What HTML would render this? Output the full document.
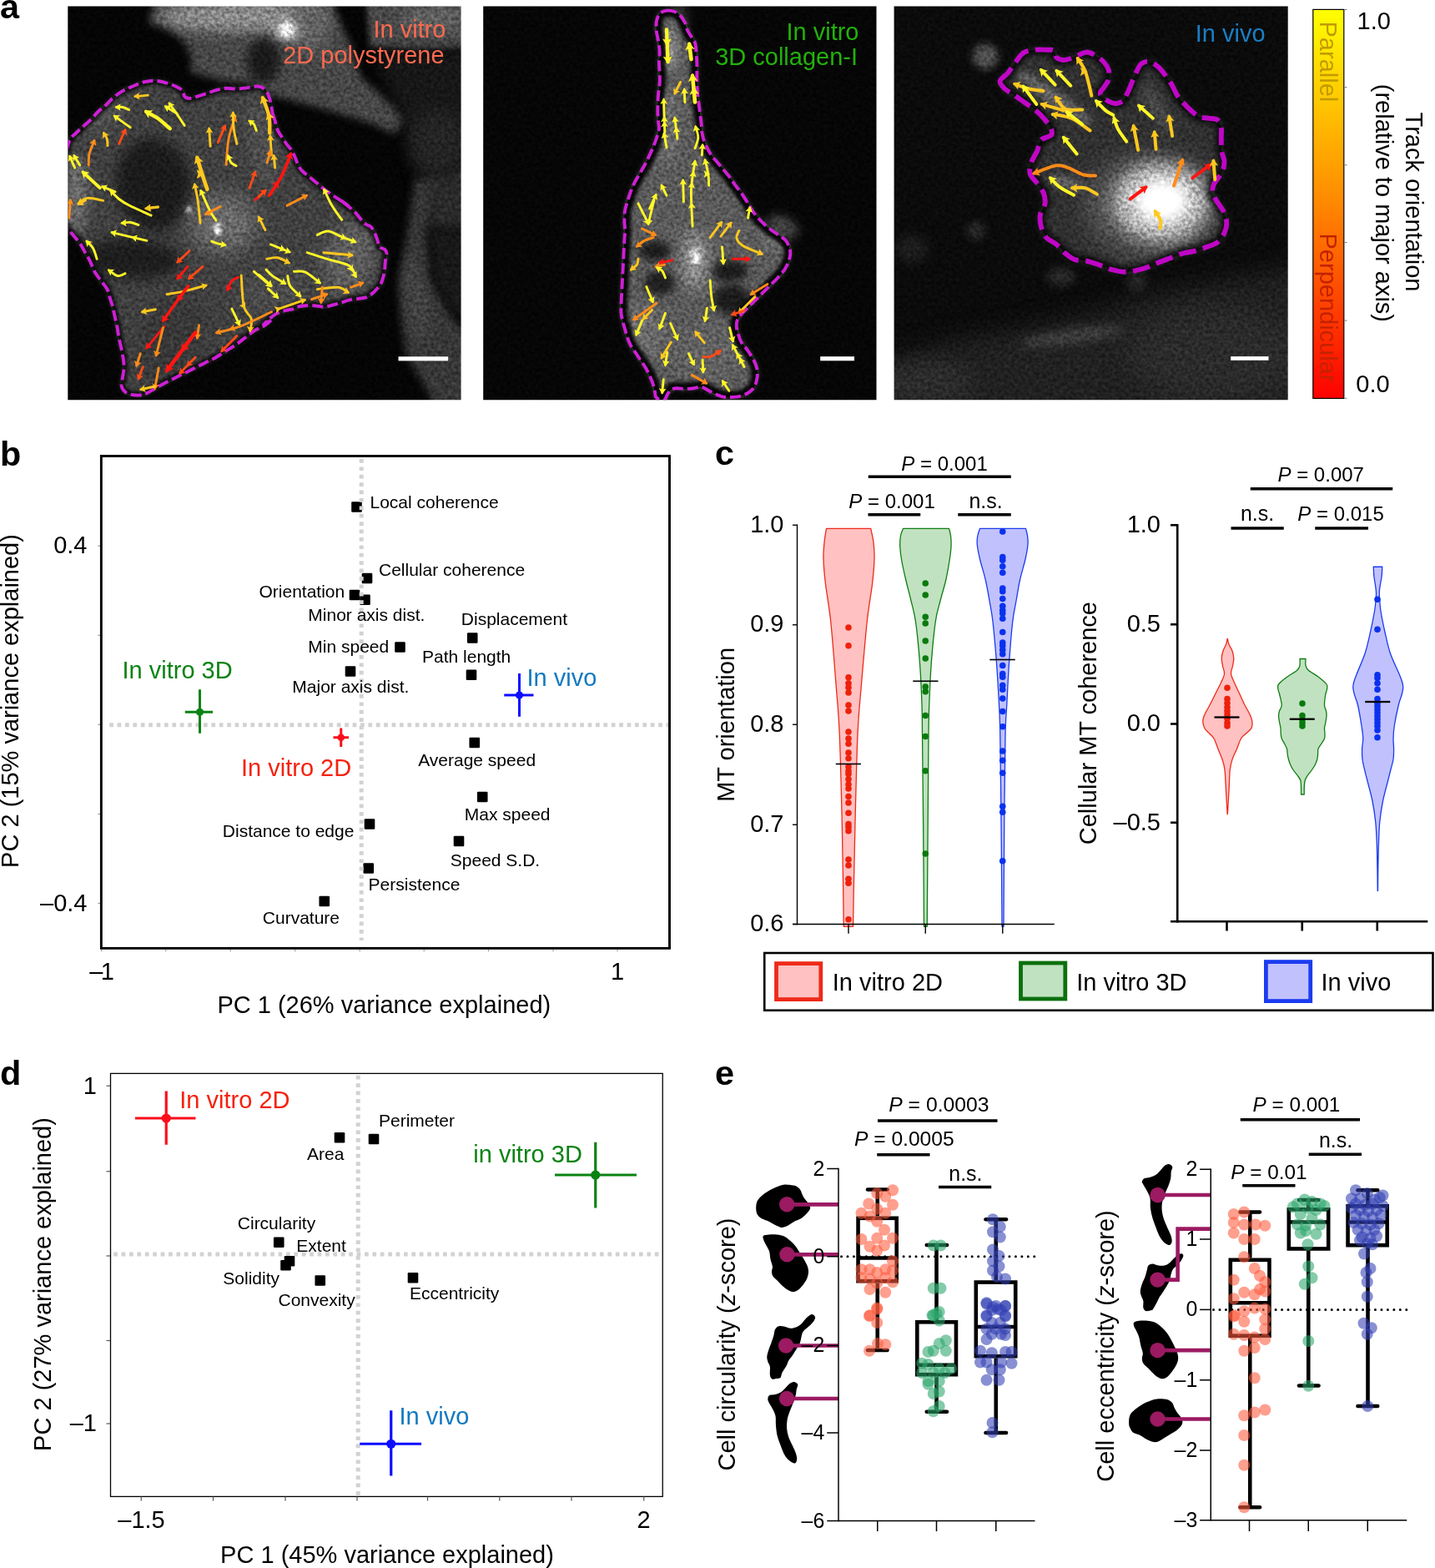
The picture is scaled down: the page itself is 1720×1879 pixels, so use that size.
<!DOCTYPE html>
<html lang="en">
<head>
<meta charset="utf-8">
<title>Microtubule dynamics figure</title>
<style>
html,body{margin:0;padding:0;background:#fff;}
body{width:1720px;height:1879px;overflow:hidden;}
svg{display:block;font-family:"Liberation Sans",sans-serif;}
</style>
</head>
<body>
<svg width="1720" height="1879" viewBox="0 0 1720 1879">
<rect width="1720" height="1879" fill="#fff"/>
<defs>
<filter id="b2" x="-100%" y="-100%" width="300%" height="300%" color-interpolation-filters="sRGB"><feGaussianBlur stdDeviation="2"/></filter>
<filter id="b3" x="-100%" y="-100%" width="300%" height="300%" color-interpolation-filters="sRGB"><feGaussianBlur stdDeviation="3"/></filter>
<filter id="b5" x="-100%" y="-100%" width="300%" height="300%" color-interpolation-filters="sRGB"><feGaussianBlur stdDeviation="5"/></filter>
<filter id="b6" x="-100%" y="-100%" width="300%" height="300%" color-interpolation-filters="sRGB"><feGaussianBlur stdDeviation="6"/></filter>
<filter id="b7" x="-100%" y="-100%" width="300%" height="300%" color-interpolation-filters="sRGB"><feGaussianBlur stdDeviation="7"/></filter>
<filter id="b8" x="-100%" y="-100%" width="300%" height="300%" color-interpolation-filters="sRGB"><feGaussianBlur stdDeviation="8"/></filter>
<filter id="b9" x="-100%" y="-100%" width="300%" height="300%" color-interpolation-filters="sRGB"><feGaussianBlur stdDeviation="9"/></filter>
<filter id="b10" x="-100%" y="-100%" width="300%" height="300%" color-interpolation-filters="sRGB"><feGaussianBlur stdDeviation="10"/></filter>
<filter id="b12" x="-100%" y="-100%" width="300%" height="300%" color-interpolation-filters="sRGB"><feGaussianBlur stdDeviation="12"/></filter>
<filter id="b14" x="-100%" y="-100%" width="300%" height="300%" color-interpolation-filters="sRGB"><feGaussianBlur stdDeviation="14"/></filter>
<filter id="grain" x="0" y="0" width="100%" height="100%" color-interpolation-filters="sRGB">
<feTurbulence type="fractalNoise" baseFrequency="0.24" numOctaves="2" seed="7" result="n"/>
<feColorMatrix in="n" type="matrix" values="0 0 0 0 0  0 0 0 0 0  0 0 0 0 0  1.6 0 0 0 -0.3" result="na"/>
<feColorMatrix in="na" type="matrix" values="0 0 0 1 0  0 0 0 1 0  0 0 0 1 0  0 0 0 0 1" result="ng0"/>
<feGaussianBlur in="ng0" stdDeviation="0.7" result="ng"/>
<feComposite in="SourceGraphic" in2="ng" operator="arithmetic" k1="0.6" k2="0.7" k3="0.02" k4="-0.01"/>
</filter>
<linearGradient id="cb" x1="0" y1="0" x2="0" y2="1"><stop offset="0" stop-color="#ffff00"/><stop offset="0.5" stop-color="#ff8800"/><stop offset="1" stop-color="#ff0000"/></linearGradient>
<clipPath id="ci1"><rect x="81.3" y="7.4" width="471.3" height="471.8"/></clipPath>
<clipPath id="ci2"><rect x="579.2" y="7.4" width="471.3" height="471.8"/></clipPath>
<clipPath id="ci3"><rect x="1071.6" y="7.4" width="472.1" height="471.8"/></clipPath>
</defs>
<g id="panel-a">
<text x="0" y="22.4" font-size="41.4" font-weight="bold">a</text>
<g clip-path="url(#ci1)">
<g filter="url(#grain)">
<rect x="79.3" y="5.4" width="475.3" height="475.8" fill="#050505"/>
<path d="M191 -20L394 -20L400 10L420 54L432 92L487 141L473 161L446 148L390 131L320 113L301 99L292 100L262 96L228 86L230 70L222 52L200 33L178 28Z" fill="#474747" filter="url(#b5)"/>
<path d="M437 -20L580 -20L580 58L500 60L443 56Z" fill="#484848" filter="url(#b3)"/>
<path d="M445 60L580 60L580 215L500 215L490 160Z" fill="#171717" filter="url(#b8)"/>
<ellipse cx="525" cy="170" rx="35" ry="40" fill="#242424" filter="url(#b10)"/>
<ellipse cx="290" cy="20" rx="100" ry="18" fill="#8c8c8c" filter="url(#b8)"/>
<ellipse cx="372" cy="30" rx="25" ry="30" fill="#626262" filter="url(#b8)"/>
<ellipse cx="520" cy="22" rx="40" ry="16" fill="#606060" filter="url(#b8)"/>
<ellipse cx="343.7" cy="36" rx="16" ry="13" fill="#b0b0b0" filter="url(#b6)"/>
<ellipse cx="343.7" cy="35.5" rx="7" ry="9" fill="#ffffff" filter="url(#b3)" transform="rotate(20 343.7 35.5)"/>
<ellipse cx="316" cy="73" rx="20" ry="27" fill="#1a1a1a" filter="url(#b6)"/>
<path d="M497 215L489 275L477.5 334L480 379L486 424L512 468L522 490L580 490L580 424L541 379L516 334L512 275L530 215L580 200L580 215Z" fill="#373737" filter="url(#b5)"/>
<path d="M512 215L580 205L580 275L514 275Z" fill="#2a2a2a" filter="url(#b6)"/>
<path d="M514 275L580 270L580 375L543 378L518 334Z" fill="#181818" filter="url(#b6)"/>
<ellipse cx="500" cy="360" rx="12" ry="50" fill="#424242" filter="url(#b6)" transform="rotate(-8 500 360)"/>
<clipPath id="co1"><path d="M76.05 198.03C76.8 182.98 79.2 182.16 80.58 176.87C81.97 171.58 82.6 169.19 84.36 166.29C86.12 163.39 88.52 162.01 91.16 159.49C93.81 156.97 97.21 153.94 100.23 151.17C103.26 148.4 106.28 145.88 109.3 142.86C112.33 139.83 115.35 135.93 118.37 133.03C121.4 130.13 124.42 128.24 127.45 125.47C130.47 122.7 132.99 119.3 136.52 116.4C140.04 113.5 144.58 110.36 148.61 108.09C152.64 105.82 156.67 104.43 160.7 102.8C164.73 101.16 168.77 99.27 172.8 98.26C176.83 97.25 180.61 96.62 184.89 96.75C189.17 96.88 194.21 97.88 198.5 99.02C202.78 100.15 207.19 101.91 210.59 103.55C213.99 105.19 217.14 106.83 218.9 108.84C220.67 110.86 219.79 114.13 221.17 115.65C222.56 117.16 224.7 117.91 227.22 117.91C229.74 117.91 232.76 116.65 236.29 115.65C239.82 114.64 244.6 113.13 248.38 111.87C252.16 110.61 255.19 109.1 258.96 108.09C262.74 107.08 266.78 106.07 271.06 105.82C275.34 105.57 280.38 106.7 284.66 106.58C288.95 106.45 292.73 105.57 296.76 105.06C300.79 104.56 305.32 103.17 308.85 103.55C312.38 103.93 315.65 105.19 317.92 107.33C320.19 109.47 321.2 112.87 322.46 116.4C323.72 119.93 324.72 124.46 325.48 128.5C326.24 132.53 326.8 139.33 326.99 140.59C327.18 141.85 326.19 135.3 326.63 136.05C327.07 136.81 328.64 141.85 329.65 145.12C330.66 148.4 331.42 152.68 332.68 155.71C333.94 158.73 335.45 160.49 337.21 163.27C338.97 166.04 341.24 169.56 343.26 172.34C345.27 175.11 347.54 177.12 349.3 179.89C351.07 182.67 352.58 186.19 353.84 188.96C355.1 191.74 355.6 194 356.86 196.52C358.12 199.04 359.13 201.56 361.4 204.08C363.67 206.6 367.45 209.12 370.47 211.64C373.49 214.16 376.52 216.68 379.54 219.2C382.56 221.72 385.33 224.24 388.61 226.76C391.88 229.28 395.92 232.05 399.19 234.32C402.47 236.58 405.24 238.35 408.26 240.36C411.28 242.38 417.33 246.47 417.33 246.41C417.33 246.35 408.51 240.06 408.26 240C408.01 239.94 413.05 243.78 415.82 246.05C418.59 248.31 422.12 250.83 424.89 253.61C427.66 256.38 430.18 260.16 432.45 262.68C434.72 265.2 436.48 267.21 438.5 268.72C440.51 270.23 442.78 269.98 444.54 271.75C446.31 273.51 447.82 276.79 449.08 279.3C450.34 281.82 451.09 284.09 452.1 286.86C453.11 289.63 453.61 293.92 455.12 295.93C456.64 297.95 459.79 297.7 461.17 298.96C462.56 300.22 463.31 301.22 463.44 303.49C463.57 305.76 462.31 309.54 461.93 312.56C461.55 315.59 461.55 318.61 461.17 321.63C460.79 324.66 460.42 327.68 459.66 330.7C458.9 333.73 457.9 337.25 456.64 339.77C455.38 342.29 453.86 343.8 452.1 345.82C450.34 347.84 448.32 350.1 446.05 351.87C443.79 353.63 441.27 355.39 438.5 356.4C435.72 357.41 432.7 357.41 429.43 357.91C426.15 358.42 422.12 358.67 418.84 359.43C415.57 360.18 413.05 361.44 409.77 362.45C406.5 363.46 402.72 364.59 399.19 365.47C395.66 366.35 392.39 367.61 388.61 367.74C384.83 367.87 380.29 366.48 376.52 366.23C372.74 365.98 369.21 365.98 365.93 366.23C362.66 366.48 359.13 367.11 356.86 367.74C354.6 368.37 354.34 369.38 352.33 370.01C350.31 370.64 347.04 371.02 344.77 371.52C342.5 372.02 341.24 372.15 338.72 373.03C336.2 373.91 332.42 375.17 329.65 376.81C326.88 378.45 324.36 380.84 322.09 382.86C319.83 384.87 315.48 388.9 316.05 388.9C316.61 388.9 325.17 382.73 325.48 382.86C325.79 382.98 321.2 387.52 317.92 389.66C314.65 391.8 309.86 393.19 305.83 395.71C301.8 398.23 297.77 401.75 293.73 404.78C289.7 407.8 285.67 411.08 281.64 413.85C277.61 416.62 273.58 418.89 269.55 421.41C265.52 423.93 261.48 426.7 257.45 428.96C253.42 431.23 249.39 433 245.36 435.01C241.33 437.03 237.3 439.04 233.27 441.06C229.23 443.07 225.2 445.09 221.17 447.11C217.14 449.12 213.11 451.14 209.08 453.15C205.05 455.17 200.76 457.18 196.98 459.2C193.2 461.21 189.93 463.23 186.4 465.25C182.87 467.26 178.84 469.91 175.82 471.29C172.8 472.68 171.28 473.31 168.26 473.56C165.24 473.81 160.7 473.43 157.68 472.8C154.66 472.17 152.14 471.54 150.12 469.78C148.11 468.02 146.09 465.25 145.59 462.22C145.08 459.2 146.59 455.17 147.1 451.64C147.6 448.11 148.48 444.59 148.61 441.06C148.74 437.53 148.36 434.26 147.85 430.48C147.35 426.7 146.47 422.67 145.59 418.38C144.7 414.1 143.44 409.31 142.56 404.78C141.68 400.24 141.18 395.71 140.29 391.17C139.41 386.64 138.15 381.6 137.27 377.57C136.39 373.53 135.89 370.26 135 366.98C134.12 363.71 132.99 361.19 131.98 357.91C130.97 354.64 130.72 350.86 128.96 347.33C127.19 343.8 123.92 340.28 121.4 336.75C118.88 333.22 116.11 330.2 113.84 326.17C111.57 322.14 109.81 316.59 107.79 312.56C105.78 308.53 103.76 305.51 101.75 301.98C99.73 298.45 97.97 294.67 95.7 291.4C93.43 288.12 90.41 285.1 88.14 282.33C85.87 279.56 84.11 277.29 82.09 274.77C80.08 272.25 77.05 280 76.05 267.21C75.04 254.42 75.29 213.09 76.05 198.03Z"/></clipPath>
<path d="M76.05 198.03C76.8 182.98 79.2 182.16 80.58 176.87C81.97 171.58 82.6 169.19 84.36 166.29C86.12 163.39 88.52 162.01 91.16 159.49C93.81 156.97 97.21 153.94 100.23 151.17C103.26 148.4 106.28 145.88 109.3 142.86C112.33 139.83 115.35 135.93 118.37 133.03C121.4 130.13 124.42 128.24 127.45 125.47C130.47 122.7 132.99 119.3 136.52 116.4C140.04 113.5 144.58 110.36 148.61 108.09C152.64 105.82 156.67 104.43 160.7 102.8C164.73 101.16 168.77 99.27 172.8 98.26C176.83 97.25 180.61 96.62 184.89 96.75C189.17 96.88 194.21 97.88 198.5 99.02C202.78 100.15 207.19 101.91 210.59 103.55C213.99 105.19 217.14 106.83 218.9 108.84C220.67 110.86 219.79 114.13 221.17 115.65C222.56 117.16 224.7 117.91 227.22 117.91C229.74 117.91 232.76 116.65 236.29 115.65C239.82 114.64 244.6 113.13 248.38 111.87C252.16 110.61 255.19 109.1 258.96 108.09C262.74 107.08 266.78 106.07 271.06 105.82C275.34 105.57 280.38 106.7 284.66 106.58C288.95 106.45 292.73 105.57 296.76 105.06C300.79 104.56 305.32 103.17 308.85 103.55C312.38 103.93 315.65 105.19 317.92 107.33C320.19 109.47 321.2 112.87 322.46 116.4C323.72 119.93 324.72 124.46 325.48 128.5C326.24 132.53 326.8 139.33 326.99 140.59C327.18 141.85 326.19 135.3 326.63 136.05C327.07 136.81 328.64 141.85 329.65 145.12C330.66 148.4 331.42 152.68 332.68 155.71C333.94 158.73 335.45 160.49 337.21 163.27C338.97 166.04 341.24 169.56 343.26 172.34C345.27 175.11 347.54 177.12 349.3 179.89C351.07 182.67 352.58 186.19 353.84 188.96C355.1 191.74 355.6 194 356.86 196.52C358.12 199.04 359.13 201.56 361.4 204.08C363.67 206.6 367.45 209.12 370.47 211.64C373.49 214.16 376.52 216.68 379.54 219.2C382.56 221.72 385.33 224.24 388.61 226.76C391.88 229.28 395.92 232.05 399.19 234.32C402.47 236.58 405.24 238.35 408.26 240.36C411.28 242.38 417.33 246.47 417.33 246.41C417.33 246.35 408.51 240.06 408.26 240C408.01 239.94 413.05 243.78 415.82 246.05C418.59 248.31 422.12 250.83 424.89 253.61C427.66 256.38 430.18 260.16 432.45 262.68C434.72 265.2 436.48 267.21 438.5 268.72C440.51 270.23 442.78 269.98 444.54 271.75C446.31 273.51 447.82 276.79 449.08 279.3C450.34 281.82 451.09 284.09 452.1 286.86C453.11 289.63 453.61 293.92 455.12 295.93C456.64 297.95 459.79 297.7 461.17 298.96C462.56 300.22 463.31 301.22 463.44 303.49C463.57 305.76 462.31 309.54 461.93 312.56C461.55 315.59 461.55 318.61 461.17 321.63C460.79 324.66 460.42 327.68 459.66 330.7C458.9 333.73 457.9 337.25 456.64 339.77C455.38 342.29 453.86 343.8 452.1 345.82C450.34 347.84 448.32 350.1 446.05 351.87C443.79 353.63 441.27 355.39 438.5 356.4C435.72 357.41 432.7 357.41 429.43 357.91C426.15 358.42 422.12 358.67 418.84 359.43C415.57 360.18 413.05 361.44 409.77 362.45C406.5 363.46 402.72 364.59 399.19 365.47C395.66 366.35 392.39 367.61 388.61 367.74C384.83 367.87 380.29 366.48 376.52 366.23C372.74 365.98 369.21 365.98 365.93 366.23C362.66 366.48 359.13 367.11 356.86 367.74C354.6 368.37 354.34 369.38 352.33 370.01C350.31 370.64 347.04 371.02 344.77 371.52C342.5 372.02 341.24 372.15 338.72 373.03C336.2 373.91 332.42 375.17 329.65 376.81C326.88 378.45 324.36 380.84 322.09 382.86C319.83 384.87 315.48 388.9 316.05 388.9C316.61 388.9 325.17 382.73 325.48 382.86C325.79 382.98 321.2 387.52 317.92 389.66C314.65 391.8 309.86 393.19 305.83 395.71C301.8 398.23 297.77 401.75 293.73 404.78C289.7 407.8 285.67 411.08 281.64 413.85C277.61 416.62 273.58 418.89 269.55 421.41C265.52 423.93 261.48 426.7 257.45 428.96C253.42 431.23 249.39 433 245.36 435.01C241.33 437.03 237.3 439.04 233.27 441.06C229.23 443.07 225.2 445.09 221.17 447.11C217.14 449.12 213.11 451.14 209.08 453.15C205.05 455.17 200.76 457.18 196.98 459.2C193.2 461.21 189.93 463.23 186.4 465.25C182.87 467.26 178.84 469.91 175.82 471.29C172.8 472.68 171.28 473.31 168.26 473.56C165.24 473.81 160.7 473.43 157.68 472.8C154.66 472.17 152.14 471.54 150.12 469.78C148.11 468.02 146.09 465.25 145.59 462.22C145.08 459.2 146.59 455.17 147.1 451.64C147.6 448.11 148.48 444.59 148.61 441.06C148.74 437.53 148.36 434.26 147.85 430.48C147.35 426.7 146.47 422.67 145.59 418.38C144.7 414.1 143.44 409.31 142.56 404.78C141.68 400.24 141.18 395.71 140.29 391.17C139.41 386.64 138.15 381.6 137.27 377.57C136.39 373.53 135.89 370.26 135 366.98C134.12 363.71 132.99 361.19 131.98 357.91C130.97 354.64 130.72 350.86 128.96 347.33C127.19 343.8 123.92 340.28 121.4 336.75C118.88 333.22 116.11 330.2 113.84 326.17C111.57 322.14 109.81 316.59 107.79 312.56C105.78 308.53 103.76 305.51 101.75 301.98C99.73 298.45 97.97 294.67 95.7 291.4C93.43 288.12 90.41 285.1 88.14 282.33C85.87 279.56 84.11 277.29 82.09 274.77C80.08 272.25 77.05 280 76.05 267.21C75.04 254.42 75.29 213.09 76.05 198.03Z" fill="#404040" filter="url(#b3)"/>
<g clip-path="url(#co1)">
<ellipse cx="183.91" cy="221.05" rx="45.28" ry="56.26" fill="#1b1b1b" filter="url(#b8)" transform="rotate(-8 183.91 221.05)"/>
<ellipse cx="157.84" cy="310.24" rx="59" ry="24.7" fill="#1d1d1d" filter="url(#b8)" transform="rotate(3 157.84 310.24)"/>
<ellipse cx="267.61" cy="267.7" rx="41.16" ry="35.68" fill="#6a6a6a" filter="url(#b12)"/>
<ellipse cx="260.75" cy="274.56" rx="4.39" ry="7.14" fill="#f4f4f4" filter="url(#b2)"/>
<ellipse cx="226.44" cy="251.24" rx="3.29" ry="3.29" fill="#e0e0e0" filter="url(#b2)"/>
<ellipse cx="418.54" cy="308.87" rx="30.19" ry="43.91" fill="#5e5e5e" filter="url(#b10)" transform="rotate(20 418.54 308.87)"/>
<ellipse cx="91.98" cy="234.77" rx="13.72" ry="46.65" fill="#6a6a6a" filter="url(#b7)"/>
<ellipse cx="124.91" cy="138.72" rx="32.93" ry="13.72" fill="#505050" filter="url(#b7)" transform="rotate(-35 124.91 138.72)"/>
<ellipse cx="314.26" cy="171.65" rx="16.47" ry="54.88" fill="#4e4e4e" filter="url(#b8)" transform="rotate(-10 314.26 171.65)"/>
<ellipse cx="204.49" cy="404.91" rx="38.42" ry="54.88" fill="#383838" filter="url(#b10)" transform="rotate(25 204.49 404.91)"/>
<ellipse cx="327.98" cy="350.03" rx="41.16" ry="27.44" fill="#4c4c4c" filter="url(#b12)"/>
<path d="M76.05 198.03C76.8 182.98 79.2 182.16 80.58 176.87C81.97 171.58 82.6 169.19 84.36 166.29C86.12 163.39 88.52 162.01 91.16 159.49C93.81 156.97 97.21 153.94 100.23 151.17C103.26 148.4 106.28 145.88 109.3 142.86C112.33 139.83 115.35 135.93 118.37 133.03C121.4 130.13 124.42 128.24 127.45 125.47C130.47 122.7 132.99 119.3 136.52 116.4C140.04 113.5 144.58 110.36 148.61 108.09C152.64 105.82 156.67 104.43 160.7 102.8C164.73 101.16 168.77 99.27 172.8 98.26C176.83 97.25 180.61 96.62 184.89 96.75C189.17 96.88 194.21 97.88 198.5 99.02C202.78 100.15 207.19 101.91 210.59 103.55C213.99 105.19 217.14 106.83 218.9 108.84C220.67 110.86 219.79 114.13 221.17 115.65C222.56 117.16 224.7 117.91 227.22 117.91C229.74 117.91 232.76 116.65 236.29 115.65C239.82 114.64 244.6 113.13 248.38 111.87C252.16 110.61 255.19 109.1 258.96 108.09C262.74 107.08 266.78 106.07 271.06 105.82C275.34 105.57 280.38 106.7 284.66 106.58C288.95 106.45 292.73 105.57 296.76 105.06C300.79 104.56 305.32 103.17 308.85 103.55C312.38 103.93 315.65 105.19 317.92 107.33C320.19 109.47 321.2 112.87 322.46 116.4C323.72 119.93 324.72 124.46 325.48 128.5C326.24 132.53 326.8 139.33 326.99 140.59C327.18 141.85 326.19 135.3 326.63 136.05C327.07 136.81 328.64 141.85 329.65 145.12C330.66 148.4 331.42 152.68 332.68 155.71C333.94 158.73 335.45 160.49 337.21 163.27C338.97 166.04 341.24 169.56 343.26 172.34C345.27 175.11 347.54 177.12 349.3 179.89C351.07 182.67 352.58 186.19 353.84 188.96C355.1 191.74 355.6 194 356.86 196.52C358.12 199.04 359.13 201.56 361.4 204.08C363.67 206.6 367.45 209.12 370.47 211.64C373.49 214.16 376.52 216.68 379.54 219.2C382.56 221.72 385.33 224.24 388.61 226.76C391.88 229.28 395.92 232.05 399.19 234.32C402.47 236.58 405.24 238.35 408.26 240.36C411.28 242.38 417.33 246.47 417.33 246.41C417.33 246.35 408.51 240.06 408.26 240C408.01 239.94 413.05 243.78 415.82 246.05C418.59 248.31 422.12 250.83 424.89 253.61C427.66 256.38 430.18 260.16 432.45 262.68C434.72 265.2 436.48 267.21 438.5 268.72C440.51 270.23 442.78 269.98 444.54 271.75C446.31 273.51 447.82 276.79 449.08 279.3C450.34 281.82 451.09 284.09 452.1 286.86C453.11 289.63 453.61 293.92 455.12 295.93C456.64 297.95 459.79 297.7 461.17 298.96C462.56 300.22 463.31 301.22 463.44 303.49C463.57 305.76 462.31 309.54 461.93 312.56C461.55 315.59 461.55 318.61 461.17 321.63C460.79 324.66 460.42 327.68 459.66 330.7C458.9 333.73 457.9 337.25 456.64 339.77C455.38 342.29 453.86 343.8 452.1 345.82C450.34 347.84 448.32 350.1 446.05 351.87C443.79 353.63 441.27 355.39 438.5 356.4C435.72 357.41 432.7 357.41 429.43 357.91C426.15 358.42 422.12 358.67 418.84 359.43C415.57 360.18 413.05 361.44 409.77 362.45C406.5 363.46 402.72 364.59 399.19 365.47C395.66 366.35 392.39 367.61 388.61 367.74C384.83 367.87 380.29 366.48 376.52 366.23C372.74 365.98 369.21 365.98 365.93 366.23C362.66 366.48 359.13 367.11 356.86 367.74C354.6 368.37 354.34 369.38 352.33 370.01C350.31 370.64 347.04 371.02 344.77 371.52C342.5 372.02 341.24 372.15 338.72 373.03C336.2 373.91 332.42 375.17 329.65 376.81C326.88 378.45 324.36 380.84 322.09 382.86C319.83 384.87 315.48 388.9 316.05 388.9C316.61 388.9 325.17 382.73 325.48 382.86C325.79 382.98 321.2 387.52 317.92 389.66C314.65 391.8 309.86 393.19 305.83 395.71C301.8 398.23 297.77 401.75 293.73 404.78C289.7 407.8 285.67 411.08 281.64 413.85C277.61 416.62 273.58 418.89 269.55 421.41C265.52 423.93 261.48 426.7 257.45 428.96C253.42 431.23 249.39 433 245.36 435.01C241.33 437.03 237.3 439.04 233.27 441.06C229.23 443.07 225.2 445.09 221.17 447.11C217.14 449.12 213.11 451.14 209.08 453.15C205.05 455.17 200.76 457.18 196.98 459.2C193.2 461.21 189.93 463.23 186.4 465.25C182.87 467.26 178.84 469.91 175.82 471.29C172.8 472.68 171.28 473.31 168.26 473.56C165.24 473.81 160.7 473.43 157.68 472.8C154.66 472.17 152.14 471.54 150.12 469.78C148.11 468.02 146.09 465.25 145.59 462.22C145.08 459.2 146.59 455.17 147.1 451.64C147.6 448.11 148.48 444.59 148.61 441.06C148.74 437.53 148.36 434.26 147.85 430.48C147.35 426.7 146.47 422.67 145.59 418.38C144.7 414.1 143.44 409.31 142.56 404.78C141.68 400.24 141.18 395.71 140.29 391.17C139.41 386.64 138.15 381.6 137.27 377.57C136.39 373.53 135.89 370.26 135 366.98C134.12 363.71 132.99 361.19 131.98 357.91C130.97 354.64 130.72 350.86 128.96 347.33C127.19 343.8 123.92 340.28 121.4 336.75C118.88 333.22 116.11 330.2 113.84 326.17C111.57 322.14 109.81 316.59 107.79 312.56C105.78 308.53 103.76 305.51 101.75 301.98C99.73 298.45 97.97 294.67 95.7 291.4C93.43 288.12 90.41 285.1 88.14 282.33C85.87 279.56 84.11 277.29 82.09 274.77C80.08 272.25 77.05 280 76.05 267.21C75.04 254.42 75.29 213.09 76.05 198.03Z" fill="none" stroke="#050505" stroke-width="9" filter="url(#b2)" opacity="0.8"/>
</g>
</g>
<path d="M76.05 198.03C76.8 182.98 79.2 182.16 80.58 176.87C81.97 171.58 82.6 169.19 84.36 166.29C86.12 163.39 88.52 162.01 91.16 159.49C93.81 156.97 97.21 153.94 100.23 151.17C103.26 148.4 106.28 145.88 109.3 142.86C112.33 139.83 115.35 135.93 118.37 133.03C121.4 130.13 124.42 128.24 127.45 125.47C130.47 122.7 132.99 119.3 136.52 116.4C140.04 113.5 144.58 110.36 148.61 108.09C152.64 105.82 156.67 104.43 160.7 102.8C164.73 101.16 168.77 99.27 172.8 98.26C176.83 97.25 180.61 96.62 184.89 96.75C189.17 96.88 194.21 97.88 198.5 99.02C202.78 100.15 207.19 101.91 210.59 103.55C213.99 105.19 217.14 106.83 218.9 108.84C220.67 110.86 219.79 114.13 221.17 115.65C222.56 117.16 224.7 117.91 227.22 117.91C229.74 117.91 232.76 116.65 236.29 115.65C239.82 114.64 244.6 113.13 248.38 111.87C252.16 110.61 255.19 109.1 258.96 108.09C262.74 107.08 266.78 106.07 271.06 105.82C275.34 105.57 280.38 106.7 284.66 106.58C288.95 106.45 292.73 105.57 296.76 105.06C300.79 104.56 305.32 103.17 308.85 103.55C312.38 103.93 315.65 105.19 317.92 107.33C320.19 109.47 321.2 112.87 322.46 116.4C323.72 119.93 324.72 124.46 325.48 128.5C326.24 132.53 326.8 139.33 326.99 140.59C327.18 141.85 326.19 135.3 326.63 136.05C327.07 136.81 328.64 141.85 329.65 145.12C330.66 148.4 331.42 152.68 332.68 155.71C333.94 158.73 335.45 160.49 337.21 163.27C338.97 166.04 341.24 169.56 343.26 172.34C345.27 175.11 347.54 177.12 349.3 179.89C351.07 182.67 352.58 186.19 353.84 188.96C355.1 191.74 355.6 194 356.86 196.52C358.12 199.04 359.13 201.56 361.4 204.08C363.67 206.6 367.45 209.12 370.47 211.64C373.49 214.16 376.52 216.68 379.54 219.2C382.56 221.72 385.33 224.24 388.61 226.76C391.88 229.28 395.92 232.05 399.19 234.32C402.47 236.58 405.24 238.35 408.26 240.36C411.28 242.38 417.33 246.47 417.33 246.41C417.33 246.35 408.51 240.06 408.26 240C408.01 239.94 413.05 243.78 415.82 246.05C418.59 248.31 422.12 250.83 424.89 253.61C427.66 256.38 430.18 260.16 432.45 262.68C434.72 265.2 436.48 267.21 438.5 268.72C440.51 270.23 442.78 269.98 444.54 271.75C446.31 273.51 447.82 276.79 449.08 279.3C450.34 281.82 451.09 284.09 452.1 286.86C453.11 289.63 453.61 293.92 455.12 295.93C456.64 297.95 459.79 297.7 461.17 298.96C462.56 300.22 463.31 301.22 463.44 303.49C463.57 305.76 462.31 309.54 461.93 312.56C461.55 315.59 461.55 318.61 461.17 321.63C460.79 324.66 460.42 327.68 459.66 330.7C458.9 333.73 457.9 337.25 456.64 339.77C455.38 342.29 453.86 343.8 452.1 345.82C450.34 347.84 448.32 350.1 446.05 351.87C443.79 353.63 441.27 355.39 438.5 356.4C435.72 357.41 432.7 357.41 429.43 357.91C426.15 358.42 422.12 358.67 418.84 359.43C415.57 360.18 413.05 361.44 409.77 362.45C406.5 363.46 402.72 364.59 399.19 365.47C395.66 366.35 392.39 367.61 388.61 367.74C384.83 367.87 380.29 366.48 376.52 366.23C372.74 365.98 369.21 365.98 365.93 366.23C362.66 366.48 359.13 367.11 356.86 367.74C354.6 368.37 354.34 369.38 352.33 370.01C350.31 370.64 347.04 371.02 344.77 371.52C342.5 372.02 341.24 372.15 338.72 373.03C336.2 373.91 332.42 375.17 329.65 376.81C326.88 378.45 324.36 380.84 322.09 382.86C319.83 384.87 315.48 388.9 316.05 388.9C316.61 388.9 325.17 382.73 325.48 382.86C325.79 382.98 321.2 387.52 317.92 389.66C314.65 391.8 309.86 393.19 305.83 395.71C301.8 398.23 297.77 401.75 293.73 404.78C289.7 407.8 285.67 411.08 281.64 413.85C277.61 416.62 273.58 418.89 269.55 421.41C265.52 423.93 261.48 426.7 257.45 428.96C253.42 431.23 249.39 433 245.36 435.01C241.33 437.03 237.3 439.04 233.27 441.06C229.23 443.07 225.2 445.09 221.17 447.11C217.14 449.12 213.11 451.14 209.08 453.15C205.05 455.17 200.76 457.18 196.98 459.2C193.2 461.21 189.93 463.23 186.4 465.25C182.87 467.26 178.84 469.91 175.82 471.29C172.8 472.68 171.28 473.31 168.26 473.56C165.24 473.81 160.7 473.43 157.68 472.8C154.66 472.17 152.14 471.54 150.12 469.78C148.11 468.02 146.09 465.25 145.59 462.22C145.08 459.2 146.59 455.17 147.1 451.64C147.6 448.11 148.48 444.59 148.61 441.06C148.74 437.53 148.36 434.26 147.85 430.48C147.35 426.7 146.47 422.67 145.59 418.38C144.7 414.1 143.44 409.31 142.56 404.78C141.68 400.24 141.18 395.71 140.29 391.17C139.41 386.64 138.15 381.6 137.27 377.57C136.39 373.53 135.89 370.26 135 366.98C134.12 363.71 132.99 361.19 131.98 357.91C130.97 354.64 130.72 350.86 128.96 347.33C127.19 343.8 123.92 340.28 121.4 336.75C118.88 333.22 116.11 330.2 113.84 326.17C111.57 322.14 109.81 316.59 107.79 312.56C105.78 308.53 103.76 305.51 101.75 301.98C99.73 298.45 97.97 294.67 95.7 291.4C93.43 288.12 90.41 285.1 88.14 282.33C85.87 279.56 84.11 277.29 82.09 274.77C80.08 272.25 77.05 280 76.05 267.21C75.04 254.42 75.29 213.09 76.05 198.03Z" fill="none" stroke="#cf1fd6" stroke-width="3.9" stroke-dasharray="13 5"/>
<path d="M177.33 114.13L162.21 115.65" fill="none" stroke="#ffc81e" stroke-width="2.9" stroke-linecap="round"/><path d="M160 115.87L167.81 119.48L165.9 115.28L166.94 110.78Z" fill="#ffc81e"/><path d="M154.66 131.52C153.4 131.02 149.62 129 147.1 128.5C144.58 127.99 140.8 128.5 139.54 128.5" fill="none" stroke="#fff629" stroke-width="2.9" stroke-linecap="round"/><path d="M137.32 128.5L144.73 132.86L143.24 128.5L144.73 124.13Z" fill="#fff629"/><path d="M156.17 152.68C154.4 151.42 148.74 147.39 145.59 145.12C142.44 142.86 138.66 140.09 137.27 139.08" fill="none" stroke="#fff629" stroke-width="2.9" stroke-linecap="round"/><path d="M135.47 137.77L138.9 145.66L140.27 141.26L144.04 138.6Z" fill="#fff629"/><path d="M203.79 154.2C201.39 152.18 194.21 145.5 189.43 142.1C184.64 138.7 177.46 135.17 175.06 133.79" fill="none" stroke="#fff629" stroke-width="4.35" stroke-linecap="round"/><path d="M172.66 132.39L177.94 141.76L179.07 136.11L183.41 132.31Z" fill="#fff629"/><path d="M221.17 150.42C219.41 147.77 213.61 138.95 210.59 134.54C207.57 130.13 204.29 125.72 203.03 123.96" fill="none" stroke="#fff629" stroke-width="2.9" stroke-linecap="round"/><path d="M201.74 122.15L202.49 130.72L205.18 126.98L209.6 125.64Z" fill="#fff629"/><path d="M212.1 136.05L198.5 127.74" fill="none" stroke="#fff629" stroke-width="2.9" stroke-linecap="round"/><path d="M196.6 126.58L200.64 134.17L201.66 129.67L205.2 126.72Z" fill="#fff629"/><path d="M128.96 174.6C128.83 173.22 128.96 168.81 128.2 166.29C127.45 163.77 125.05 160.62 124.42 159.49" fill="none" stroke="#ffc81e" stroke-width="2.9" stroke-linecap="round"/><path d="M123.34 157.54L123.12 166.14L126.22 162.72L130.76 161.9Z" fill="#ffc81e"/><path d="M142.56 172.34L150.12 155.71" fill="none" stroke="#ff4a16" stroke-width="2.9" stroke-linecap="round"/><path d="M151.04 153.68L144 158.62L148.59 159.08L151.95 162.24Z" fill="#ff4a16"/><path d="M106.28 198.03C106.41 195.77 105.9 189.34 107.04 184.43C108.17 179.52 112.08 171.2 113.08 168.56" fill="none" stroke="#ff8c19" stroke-width="2.9" stroke-linecap="round"/><path d="M113.88 166.48L107.16 171.85L111.76 172.02L115.32 174.96Z" fill="#ff8c19"/><path d="M89.65 201.06L83.61 187.45" fill="none" stroke="#fff629" stroke-width="2.9" stroke-linecap="round"/><path d="M82.7 185.42L81.72 193.97L85.11 190.84L89.7 190.42Z" fill="#fff629"/><path d="M95.7 198.03L88.9 186.7" fill="none" stroke="#fff629" stroke-width="2.9" stroke-linecap="round"/><path d="M87.75 184.79L87.82 193.39L90.8 189.87L95.31 188.9Z" fill="#fff629"/><path d="M119.89 225.25L99.48 206.35" fill="none" stroke="#fff629" stroke-width="3.77" stroke-linecap="round"/><path d="M97.6 204.61L100.44 214.09L102.6 209.24L107.27 206.72Z" fill="#fff629"/><path d="M138.03 229.78L122.91 223.73" fill="none" stroke="#fff629" stroke-width="2.9" stroke-linecap="round"/><path d="M120.85 222.91L126.1 229.72L126.35 225.11L129.35 221.6Z" fill="#fff629"/><path d="M123.67 240.36C120.52 239.86 109.68 236.84 104.77 237.34C99.86 237.84 95.95 242.38 94.19 243.39" fill="none" stroke="#ffc81e" stroke-width="2.9" stroke-linecap="round"/><path d="M92.26 244.49L100.86 244.61L97.4 241.55L96.52 237.02Z" fill="#ffc81e"/><path d="M252.16 175.36L250.65 154.2" fill="none" stroke="#ffc81e" stroke-width="2.9" stroke-linecap="round"/><path d="M250.49 151.98L246.66 159.68L250.91 157.89L255.38 159.06Z" fill="#ffc81e"/><path d="M261.23 170.82L269.55 151.17" fill="none" stroke="#ff4a16" stroke-width="2.9" stroke-linecap="round"/><path d="M270.41 149.12L263.5 154.25L268.1 154.58L271.55 157.65Z" fill="#ff4a16"/><path d="M271.06 197.28C271.56 192.11 272.32 175.74 274.08 166.29C275.85 156.84 280.38 144.87 281.64 140.59" fill="none" stroke="#ff8c19" stroke-width="2.9" stroke-linecap="round"/><path d="M282.27 138.46L275.99 144.33L280.59 144.14L284.37 146.8Z" fill="#ff8c19"/><path d="M283.91 172.34C283.28 169.31 280.88 160.37 280.13 154.2C279.37 148.02 279.5 138.45 279.37 135.3" fill="none" stroke="#ffc81e" stroke-width="2.9" stroke-linecap="round"/><path d="M279.28 133.08L275.22 140.66L279.52 139L283.94 140.31Z" fill="#ffc81e"/><path d="M283.15 198.79C282.14 198.16 278.74 197.03 277.11 195.01C275.47 193 273.96 188.08 273.33 186.7" fill="none" stroke="#fff629" stroke-width="2.9" stroke-linecap="round"/><path d="M272.41 184.67L271.5 193.23L274.86 190.07L279.45 189.61Z" fill="#fff629"/><path d="M307.34 156.46C306.84 155.2 305.7 150.79 304.32 148.9C302.93 147.01 299.91 145.75 299.02 145.12" fill="none" stroke="#fff629" stroke-width="2.9" stroke-linecap="round"/><path d="M297.22 143.83L300.71 151.69L302.04 147.28L305.78 144.59Z" fill="#fff629"/><path d="M323.21 159.49C323.09 156.08 323.84 146.13 322.46 139.08C321.07 132.02 316.16 120.81 314.9 117.16" fill="none" stroke="#ffc81e" stroke-width="4.35" stroke-linecap="round"/><path d="M313.99 114.53L311.85 125.07L316.41 121.54L322.17 121.51Z" fill="#ffc81e"/><path d="M320.79 134.26L318.65 144.8L323.21 141.26L328.98 141.24Z" fill="#ffc81e"/><path d="M325.48 185.94L323.97 163.27" fill="none" stroke="#ffc81e" stroke-width="2.9" stroke-linecap="round"/><path d="M323.82 161.05L319.95 168.73L324.21 166.96L328.67 168.15Z" fill="#ffc81e"/><path d="M320.19 195.01L323.97 181.41" fill="none" stroke="#ff8c19" stroke-width="2.9" stroke-linecap="round"/><path d="M324.56 179.26L318.37 185.23L322.98 184.98L326.79 187.57Z" fill="#ff8c19"/><path d="M248.38 226.76C247.37 223.73 244.35 214.92 242.34 208.62C240.32 202.32 237.3 192.24 236.29 188.96" fill="none" stroke="#ffc81e" stroke-width="4.64" stroke-linecap="round"/><path d="M235.44 186.2L232.84 197.08L237.71 193.57L243.7 193.74Z" fill="#ffc81e"/><path d="M245.23 208.62L235.59 202.94L237.52 208.62L235.59 214.3Z" fill="#ffc81e"/><path d="M299.02 225.25L305.83 206.35" fill="none" stroke="#ff4a16" stroke-width="2.9" stroke-linecap="round"/><path d="M306.58 204.26L299.96 209.75L304.57 209.84L308.18 212.71Z" fill="#ff4a16"/><path d="M305.83 239.61L317.92 228.27" fill="none" stroke="#ff1612" stroke-width="2.9" stroke-linecap="round"/><path d="M319.54 226.75L311.15 228.63L315.22 230.8L317.12 235Z" fill="#ff1612"/><path d="M189.43 247.92L175.82 249.43" fill="none" stroke="#ffc81e" stroke-width="2.9" stroke-linecap="round"/><path d="M173.61 249.68L181.46 253.2L179.5 249.02L180.49 244.52Z" fill="#ffc81e"/>
<path d="M329.65 201.06L328.14 186.7" fill="none" stroke="#ffc81e" stroke-width="2.9" stroke-linecap="round"/><path d="M327.91 184.49L324.34 192.31L328.53 190.38L333.03 191.4Z" fill="#ffc81e"/><path d="M322.85 234.32C325.24 230.54 332.93 219.95 337.21 211.64C341.49 203.33 346.66 188.96 348.55 184.43" fill="none" stroke="#ff1612" stroke-width="3.77" stroke-linecap="round"/><path d="M349.53 182.07L341.62 188L346.91 188.36L350.89 191.87Z" fill="#ff1612"/><path d="M334.27 216.28L325.47 220.79L330.62 222.04L333.95 226.17Z" fill="#ff1612"/><path d="M310 235.83L318.31 228.27" fill="none" stroke="#ff4a16" stroke-width="2.9" stroke-linecap="round"/><path d="M319.96 226.77L311.54 228.53L315.57 230.76L317.41 234.99Z" fill="#ff4a16"/><path d="M344.01 246.41L367.45 234.32" fill="none" stroke="#ff8c19" stroke-width="2.9" stroke-linecap="round"/><path d="M369.42 233.3L360.83 232.81L364.15 236.02L364.84 240.58Z" fill="#ff8c19"/>
<path d="M82.85 261.16L84.36 240" fill="none" stroke="#ff8c19" stroke-width="2.9" stroke-linecap="round"/><path d="M84.52 237.78L79.63 244.86L84.1 243.7L88.35 245.49Z" fill="#ff8c19"/><path d="M102.5 240L94.19 244.54" fill="none" stroke="#ffc81e" stroke-width="2.9" stroke-linecap="round"/><path d="M92.24 245.6L100.83 245.89L97.44 242.76L96.65 238.22Z" fill="#ffc81e"/><path d="M181.11 258.14C176.7 256.12 161.08 249.32 154.66 246.05C148.23 242.77 146.22 241.39 142.56 238.49C138.91 235.59 134.37 230.3 132.74 228.66" fill="none" stroke="#fff629" stroke-width="2.9" stroke-linecap="round"/><path d="M131.16 227.09L133.32 235.42L135.36 231.28L139.49 229.24Z" fill="#fff629"/><path d="M189.43 248.31L175.06 249.83" fill="none" stroke="#ffc81e" stroke-width="2.9" stroke-linecap="round"/><path d="M172.85 250.06L180.68 253.63L178.75 249.44L179.77 244.94Z" fill="#ffc81e"/><path d="M165.99 269.48C164.36 268.97 159.44 266.83 156.17 266.46C152.89 266.08 147.98 267.08 146.34 267.21" fill="none" stroke="#fff629" stroke-width="2.9" stroke-linecap="round"/><path d="M144.13 267.38L151.85 271.17L150.04 266.93L151.18 262.46Z" fill="#fff629"/><path d="M175.82 288.37L134.25 278.55" fill="none" stroke="#fff629" stroke-width="2.9" stroke-linecap="round"/><path d="M132.08 278.04L138.29 283.99L137.85 279.4L140.3 275.49Z" fill="#fff629"/><path d="M157.03 283.93L163.23 289.89L162.8 285.3L165.24 281.39Z" fill="#fff629"/><path d="M116.11 310.29C115.35 308.15 113.59 300.97 111.57 297.45C109.56 293.92 105.27 290.52 104.01 289.13" fill="none" stroke="#fff629" stroke-width="2.9" stroke-linecap="round"/><path d="M102.52 287.49L104.27 295.91L106.51 291.87L110.73 290.03Z" fill="#fff629"/><path d="M150.12 327.68C148.61 328.18 144.33 331.33 141.05 330.7C137.78 330.07 132.23 325.03 130.47 323.9" fill="none" stroke="#fff629" stroke-width="2.9" stroke-linecap="round"/><path d="M128.6 322.7L132.47 330.38L133.59 325.9L137.19 323.03Z" fill="#fff629"/><path d="M240.07 267.21C239.56 262.68 238.18 247.68 237.04 240C235.91 232.32 233.9 224.25 233.27 221.1" fill="none" stroke="#ffc81e" stroke-width="2.9" stroke-linecap="round"/><path d="M232.83 218.92L230 227.05L233.99 224.74L238.57 225.33Z" fill="#ffc81e"/><path d="M258.96 264.19C257.7 262.17 254.43 258.01 251.41 252.09C248.38 246.17 242.59 232.57 240.82 228.66" fill="none" stroke="#fff629" stroke-width="2.9" stroke-linecap="round"/><path d="M239.91 226.64L238.98 235.19L242.35 232.04L246.94 231.59Z" fill="#fff629"/><path d="M264.26 247.56L246.87 256.63" fill="none" stroke="#ff8c19" stroke-width="2.9" stroke-linecap="round"/><path d="M244.9 257.66L253.49 258.1L250.16 254.92L249.45 250.36Z" fill="#ff8c19"/><path d="M317.92 275.53L310.36 260.41" fill="none" stroke="#ffc81e" stroke-width="2.9" stroke-linecap="round"/><path d="M309.37 258.42L308.78 267L312.02 263.72L316.59 263.09Z" fill="#ffc81e"/><path d="M253.67 289.13C255.06 289.63 259.34 291.4 261.99 292.15C264.63 292.91 268.29 293.41 269.55 293.67" fill="none" stroke="#fff629" stroke-width="2.9" stroke-linecap="round"/><path d="M271.73 294.1L265.32 288.37L265.91 292.94L263.6 296.93Z" fill="#fff629"/><path d="M227.22 300.47L212.86 314.07" fill="none" stroke="#ff4a16" stroke-width="2.9" stroke-linecap="round"/><path d="M211.24 315.6L219.63 313.68L215.55 311.53L213.62 307.34Z" fill="#ff4a16"/><path d="M224.95 319.37L212.86 333.73" fill="none" stroke="#ff1612" stroke-width="2.9" stroke-linecap="round"/><path d="M211.43 335.43L219.54 332.57L215.24 330.89L212.86 326.95Z" fill="#ff1612"/><path d="M243.09 319.37L226.46 333.73" fill="none" stroke="#ff4a16" stroke-width="2.9" stroke-linecap="round"/><path d="M224.78 335.18L233.24 333.64L229.27 331.3L227.53 327.03Z" fill="#ff4a16"/><path d="M200.01 352.62C203.53 351.99 213.36 350.61 221.17 348.84C228.98 347.08 242.59 343.17 246.87 342.04" fill="none" stroke="#ffc81e" stroke-width="2.9" stroke-linecap="round"/><path d="M249.02 341.47L240.74 339.15L243.29 342.99L242.97 347.59Z" fill="#ffc81e"/><path d="M225.71 342.8C223.44 345.82 217.14 354.01 212.1 360.94C207.06 367.87 198.24 380.46 195.47 384.37" fill="none" stroke="#ff1612" stroke-width="3.62" stroke-linecap="round"/><path d="M194.03 386.41L202.86 382.45L197.88 380.97L194.84 376.77Z" fill="#ff1612"/><path d="M211.96 361.12L220.89 357.4L215.96 355.79L213.03 351.51Z" fill="#ff1612"/><path d="M186.4 370.76L170.53 373.79" fill="none" stroke="#ffc81e" stroke-width="2.9" stroke-linecap="round"/><path d="M168.35 374.2L176.44 377.11L174.17 373.09L174.81 368.53Z" fill="#ffc81e"/><path d="M285.42 332.21C284.16 332.97 280 334.23 277.86 336.75C275.72 339.27 273.45 345.57 272.57 347.33" fill="none" stroke="#ff1612" stroke-width="2.9" stroke-linecap="round"/><path d="M271.58 349.32L278.8 344.65L274.23 344.02L270.98 340.74Z" fill="#ff1612"/><path d="M289.2 329.95C289.7 336.12 290.21 358.29 292.22 366.98C294.24 375.68 300.03 377.19 301.29 382.1C302.55 387.01 300.03 394.07 299.78 396.46" fill="none" stroke="#ffc81e" stroke-width="2.9" stroke-linecap="round"/><path d="M299.55 398.67L304.67 391.76L300.17 392.78L295.98 390.85Z" fill="#ffc81e"/><path d="M294.09 370.1L294.02 361.5L291.04 365.02L286.53 365.99Z" fill="#ffc81e"/><path d="M277.86 370.01L286.93 388.9" fill="none" stroke="#fff629" stroke-width="2.9" stroke-linecap="round"/><path d="M287.89 390.91L288.62 382.34L285.33 385.56L280.75 386.12Z" fill="#fff629"/><path d="M325.48 373.79C319.18 376.68 298.65 387.01 287.69 391.17C276.73 395.33 264.38 397.47 259.72 398.73" fill="none" stroke="#ff8c19" stroke-width="2.9" stroke-linecap="round"/><path d="M257.57 399.31L265.87 401.59L263.3 397.76L263.59 393.16Z" fill="#ff8c19"/><path d="M274.35 394.78L282.65 397.06L280.08 393.23L280.37 388.62Z" fill="#ff8c19"/><path d="M304.32 325.41L324.72 342.8" fill="none" stroke="#fff629" stroke-width="2.9" stroke-linecap="round"/><path d="M326.42 344.24L323.61 336.11L321.9 340.39L317.94 342.76Z" fill="#fff629"/><path d="M196.98 391.17L175.82 416.87" fill="none" stroke="#ff1612" stroke-width="2.9" stroke-linecap="round"/><path d="M174.41 418.59L182.49 415.64L178.18 414.01L175.75 410.09Z" fill="#ff1612"/><path d="M195.47 392.68L187.16 425.94" fill="none" stroke="#ff8c19" stroke-width="2.9" stroke-linecap="round"/><path d="M186.62 428.1L192.65 421.97L188.06 422.35L184.18 419.85Z" fill="#ff8c19"/><path d="M238.56 389.66L236.29 404.78" fill="none" stroke="#ff8c19" stroke-width="2.9" stroke-linecap="round"/><path d="M235.96 406.98L241.38 400.3L236.84 401.11L232.74 399Z" fill="#ff8c19"/><path d="M234.02 398.73L200.01 444.08" fill="none" stroke="#ff1612" stroke-width="4.64" stroke-linecap="round"/><path d="M198.27 446.39L208.6 442.09L202.9 440.23L199.51 435.28Z" fill="#ff1612"/><path d="M216.98 421.45L227.3 417.15L221.6 415.29L218.22 410.34Z" fill="#ff1612"/><path d="M234.02 428.21L215.88 447.11" fill="none" stroke="#ff4a16" stroke-width="2.9" stroke-linecap="round"/><path d="M214.34 448.71L222.62 446.39L218.45 444.43L216.32 440.34Z" fill="#ff4a16"/><path d="M223.41 439.26L231.69 436.94L227.52 434.98L225.39 430.89Z" fill="#ff4a16"/><path d="M283.91 402.51L265.77 420.65" fill="none" stroke="#ff4a16" stroke-width="2.9" stroke-linecap="round"/><path d="M264.2 422.22L272.52 420.07L268.39 418.03L266.35 413.89Z" fill="#ff4a16"/><path d="M168.26 423.67L163.73 438.03" fill="none" stroke="#ff8c19" stroke-width="2.9" stroke-linecap="round"/><path d="M163.06 440.15L169.45 434.4L164.84 434.5L161.12 431.77Z" fill="#ff8c19"/><path d="M171.28 439.55L165.99 453.91" fill="none" stroke="#ff4a16" stroke-width="2.9" stroke-linecap="round"/><path d="M165.23 455.99L171.89 450.55L167.27 450.43L163.69 447.53Z" fill="#ff4a16"/><path d="M190.18 441.06L185.65 465.25" fill="none" stroke="#ff8c19" stroke-width="2.9" stroke-linecap="round"/><path d="M185.24 467.43L190.9 460.95L186.33 461.6L182.31 459.34Z" fill="#ff8c19"/><path d="M185.65 462.98L169.02 466.76" fill="none" stroke="#ffc81e" stroke-width="2.9" stroke-linecap="round"/><path d="M166.85 467.25L175.04 469.87L172.63 465.94L173.11 461.35Z" fill="#ffc81e"/>
<path d="M409.77 263.43C407.76 260.53 401.21 252.07 397.68 246.05C394.15 240.03 390.12 230.43 388.61 227.3" fill="none" stroke="#fff629" stroke-width="2.9" stroke-linecap="round"/><path d="M387.64 225.3L386.94 233.87L390.22 230.64L394.8 230.07Z" fill="#fff629"/><path d="M380.29 281.57C382.44 280.82 388.23 276.66 393.14 277.04C398.06 277.41 404.36 281.7 409.77 283.84C415.19 285.98 423 288.88 425.65 289.89" fill="none" stroke="#fff629" stroke-width="2.9" stroke-linecap="round"/><path d="M427.72 290.68L422.35 283.96L422.18 288.57L419.24 292.12Z" fill="#fff629"/><path d="M415.82 286.14L410.45 279.42L410.28 284.03L407.34 287.59Z" fill="#fff629"/><path d="M324.36 292.91L347.04 301.98" fill="none" stroke="#fff629" stroke-width="2.9" stroke-linecap="round"/><path d="M349.1 302.81L343.84 296L343.6 300.6L340.6 304.11Z" fill="#fff629"/><path d="M342.3 300.08L337.04 293.28L336.79 297.88L333.8 301.39Z" fill="#fff629"/><path d="M319.83 310.29C321.97 310.04 328.27 308.03 332.68 308.78C337.08 309.54 344.01 313.82 346.28 314.83" fill="none" stroke="#ffc81e" stroke-width="2.9" stroke-linecap="round"/><path d="M348.31 315.73L343.32 308.73L342.9 313.33L339.77 316.71Z" fill="#ffc81e"/><path d="M387.85 302.74L421.87 305.76" fill="none" stroke="#ffc81e" stroke-width="2.9" stroke-linecap="round"/><path d="M424.08 305.96L417.09 300.95L418.18 305.43L416.31 309.65Z" fill="#ffc81e"/><path d="M368.2 302.74C372.61 304.12 386.22 308.41 394.66 311.05C403.1 313.7 413.55 315.21 418.84 318.61C424.13 322.01 425.14 329.32 426.4 331.46" fill="none" stroke="#fff629" stroke-width="2.9" stroke-linecap="round"/><path d="M427.53 333.37L427.54 324.77L424.52 328.27L420.01 329.2Z" fill="#fff629"/><path d="M422.99 325.67L423 317.06L419.99 320.56L415.47 321.49Z" fill="#fff629"/><path d="M319.07 323.14C320.33 324.4 322.85 327.93 326.63 330.7C330.41 333.47 339.23 338.26 341.75 339.77" fill="none" stroke="#fff629" stroke-width="2.9" stroke-linecap="round"/><path d="M343.65 340.92L339.55 333.36L338.57 337.87L335.05 340.85Z" fill="#fff629"/><path d="M352.33 325.41C354.6 325.54 360.77 323.9 365.93 326.17C371.1 328.44 380.42 336.88 383.32 339.02" fill="none" stroke="#fff629" stroke-width="2.9" stroke-linecap="round"/><path d="M385.11 340.34L381.74 332.42L380.34 336.82L376.55 339.45Z" fill="#fff629"/><path d="M310 329.19L325.12 342.04" fill="none" stroke="#fff629" stroke-width="2.9" stroke-linecap="round"/><path d="M326.81 343.48L323.99 335.35L322.29 339.64L318.34 342.01Z" fill="#fff629"/><path d="M344.77 330.7C345.27 332.72 345.27 338.77 347.79 342.8C350.31 346.83 357.87 352.87 359.89 354.89" fill="none" stroke="#fff629" stroke-width="2.9" stroke-linecap="round"/><path d="M361.46 356.46L359.31 348.13L357.27 352.27L353.13 354.31Z" fill="#fff629"/><path d="M321.34 345.82L332.68 356.4" fill="none" stroke="#fff629" stroke-width="2.9" stroke-linecap="round"/><path d="M334.3 357.92L331.86 349.67L329.97 353.87L325.9 356.06Z" fill="#fff629"/><path d="M380.29 346.58C384.45 346.2 399.07 343.68 405.24 344.31C411.41 344.94 415.32 349.35 417.33 350.36" fill="none" stroke="#ffc81e" stroke-width="2.9" stroke-linecap="round"/><path d="M419.32 351.35L414.65 344.13L414.02 348.7L410.74 351.94Z" fill="#ffc81e"/><path d="M420.36 344.31L434.72 339.02" fill="none" stroke="#ff8c19" stroke-width="2.9" stroke-linecap="round"/><path d="M436.8 338.25L428.34 336.71L431.24 340.3L431.36 344.91Z" fill="#ff8c19"/><path d="M386.34 344.31L384.83 362.45" fill="none" stroke="#ff8c19" stroke-width="2.9" stroke-linecap="round"/><path d="M384.65 364.66L389.61 357.64L385.14 358.76L380.91 356.92Z" fill="#ff8c19"/><path d="M373.49 358.67L391.63 352.62" fill="none" stroke="#ff8c19" stroke-width="2.9" stroke-linecap="round"/><path d="M393.74 351.92L385.33 350.12L388.12 353.79L388.09 358.41Z" fill="#ff8c19"/><path d="M334.19 370.01L365.18 359.43" fill="none" stroke="#ffc81e" stroke-width="2.9" stroke-linecap="round"/><path d="M367.28 358.71L358.86 356.97L361.67 360.62L361.68 365.24Z" fill="#ffc81e"/><path d="M336.91 369.08L328.49 367.34L331.3 370.99L331.31 375.61Z" fill="#ffc81e"/>
<rect x="477.5" y="427.3" width="59.7" height="5.1" fill="#fff"/>
<text x="534.5" y="45.4" font-size="29" text-anchor="end" fill="#ff6a50">In vitro</text>
<text x="532.6" y="75.8" font-size="29" text-anchor="end" fill="#ff6a50">2D polystyrene</text>
</g>
<g clip-path="url(#ci2)">
<g filter="url(#grain)">
<rect x="577.2" y="5.4" width="475.3" height="475.8" fill="#060606"/>
<clipPath id="co2"><path d="M798.26 12.85C801.03 12.35 804.56 12.72 807.33 13.61C810.1 14.49 812.62 15.87 814.89 18.14C817.16 20.41 819.43 24.19 820.94 27.21C822.45 30.23 822.7 33.51 823.96 36.28C825.22 39.05 826.98 41.32 828.5 43.84C830.01 46.36 832.02 48.12 833.03 51.4C834.04 54.67 834.16 59.46 834.54 63.49C834.92 67.52 835.17 71.55 835.3 75.59C835.42 79.62 835.3 83.65 835.3 87.68C835.3 91.71 835.17 95.74 835.3 99.77C835.42 103.8 835.68 107.84 836.05 111.87C836.43 115.9 837.06 119.93 837.57 123.96C838.07 127.99 838.57 132.02 839.08 136.05C839.58 140.09 840.21 144.37 840.59 148.15C840.97 151.93 840.84 155.45 841.35 158.73C841.85 162.01 842.48 164.53 843.61 167.8C844.75 171.08 846.64 175.36 848.15 178.38C849.66 181.41 850.67 183.17 852.68 185.94C854.7 188.71 857.72 191.99 860.24 195.01C862.76 198.03 865.28 201.06 867.8 204.08C870.32 207.11 873.09 210.13 875.36 213.15C877.63 216.18 879.39 219.45 881.41 222.22C883.42 224.99 885.44 227.01 887.45 229.78C889.47 232.55 891.74 236.14 893.5 238.85C895.26 241.56 896.52 243.59 898.03 246.05C899.55 248.51 900.81 251.09 902.57 253.61C904.33 256.12 906.35 258.64 908.62 261.16C910.88 263.68 913.4 266.2 916.18 268.72C918.95 271.24 922.22 274.01 925.25 276.28C928.27 278.55 931.54 280.31 934.32 282.33C937.09 284.34 939.86 285.86 941.87 288.37C943.89 290.89 945.53 294.67 946.41 297.45C947.29 300.22 947.42 302.23 947.17 305C946.91 307.78 946.03 311.05 944.9 314.07C943.76 317.1 942.38 320.12 940.36 323.14C938.35 326.17 935.58 329.19 932.8 332.21C930.03 335.24 926.76 338.26 923.73 341.28C920.71 344.31 917.69 347.33 914.66 350.36C911.64 353.38 908.62 356.4 905.59 359.43C902.57 362.45 899.29 365.72 896.52 368.5C893.75 371.27 891.11 373.53 888.96 376.05C886.82 378.57 884.68 380.84 883.67 383.61C882.67 386.38 882.67 389.66 882.92 392.68C883.17 395.71 884.18 398.73 885.19 401.75C886.19 404.78 887.33 408.05 888.96 410.82C890.6 413.6 893 415.61 895.01 418.38C897.03 421.15 899.29 424.43 901.06 427.45C902.82 430.48 904.46 433.5 905.59 436.52C906.73 439.55 907.61 442.57 907.86 445.59C908.11 448.62 907.73 451.64 907.11 454.66C906.48 457.69 905.59 461.21 904.08 463.73C902.57 466.25 900.55 468.02 898.03 469.78C895.52 471.54 892.24 473.31 888.96 474.32C885.69 475.32 881.91 475.58 878.38 475.83C874.86 476.08 871.08 476.33 867.8 475.83C864.53 475.32 861.75 474.06 858.73 472.8C855.71 471.54 852.68 469.78 849.66 468.27C846.64 466.76 843.61 464.24 840.59 463.73C837.57 463.23 834.79 464.87 831.52 465.25C828.24 465.62 824.21 466 820.94 466C817.66 466 814.64 465.12 811.87 465.25C809.1 465.37 806.32 465.5 804.31 466.76C802.29 468.02 801.03 470.79 799.77 472.8C798.51 474.82 798.26 477.84 796.75 478.85C795.24 479.86 792.47 479.36 790.7 478.85C788.94 478.35 787.18 477.59 786.17 475.83C785.16 474.06 785.29 471.04 784.66 468.27C784.03 465.5 783.4 462.22 782.39 459.2C781.38 456.18 779.99 453.15 778.61 450.13C777.22 447.11 775.84 444.08 774.07 441.06C772.31 438.03 770.04 435.01 768.03 431.99C766.01 428.96 764 425.94 761.98 422.92C759.96 419.89 757.57 416.87 755.93 413.85C754.3 410.82 753.16 407.55 752.15 404.78C751.15 402.01 750.77 400.24 749.89 397.22C749 394.2 747.75 390.16 746.86 386.64C745.98 383.11 744.97 379.83 744.6 376.05C744.22 372.28 744.47 368.5 744.6 363.96C744.72 359.43 745.1 353.88 745.35 348.84C745.6 343.8 745.86 338.77 746.11 333.73C746.36 328.69 746.61 323.65 746.86 318.61C747.12 313.57 747.37 308.53 747.62 303.49C747.87 298.45 748.12 292.91 748.37 288.37C748.63 283.84 749.13 280.31 749.13 276.28C749.13 272.25 748.37 268.22 748.37 264.19C748.37 260.16 748.37 256.32 749.13 252.09C749.89 247.87 751.78 242.57 752.91 238.85C754.04 235.13 754.67 233.06 755.93 229.78C757.19 226.51 758.7 222.73 760.47 219.2C762.23 215.67 764.5 212.14 766.52 208.62C768.53 205.09 770.55 201.81 772.56 198.03C774.58 194.26 776.72 189.97 778.61 185.94C780.5 181.91 782.39 177.63 783.9 173.85C785.41 170.07 786.67 166.54 787.68 163.27C788.69 159.99 789.7 156.97 789.95 154.2C790.2 151.42 789.44 149.66 789.19 146.64C788.94 143.61 788.56 139.83 788.44 136.05C788.31 132.28 788.31 127.99 788.44 123.96C788.56 119.93 788.81 115.9 789.19 111.87C789.57 107.84 790.45 103.8 790.7 99.77C790.95 95.74 790.83 91.71 790.7 87.68C790.58 83.65 789.95 79.62 789.95 75.59C789.95 71.55 790.83 67.78 790.7 63.49C790.58 59.21 789.82 54.17 789.19 49.89C788.56 45.6 787.3 41.82 786.92 37.79C786.55 33.76 786.29 29.23 786.92 25.7C787.55 22.17 788.81 18.77 790.7 16.63C792.59 14.49 795.49 13.35 798.26 12.85Z"/></clipPath>
<ellipse cx="938" cy="272" rx="20" ry="12" fill="#454545" filter="url(#b6)" transform="rotate(25 938 272)"/>
<ellipse cx="814" cy="26" rx="10" ry="24" fill="#333333" filter="url(#b6)"/>
<path d="M798.26 12.85C801.03 12.35 804.56 12.72 807.33 13.61C810.1 14.49 812.62 15.87 814.89 18.14C817.16 20.41 819.43 24.19 820.94 27.21C822.45 30.23 822.7 33.51 823.96 36.28C825.22 39.05 826.98 41.32 828.5 43.84C830.01 46.36 832.02 48.12 833.03 51.4C834.04 54.67 834.16 59.46 834.54 63.49C834.92 67.52 835.17 71.55 835.3 75.59C835.42 79.62 835.3 83.65 835.3 87.68C835.3 91.71 835.17 95.74 835.3 99.77C835.42 103.8 835.68 107.84 836.05 111.87C836.43 115.9 837.06 119.93 837.57 123.96C838.07 127.99 838.57 132.02 839.08 136.05C839.58 140.09 840.21 144.37 840.59 148.15C840.97 151.93 840.84 155.45 841.35 158.73C841.85 162.01 842.48 164.53 843.61 167.8C844.75 171.08 846.64 175.36 848.15 178.38C849.66 181.41 850.67 183.17 852.68 185.94C854.7 188.71 857.72 191.99 860.24 195.01C862.76 198.03 865.28 201.06 867.8 204.08C870.32 207.11 873.09 210.13 875.36 213.15C877.63 216.18 879.39 219.45 881.41 222.22C883.42 224.99 885.44 227.01 887.45 229.78C889.47 232.55 891.74 236.14 893.5 238.85C895.26 241.56 896.52 243.59 898.03 246.05C899.55 248.51 900.81 251.09 902.57 253.61C904.33 256.12 906.35 258.64 908.62 261.16C910.88 263.68 913.4 266.2 916.18 268.72C918.95 271.24 922.22 274.01 925.25 276.28C928.27 278.55 931.54 280.31 934.32 282.33C937.09 284.34 939.86 285.86 941.87 288.37C943.89 290.89 945.53 294.67 946.41 297.45C947.29 300.22 947.42 302.23 947.17 305C946.91 307.78 946.03 311.05 944.9 314.07C943.76 317.1 942.38 320.12 940.36 323.14C938.35 326.17 935.58 329.19 932.8 332.21C930.03 335.24 926.76 338.26 923.73 341.28C920.71 344.31 917.69 347.33 914.66 350.36C911.64 353.38 908.62 356.4 905.59 359.43C902.57 362.45 899.29 365.72 896.52 368.5C893.75 371.27 891.11 373.53 888.96 376.05C886.82 378.57 884.68 380.84 883.67 383.61C882.67 386.38 882.67 389.66 882.92 392.68C883.17 395.71 884.18 398.73 885.19 401.75C886.19 404.78 887.33 408.05 888.96 410.82C890.6 413.6 893 415.61 895.01 418.38C897.03 421.15 899.29 424.43 901.06 427.45C902.82 430.48 904.46 433.5 905.59 436.52C906.73 439.55 907.61 442.57 907.86 445.59C908.11 448.62 907.73 451.64 907.11 454.66C906.48 457.69 905.59 461.21 904.08 463.73C902.57 466.25 900.55 468.02 898.03 469.78C895.52 471.54 892.24 473.31 888.96 474.32C885.69 475.32 881.91 475.58 878.38 475.83C874.86 476.08 871.08 476.33 867.8 475.83C864.53 475.32 861.75 474.06 858.73 472.8C855.71 471.54 852.68 469.78 849.66 468.27C846.64 466.76 843.61 464.24 840.59 463.73C837.57 463.23 834.79 464.87 831.52 465.25C828.24 465.62 824.21 466 820.94 466C817.66 466 814.64 465.12 811.87 465.25C809.1 465.37 806.32 465.5 804.31 466.76C802.29 468.02 801.03 470.79 799.77 472.8C798.51 474.82 798.26 477.84 796.75 478.85C795.24 479.86 792.47 479.36 790.7 478.85C788.94 478.35 787.18 477.59 786.17 475.83C785.16 474.06 785.29 471.04 784.66 468.27C784.03 465.5 783.4 462.22 782.39 459.2C781.38 456.18 779.99 453.15 778.61 450.13C777.22 447.11 775.84 444.08 774.07 441.06C772.31 438.03 770.04 435.01 768.03 431.99C766.01 428.96 764 425.94 761.98 422.92C759.96 419.89 757.57 416.87 755.93 413.85C754.3 410.82 753.16 407.55 752.15 404.78C751.15 402.01 750.77 400.24 749.89 397.22C749 394.2 747.75 390.16 746.86 386.64C745.98 383.11 744.97 379.83 744.6 376.05C744.22 372.28 744.47 368.5 744.6 363.96C744.72 359.43 745.1 353.88 745.35 348.84C745.6 343.8 745.86 338.77 746.11 333.73C746.36 328.69 746.61 323.65 746.86 318.61C747.12 313.57 747.37 308.53 747.62 303.49C747.87 298.45 748.12 292.91 748.37 288.37C748.63 283.84 749.13 280.31 749.13 276.28C749.13 272.25 748.37 268.22 748.37 264.19C748.37 260.16 748.37 256.32 749.13 252.09C749.89 247.87 751.78 242.57 752.91 238.85C754.04 235.13 754.67 233.06 755.93 229.78C757.19 226.51 758.7 222.73 760.47 219.2C762.23 215.67 764.5 212.14 766.52 208.62C768.53 205.09 770.55 201.81 772.56 198.03C774.58 194.26 776.72 189.97 778.61 185.94C780.5 181.91 782.39 177.63 783.9 173.85C785.41 170.07 786.67 166.54 787.68 163.27C788.69 159.99 789.7 156.97 789.95 154.2C790.2 151.42 789.44 149.66 789.19 146.64C788.94 143.61 788.56 139.83 788.44 136.05C788.31 132.28 788.31 127.99 788.44 123.96C788.56 119.93 788.81 115.9 789.19 111.87C789.57 107.84 790.45 103.8 790.7 99.77C790.95 95.74 790.83 91.71 790.7 87.68C790.58 83.65 789.95 79.62 789.95 75.59C789.95 71.55 790.83 67.78 790.7 63.49C790.58 59.21 789.82 54.17 789.19 49.89C788.56 45.6 787.3 41.82 786.92 37.79C786.55 33.76 786.29 29.23 786.92 25.7C787.55 22.17 788.81 18.77 790.7 16.63C792.59 14.49 795.49 13.35 798.26 12.85Z" fill="#5a5a5a" filter="url(#b3)"/>
<g clip-path="url(#co2)">
<ellipse cx="784.7" cy="300.5" rx="19" ry="12" fill="#1c1c1c" filter="url(#b5)"/>
<ellipse cx="790.7" cy="339" rx="19" ry="15" fill="#202020" filter="url(#b5)"/>
<ellipse cx="874" cy="324.7" rx="23" ry="13" fill="#1c1c1c" filter="url(#b5)"/>
<ellipse cx="877" cy="359" rx="23" ry="18" fill="#1c1c1c" filter="url(#b5)"/>
<ellipse cx="833" cy="312" rx="16" ry="36" fill="#909090" filter="url(#b9)"/>
<ellipse cx="834" cy="308" rx="5" ry="10" fill="#ffffff" filter="url(#b3)"/>
<ellipse cx="803" cy="60" rx="9" ry="26" fill="#8c8c8c" filter="url(#b6)"/>
<ellipse cx="800" cy="150" rx="10" ry="50" fill="#707070" filter="url(#b7)"/>
<ellipse cx="770" cy="400" rx="25" ry="35" fill="#6c6c6c" filter="url(#b10)"/>
<ellipse cx="930" cy="285" rx="16" ry="14" fill="#707070" filter="url(#b8)"/>
<ellipse cx="850" cy="420" rx="40" ry="30" fill="#626262" filter="url(#b10)"/>
<path d="M798.26 12.85C801.03 12.35 804.56 12.72 807.33 13.61C810.1 14.49 812.62 15.87 814.89 18.14C817.16 20.41 819.43 24.19 820.94 27.21C822.45 30.23 822.7 33.51 823.96 36.28C825.22 39.05 826.98 41.32 828.5 43.84C830.01 46.36 832.02 48.12 833.03 51.4C834.04 54.67 834.16 59.46 834.54 63.49C834.92 67.52 835.17 71.55 835.3 75.59C835.42 79.62 835.3 83.65 835.3 87.68C835.3 91.71 835.17 95.74 835.3 99.77C835.42 103.8 835.68 107.84 836.05 111.87C836.43 115.9 837.06 119.93 837.57 123.96C838.07 127.99 838.57 132.02 839.08 136.05C839.58 140.09 840.21 144.37 840.59 148.15C840.97 151.93 840.84 155.45 841.35 158.73C841.85 162.01 842.48 164.53 843.61 167.8C844.75 171.08 846.64 175.36 848.15 178.38C849.66 181.41 850.67 183.17 852.68 185.94C854.7 188.71 857.72 191.99 860.24 195.01C862.76 198.03 865.28 201.06 867.8 204.08C870.32 207.11 873.09 210.13 875.36 213.15C877.63 216.18 879.39 219.45 881.41 222.22C883.42 224.99 885.44 227.01 887.45 229.78C889.47 232.55 891.74 236.14 893.5 238.85C895.26 241.56 896.52 243.59 898.03 246.05C899.55 248.51 900.81 251.09 902.57 253.61C904.33 256.12 906.35 258.64 908.62 261.16C910.88 263.68 913.4 266.2 916.18 268.72C918.95 271.24 922.22 274.01 925.25 276.28C928.27 278.55 931.54 280.31 934.32 282.33C937.09 284.34 939.86 285.86 941.87 288.37C943.89 290.89 945.53 294.67 946.41 297.45C947.29 300.22 947.42 302.23 947.17 305C946.91 307.78 946.03 311.05 944.9 314.07C943.76 317.1 942.38 320.12 940.36 323.14C938.35 326.17 935.58 329.19 932.8 332.21C930.03 335.24 926.76 338.26 923.73 341.28C920.71 344.31 917.69 347.33 914.66 350.36C911.64 353.38 908.62 356.4 905.59 359.43C902.57 362.45 899.29 365.72 896.52 368.5C893.75 371.27 891.11 373.53 888.96 376.05C886.82 378.57 884.68 380.84 883.67 383.61C882.67 386.38 882.67 389.66 882.92 392.68C883.17 395.71 884.18 398.73 885.19 401.75C886.19 404.78 887.33 408.05 888.96 410.82C890.6 413.6 893 415.61 895.01 418.38C897.03 421.15 899.29 424.43 901.06 427.45C902.82 430.48 904.46 433.5 905.59 436.52C906.73 439.55 907.61 442.57 907.86 445.59C908.11 448.62 907.73 451.64 907.11 454.66C906.48 457.69 905.59 461.21 904.08 463.73C902.57 466.25 900.55 468.02 898.03 469.78C895.52 471.54 892.24 473.31 888.96 474.32C885.69 475.32 881.91 475.58 878.38 475.83C874.86 476.08 871.08 476.33 867.8 475.83C864.53 475.32 861.75 474.06 858.73 472.8C855.71 471.54 852.68 469.78 849.66 468.27C846.64 466.76 843.61 464.24 840.59 463.73C837.57 463.23 834.79 464.87 831.52 465.25C828.24 465.62 824.21 466 820.94 466C817.66 466 814.64 465.12 811.87 465.25C809.1 465.37 806.32 465.5 804.31 466.76C802.29 468.02 801.03 470.79 799.77 472.8C798.51 474.82 798.26 477.84 796.75 478.85C795.24 479.86 792.47 479.36 790.7 478.85C788.94 478.35 787.18 477.59 786.17 475.83C785.16 474.06 785.29 471.04 784.66 468.27C784.03 465.5 783.4 462.22 782.39 459.2C781.38 456.18 779.99 453.15 778.61 450.13C777.22 447.11 775.84 444.08 774.07 441.06C772.31 438.03 770.04 435.01 768.03 431.99C766.01 428.96 764 425.94 761.98 422.92C759.96 419.89 757.57 416.87 755.93 413.85C754.3 410.82 753.16 407.55 752.15 404.78C751.15 402.01 750.77 400.24 749.89 397.22C749 394.2 747.75 390.16 746.86 386.64C745.98 383.11 744.97 379.83 744.6 376.05C744.22 372.28 744.47 368.5 744.6 363.96C744.72 359.43 745.1 353.88 745.35 348.84C745.6 343.8 745.86 338.77 746.11 333.73C746.36 328.69 746.61 323.65 746.86 318.61C747.12 313.57 747.37 308.53 747.62 303.49C747.87 298.45 748.12 292.91 748.37 288.37C748.63 283.84 749.13 280.31 749.13 276.28C749.13 272.25 748.37 268.22 748.37 264.19C748.37 260.16 748.37 256.32 749.13 252.09C749.89 247.87 751.78 242.57 752.91 238.85C754.04 235.13 754.67 233.06 755.93 229.78C757.19 226.51 758.7 222.73 760.47 219.2C762.23 215.67 764.5 212.14 766.52 208.62C768.53 205.09 770.55 201.81 772.56 198.03C774.58 194.26 776.72 189.97 778.61 185.94C780.5 181.91 782.39 177.63 783.9 173.85C785.41 170.07 786.67 166.54 787.68 163.27C788.69 159.99 789.7 156.97 789.95 154.2C790.2 151.42 789.44 149.66 789.19 146.64C788.94 143.61 788.56 139.83 788.44 136.05C788.31 132.28 788.31 127.99 788.44 123.96C788.56 119.93 788.81 115.9 789.19 111.87C789.57 107.84 790.45 103.8 790.7 99.77C790.95 95.74 790.83 91.71 790.7 87.68C790.58 83.65 789.95 79.62 789.95 75.59C789.95 71.55 790.83 67.78 790.7 63.49C790.58 59.21 789.82 54.17 789.19 49.89C788.56 45.6 787.3 41.82 786.92 37.79C786.55 33.76 786.29 29.23 786.92 25.7C787.55 22.17 788.81 18.77 790.7 16.63C792.59 14.49 795.49 13.35 798.26 12.85Z" fill="none" stroke="#040404" stroke-width="15" filter="url(#b2)"/>
</g>
</g>
<path d="M798.26 12.85C801.03 12.35 804.56 12.72 807.33 13.61C810.1 14.49 812.62 15.87 814.89 18.14C817.16 20.41 819.43 24.19 820.94 27.21C822.45 30.23 822.7 33.51 823.96 36.28C825.22 39.05 826.98 41.32 828.5 43.84C830.01 46.36 832.02 48.12 833.03 51.4C834.04 54.67 834.16 59.46 834.54 63.49C834.92 67.52 835.17 71.55 835.3 75.59C835.42 79.62 835.3 83.65 835.3 87.68C835.3 91.71 835.17 95.74 835.3 99.77C835.42 103.8 835.68 107.84 836.05 111.87C836.43 115.9 837.06 119.93 837.57 123.96C838.07 127.99 838.57 132.02 839.08 136.05C839.58 140.09 840.21 144.37 840.59 148.15C840.97 151.93 840.84 155.45 841.35 158.73C841.85 162.01 842.48 164.53 843.61 167.8C844.75 171.08 846.64 175.36 848.15 178.38C849.66 181.41 850.67 183.17 852.68 185.94C854.7 188.71 857.72 191.99 860.24 195.01C862.76 198.03 865.28 201.06 867.8 204.08C870.32 207.11 873.09 210.13 875.36 213.15C877.63 216.18 879.39 219.45 881.41 222.22C883.42 224.99 885.44 227.01 887.45 229.78C889.47 232.55 891.74 236.14 893.5 238.85C895.26 241.56 896.52 243.59 898.03 246.05C899.55 248.51 900.81 251.09 902.57 253.61C904.33 256.12 906.35 258.64 908.62 261.16C910.88 263.68 913.4 266.2 916.18 268.72C918.95 271.24 922.22 274.01 925.25 276.28C928.27 278.55 931.54 280.31 934.32 282.33C937.09 284.34 939.86 285.86 941.87 288.37C943.89 290.89 945.53 294.67 946.41 297.45C947.29 300.22 947.42 302.23 947.17 305C946.91 307.78 946.03 311.05 944.9 314.07C943.76 317.1 942.38 320.12 940.36 323.14C938.35 326.17 935.58 329.19 932.8 332.21C930.03 335.24 926.76 338.26 923.73 341.28C920.71 344.31 917.69 347.33 914.66 350.36C911.64 353.38 908.62 356.4 905.59 359.43C902.57 362.45 899.29 365.72 896.52 368.5C893.75 371.27 891.11 373.53 888.96 376.05C886.82 378.57 884.68 380.84 883.67 383.61C882.67 386.38 882.67 389.66 882.92 392.68C883.17 395.71 884.18 398.73 885.19 401.75C886.19 404.78 887.33 408.05 888.96 410.82C890.6 413.6 893 415.61 895.01 418.38C897.03 421.15 899.29 424.43 901.06 427.45C902.82 430.48 904.46 433.5 905.59 436.52C906.73 439.55 907.61 442.57 907.86 445.59C908.11 448.62 907.73 451.64 907.11 454.66C906.48 457.69 905.59 461.21 904.08 463.73C902.57 466.25 900.55 468.02 898.03 469.78C895.52 471.54 892.24 473.31 888.96 474.32C885.69 475.32 881.91 475.58 878.38 475.83C874.86 476.08 871.08 476.33 867.8 475.83C864.53 475.32 861.75 474.06 858.73 472.8C855.71 471.54 852.68 469.78 849.66 468.27C846.64 466.76 843.61 464.24 840.59 463.73C837.57 463.23 834.79 464.87 831.52 465.25C828.24 465.62 824.21 466 820.94 466C817.66 466 814.64 465.12 811.87 465.25C809.1 465.37 806.32 465.5 804.31 466.76C802.29 468.02 801.03 470.79 799.77 472.8C798.51 474.82 798.26 477.84 796.75 478.85C795.24 479.86 792.47 479.36 790.7 478.85C788.94 478.35 787.18 477.59 786.17 475.83C785.16 474.06 785.29 471.04 784.66 468.27C784.03 465.5 783.4 462.22 782.39 459.2C781.38 456.18 779.99 453.15 778.61 450.13C777.22 447.11 775.84 444.08 774.07 441.06C772.31 438.03 770.04 435.01 768.03 431.99C766.01 428.96 764 425.94 761.98 422.92C759.96 419.89 757.57 416.87 755.93 413.85C754.3 410.82 753.16 407.55 752.15 404.78C751.15 402.01 750.77 400.24 749.89 397.22C749 394.2 747.75 390.16 746.86 386.64C745.98 383.11 744.97 379.83 744.6 376.05C744.22 372.28 744.47 368.5 744.6 363.96C744.72 359.43 745.1 353.88 745.35 348.84C745.6 343.8 745.86 338.77 746.11 333.73C746.36 328.69 746.61 323.65 746.86 318.61C747.12 313.57 747.37 308.53 747.62 303.49C747.87 298.45 748.12 292.91 748.37 288.37C748.63 283.84 749.13 280.31 749.13 276.28C749.13 272.25 748.37 268.22 748.37 264.19C748.37 260.16 748.37 256.32 749.13 252.09C749.89 247.87 751.78 242.57 752.91 238.85C754.04 235.13 754.67 233.06 755.93 229.78C757.19 226.51 758.7 222.73 760.47 219.2C762.23 215.67 764.5 212.14 766.52 208.62C768.53 205.09 770.55 201.81 772.56 198.03C774.58 194.26 776.72 189.97 778.61 185.94C780.5 181.91 782.39 177.63 783.9 173.85C785.41 170.07 786.67 166.54 787.68 163.27C788.69 159.99 789.7 156.97 789.95 154.2C790.2 151.42 789.44 149.66 789.19 146.64C788.94 143.61 788.56 139.83 788.44 136.05C788.31 132.28 788.31 127.99 788.44 123.96C788.56 119.93 788.81 115.9 789.19 111.87C789.57 107.84 790.45 103.8 790.7 99.77C790.95 95.74 790.83 91.71 790.7 87.68C790.58 83.65 789.95 79.62 789.95 75.59C789.95 71.55 790.83 67.78 790.7 63.49C790.58 59.21 789.82 54.17 789.19 49.89C788.56 45.6 787.3 41.82 786.92 37.79C786.55 33.76 786.29 29.23 786.92 25.7C787.55 22.17 788.81 18.77 790.7 16.63C792.59 14.49 795.49 13.35 798.26 12.85Z" fill="none" stroke="#cf1fd6" stroke-width="3.9" stroke-dasharray="13 5"/>
<path d="M799.02 35.53L800.53 74.07" fill="none" stroke="#fff629" stroke-width="4.35" stroke-linecap="round"/><path d="M800.64 76.85L805.73 67.38L800.35 69.45L794.82 67.81Z" fill="#fff629"/><path d="M799.81 55.65L804.9 46.18L799.52 48.24L793.99 46.61Z" fill="#fff629"/><path d="M828.5 71.05L826.23 52.91" fill="none" stroke="#fff629" stroke-width="4.64" stroke-linecap="round"/><path d="M825.87 50.04L821.43 60.31L826.83 57.69L832.7 58.9Z" fill="#fff629"/><path d="M815.65 98.26L808.84 111.87" fill="none" stroke="#ffc81e" stroke-width="2.9" stroke-linecap="round"/><path d="M807.85 113.86L815.07 109.18L810.5 108.55L807.26 105.27Z" fill="#ffc81e"/><path d="M820.94 122.45L820.18 107.33" fill="none" stroke="#fff629" stroke-width="2.9" stroke-linecap="round"/><path d="M820.07 105.11L816.08 112.73L820.37 111.03L824.8 112.29Z" fill="#fff629"/><path d="M833.03 122.45L830.01 90.7" fill="none" stroke="#fff629" stroke-width="4.64" stroke-linecap="round"/><path d="M829.73 87.83L824.99 97.95L830.46 95.5L836.3 96.88Z" fill="#fff629"/><path d="M831.25 103.7L826.51 113.83L831.98 111.37L837.81 112.75Z" fill="#fff629"/><path d="M796.75 158.73L795.54 119.43" fill="none" stroke="#fff629" stroke-width="2.9" stroke-linecap="round"/><path d="M795.47 117.2L791.33 124.74L795.65 123.13L800.07 124.48Z" fill="#fff629"/><path d="M796.32 144.72L792.18 152.26L796.5 150.64L800.91 151.99Z" fill="#fff629"/><path d="M796.14 138.82L792 146.36L796.32 144.75L800.73 146.09Z" fill="#fff629"/><path d="M799.02 176.87L795.99 160.24" fill="none" stroke="#fff629" stroke-width="2.9" stroke-linecap="round"/><path d="M795.6 158.05L792.62 166.13L796.66 163.89L801.22 164.56Z" fill="#fff629"/><path d="M811.87 166.29L808.84 141.35" fill="none" stroke="#fff629" stroke-width="2.9" stroke-linecap="round"/><path d="M808.58 139.14L805.13 147.02L809.29 145.02L813.8 145.97Z" fill="#fff629"/><path d="M810.09 151.61L806.64 159.49L810.8 157.5L815.32 158.44Z" fill="#fff629"/><path d="M833.03 177.63C833.66 175.49 836.68 169.06 836.81 164.78C836.94 160.49 834.29 154.07 833.79 151.93" fill="none" stroke="#fff629" stroke-width="2.9" stroke-linecap="round"/><path d="M833.28 149.76L830.72 157.98L834.64 155.53L839.23 155.98Z" fill="#fff629"/><path d="M841.35 185.94L842.1 173.85" fill="none" stroke="#fff629" stroke-width="2.9" stroke-linecap="round"/><path d="M842.24 171.63L837.42 178.75L841.87 177.55L846.14 179.3Z" fill="#fff629"/><path d="M849.66 222.22C849.53 219.95 849.66 213.66 848.9 208.62C848.15 203.58 845.75 194.76 845.12 191.99" fill="none" stroke="#fff629" stroke-width="2.9" stroke-linecap="round"/><path d="M844.63 189.82L842.01 198.01L845.95 195.6L850.53 196.08Z" fill="#fff629"/><path d="M851.13 208.62L843.72 204.25L845.2 208.62L843.72 212.98Z" fill="#fff629"/><path d="M830.01 271.2C829.76 263.79 827.99 239.71 828.5 226.76C829 213.81 832.28 199.04 833.03 193.5" fill="none" stroke="#fff629" stroke-width="2.9" stroke-linecap="round"/><path d="M833.33 191.3L828 198.05L832.53 197.17L836.66 199.23Z" fill="#fff629"/><path d="M829.02 242.31L824.91 249.87L829.23 248.24L833.64 249.57Z" fill="#fff629"/><path d="M829.7 217.9L824.37 224.66L828.9 223.78L833.03 225.84Z" fill="#fff629"/><path d="M831.52 204.6L826.19 211.35L830.72 210.47L834.84 212.53Z" fill="#fff629"/><path d="M819.43 241.87L818.67 216.18" fill="none" stroke="#fff629" stroke-width="2.9" stroke-linecap="round"/><path d="M818.6 213.95L814.46 221.49L818.78 219.88L823.19 221.23Z" fill="#fff629"/><path d="M799.02 234.32L792.97 222.22" fill="none" stroke="#fff629" stroke-width="2.9" stroke-linecap="round"/><path d="M791.98 220.23L791.38 228.82L794.63 225.54L799.2 224.91Z" fill="#fff629"/><path d="M778.61 250.04L786.17 233.56" fill="none" stroke="#fff629" stroke-width="2.9" stroke-linecap="round"/><path d="M787.09 231.54L780.03 236.45L784.62 236.93L787.98 240.1Z" fill="#fff629"/>
<path d="M765 243.78L777.1 267.97" fill="none" stroke="#fff629" stroke-width="2.9" stroke-linecap="round"/><path d="M778.09 269.96L778.68 261.37L775.44 264.65L770.87 265.28Z" fill="#fff629"/><path d="M783.9 240L777.1 267.97" fill="none" stroke="#fff629" stroke-width="2.9" stroke-linecap="round"/><path d="M776.57 270.13L782.57 263.96L777.97 264.37L774.08 261.89Z" fill="#fff629"/><path d="M896.52 261.16L898.79 249.07" fill="none" stroke="#fff629" stroke-width="2.9" stroke-linecap="round"/><path d="M899.2 246.89L893.54 253.36L898.11 252.71L902.13 254.97Z" fill="#fff629"/><path d="M851.17 284.6L864.78 266.46" fill="none" stroke="#ffc81e" stroke-width="2.9" stroke-linecap="round"/><path d="M866.11 264.68L858.17 267.98L862.55 269.42L865.16 273.23Z" fill="#ffc81e"/><path d="M864.02 283.08L876.11 267.21" fill="none" stroke="#ffc81e" stroke-width="2.9" stroke-linecap="round"/><path d="M877.46 265.44L869.5 268.69L873.87 270.16L876.45 273.98Z" fill="#ffc81e"/><path d="M885.94 276.28C885.44 277.79 882.16 282.33 882.92 285.35C883.67 288.37 885.44 291.27 890.48 294.42C895.52 297.57 909.37 302.61 913.15 304.25" fill="none" stroke="#ffc81e" stroke-width="2.9" stroke-linecap="round"/><path d="M915.19 305.13L910.13 298.18L909.75 302.77L906.66 306.19Z" fill="#ffc81e"/><path d="M769.54 274.01L785.41 281.57" fill="none" stroke="#ff8c19" stroke-width="2.9" stroke-linecap="round"/><path d="M787.42 282.53L782.61 275.4L782.07 279.98L778.85 283.29Z" fill="#ff8c19"/><path d="M783.14 284.6C781.38 285.23 775.84 286.61 772.56 288.37C769.29 290.14 765 294.04 763.49 295.18" fill="none" stroke="#ff8c19" stroke-width="2.9" stroke-linecap="round"/><path d="M761.71 296.51L770.26 295.56L766.46 292.95L765.02 288.57Z" fill="#ff8c19"/><path d="M865.53 295.93L867.04 315.59" fill="none" stroke="#fff629" stroke-width="2.9" stroke-linecap="round"/><path d="M867.22 317.8L871 310.08L866.76 311.89L862.29 310.75Z" fill="#fff629"/><path d="M878.38 310.29L898.03 310.29" fill="none" stroke="#ff1612" stroke-width="2.9" stroke-linecap="round"/><path d="M900.26 310.29L892.85 305.93L894.33 310.29L892.85 314.66Z" fill="#ff1612"/><path d="M805.82 311.81L790.7 314.83" fill="none" stroke="#ff1612" stroke-width="2.9" stroke-linecap="round"/><path d="M788.52 315.27L796.65 318.1L794.34 314.1L794.93 309.53Z" fill="#ff1612"/><path d="M796.75 317.1L786.17 319.37" fill="none" stroke="#ff8c19" stroke-width="2.9" stroke-linecap="round"/><path d="M783.99 319.83L792.15 322.55L789.79 318.59L790.32 314.01Z" fill="#ff8c19"/><path d="M797.51 332.97C796.88 331.58 795.36 326.67 793.73 324.66C792.09 322.64 788.69 321.51 787.68 320.88" fill="none" stroke="#fff629" stroke-width="2.9" stroke-linecap="round"/><path d="M785.79 319.7L789.76 327.33L790.82 322.84L794.39 319.92Z" fill="#fff629"/><path d="M765 310.29C764.75 311.43 764.88 314.96 763.49 317.1C762.11 319.24 757.82 322.14 756.69 323.14" fill="none" stroke="#ffc81e" stroke-width="2.9" stroke-linecap="round"/><path d="M755.03 324.62L763.47 322.96L759.46 320.68L757.66 316.43Z" fill="#ffc81e"/><path d="M774.83 343.55L782.39 361.69" fill="none" stroke="#fff629" stroke-width="2.9" stroke-linecap="round"/><path d="M783.24 363.75L784.43 355.23L780.96 358.27L776.36 358.59Z" fill="#fff629"/><path d="M851.17 335.99C851.42 339.14 851.93 348.97 852.68 354.89C853.44 360.81 855.2 368.75 855.71 371.52" fill="none" stroke="#fff629" stroke-width="2.9" stroke-linecap="round"/><path d="M856.1 373.71L859.08 365.63L855.04 367.87L850.48 367.2Z" fill="#fff629"/><path d="M919.95 340.53L900.3 352.62" fill="none" stroke="#ff8c19" stroke-width="2.9" stroke-linecap="round"/><path d="M898.41 353.79L907.01 353.62L903.46 350.68L902.43 346.18Z" fill="#ff8c19"/><path d="M904.84 355.65L885.94 374.54" fill="none" stroke="#ffc81e" stroke-width="2.9" stroke-linecap="round"/><path d="M884.37 376.11L892.7 373.96L888.56 371.92L886.52 367.79Z" fill="#ffc81e"/><path d="M891.99 372.28L877.63 376.81" fill="none" stroke="#ff4a16" stroke-width="2.9" stroke-linecap="round"/><path d="M875.51 377.48L883.89 379.41L881.16 375.69L881.26 371.08Z" fill="#ff4a16"/><path d="M786.92 363.2L759.71 382.86" fill="none" stroke="#ff8c19" stroke-width="2.9" stroke-linecap="round"/><path d="M757.91 384.16L766.48 383.36L762.72 380.69L761.36 376.28Z" fill="#ff8c19"/><path d="M781.63 371.52L771.05 382.1" fill="none" stroke="#ffc81e" stroke-width="2.9" stroke-linecap="round"/><path d="M769.48 383.67L777.81 381.52L773.67 379.48L771.63 375.34Z" fill="#ffc81e"/><path d="M847.39 369.25L845.12 384.37" fill="none" stroke="#fff629" stroke-width="2.9" stroke-linecap="round"/><path d="M844.79 386.57L850.21 379.89L845.67 380.7L841.57 378.59Z" fill="#fff629"/><path d="M797.51 375.3L790.7 393.44" fill="none" stroke="#fff629" stroke-width="2.9" stroke-linecap="round"/><path d="M789.92 395.52L796.61 390.12L792 389.97L788.43 387.05Z" fill="#fff629"/><path d="M769.54 384.37L762.74 401" fill="none" stroke="#fff629" stroke-width="2.9" stroke-linecap="round"/><path d="M761.89 403.06L768.74 397.85L764.14 397.57L760.66 394.54Z" fill="#fff629"/><path d="M803.55 387.39L811.87 406.29" fill="none" stroke="#fff629" stroke-width="2.9" stroke-linecap="round"/><path d="M812.76 408.32L813.78 399.78L810.37 402.9L805.78 403.3Z" fill="#fff629"/><path d="M844.37 410.82L833.79 397.97" fill="none" stroke="#ffc81e" stroke-width="2.9" stroke-linecap="round"/><path d="M832.37 396.26L833.71 404.76L836.14 400.83L840.46 399.2Z" fill="#ffc81e"/><path d="M874.6 392.68L878.38 408.56" fill="none" stroke="#fff629" stroke-width="2.9" stroke-linecap="round"/><path d="M878.9 410.72L881.43 402.5L877.52 404.95L872.93 404.52Z" fill="#fff629"/><path d="M804.31 410.07L792.97 428.96" fill="none" stroke="#ffc81e" stroke-width="2.9" stroke-linecap="round"/><path d="M791.83 430.87L799.38 426.76L794.88 425.79L791.89 422.27Z" fill="#ffc81e"/><path d="M799.77 422.16L797.51 437.28" fill="none" stroke="#fff629" stroke-width="2.9" stroke-linecap="round"/><path d="M797.18 439.48L802.59 432.8L798.06 433.61L793.96 431.5Z" fill="#fff629"/><path d="M825.47 423.67L831.52 436.52" fill="none" stroke="#fff629" stroke-width="2.9" stroke-linecap="round"/><path d="M832.47 438.53L833.26 429.97L829.94 433.17L825.36 433.69Z" fill="#fff629"/><path d="M842.86 427.45C844.24 427.45 847.77 428.59 851.17 427.45C854.57 426.32 861.25 421.78 863.27 420.65" fill="none" stroke="#ff4a16" stroke-width="2.9" stroke-linecap="round"/><path d="M865.2 419.56L856.6 419.39L860.04 422.47L860.89 427Z" fill="#ff4a16"/><path d="M842.1 431.23L842.86 445.59" fill="none" stroke="#fff629" stroke-width="2.9" stroke-linecap="round"/><path d="M842.97 447.81L846.95 440.18L842.66 441.89L838.22 440.64Z" fill="#fff629"/><path d="M891.99 439.55L878.38 413.85" fill="none" stroke="#fff629" stroke-width="2.9" stroke-linecap="round"/><path d="M877.34 411.88L876.95 420.48L880.12 417.12L884.67 416.39Z" fill="#fff629"/><path d="M886.19 428.59L885.79 437.18L888.96 433.83L893.51 433.09Z" fill="#fff629"/><path d="M882.78 422.16L882.39 430.75L885.56 427.4L890.11 426.67Z" fill="#fff629"/><path d="M829.25 449.37L846.64 459.2" fill="none" stroke="#ff8c19" stroke-width="2.9" stroke-linecap="round"/><path d="M848.57 460.29L844.27 452.84L843.41 457.38L839.97 460.45Z" fill="#ff8c19"/><path d="M795.24 454.66L793.73 470.54" fill="none" stroke="#fff629" stroke-width="2.9" stroke-linecap="round"/><path d="M793.52 472.75L798.57 465.79L794.08 466.85L789.87 464.96Z" fill="#fff629"/><path d="M873.85 468.27L866.29 456.93" fill="none" stroke="#fff629" stroke-width="2.9" stroke-linecap="round"/><path d="M865.06 455.08L865.53 463.67L868.34 460.01L872.8 458.82Z" fill="#fff629"/>
<rect x="983.2" y="427.2" width="40.8" height="5.1" fill="#fff"/>
<text x="1029.5" y="47.7" font-size="29" text-anchor="end" fill="#22b20a">In vitro</text>
<text x="1028" y="77.7" font-size="29" text-anchor="end" fill="#22b20a">3D collagen-I</text>
</g>
<g clip-path="url(#ci3)">
<g filter="url(#grain)">
<rect x="1069.6" y="5.4" width="476.1" height="475.8" fill="#0b0b0b"/>
<path d="M1043.5 436.04L1153.51 405.79L1236.02 392.04L1318.52 372.79L1373.53 353.53L1456.04 337.03L1571.55 317.78L1571.55 507.55L1043.5 507.55Z" fill="#212121" filter="url(#b14)"/>
<ellipse cx="1456.04" cy="425.04" rx="104.51" ry="55.01" fill="#2b2b2b" filter="url(#b14)"/>
<ellipse cx="1285.52" cy="403.04" rx="63.26" ry="7.7" fill="#404040" filter="url(#b6)" transform="rotate(-8 1285.52 403.04)"/>
<ellipse cx="1112.25" cy="458.05" rx="55.01" ry="24.75" fill="#2c2c2c" filter="url(#b10)"/>
<ellipse cx="1093" cy="298.53" rx="19.25" ry="16.5" fill="#1e1e1e" filter="url(#b7)"/>
<ellipse cx="1181.01" cy="67.51" rx="15.13" ry="15.13" fill="#505050" filter="url(#b5)"/>
<ellipse cx="1170.01" cy="276.53" rx="11" ry="11" fill="#282828" filter="url(#b5)"/>
<ellipse cx="1271.77" cy="331.53" rx="16.5" ry="11" fill="#2a2a2a" filter="url(#b6)"/>
<ellipse cx="1362.53" cy="337.03" rx="11" ry="11" fill="#2a2a2a" filter="url(#b6)"/>
<clipPath id="co3"><path d="M1198.6 96.98C1199.22 93.88 1204.81 91.4 1207.91 87.67C1211.01 83.95 1214.11 78.68 1217.21 74.65C1220.31 70.62 1222.79 65.97 1226.51 63.49C1230.23 61.01 1234.88 60.39 1239.53 59.77C1244.19 59.15 1250.39 59.61 1254.42 59.77C1258.45 59.92 1261.71 59.15 1263.72 60.7C1265.74 62.25 1264.34 67.21 1266.51 69.07C1268.68 70.93 1272.87 72.17 1276.74 71.86C1280.62 71.55 1285.43 68.76 1289.77 67.21C1294.11 65.66 1298.76 62.56 1302.79 62.56C1306.82 62.56 1310.54 65.19 1313.95 67.21C1317.36 69.22 1320.78 71.86 1323.26 74.65C1325.74 77.44 1327.91 80.54 1328.84 83.95C1329.77 87.36 1329.77 91.71 1328.84 95.12C1327.91 98.53 1324.96 101.63 1323.26 104.42C1321.55 107.21 1318.29 109.38 1318.6 111.86C1318.91 114.34 1322.17 117.29 1325.12 119.3C1328.06 121.32 1332.87 123.64 1336.28 123.95C1339.69 124.26 1343.1 123.18 1345.58 121.16C1348.06 119.15 1349.3 115.58 1351.16 111.86C1353.02 108.14 1354.88 103.18 1356.74 98.84C1358.6 94.5 1360.47 89.53 1362.33 85.81C1364.19 82.09 1365.43 78.53 1367.91 76.51C1370.39 74.5 1373.8 73.1 1377.21 73.72C1380.62 74.34 1384.96 77.29 1388.37 80.23C1391.78 83.18 1394.88 87.67 1397.67 91.4C1400.47 95.12 1402.95 98.84 1405.12 102.56C1407.29 106.28 1408.53 110.31 1410.7 113.72C1412.87 117.13 1415.35 119.92 1418.14 123.02C1420.93 126.12 1424.34 129.53 1427.44 132.33C1430.54 135.12 1433.33 138.22 1436.74 139.77C1440.16 141.32 1444.19 141.01 1447.91 141.63C1451.63 142.25 1456.43 141.63 1459.07 143.49C1461.71 145.35 1462.95 148.76 1463.72 152.79C1464.5 156.82 1463.57 162.71 1463.72 167.67C1463.88 172.64 1464.03 178.22 1464.65 182.56C1465.27 186.9 1467.44 189.69 1467.44 193.72C1467.44 197.75 1466.67 202.4 1464.65 206.74C1462.64 211.09 1457.21 215.74 1455.35 219.77C1453.49 223.8 1452.87 227.21 1453.49 230.93C1454.11 234.65 1456.9 238.37 1459.07 242.09C1461.24 245.81 1464.65 249.22 1466.51 253.26C1468.37 257.29 1470.08 261.94 1470.23 266.28C1470.39 270.62 1469.3 275.27 1467.44 279.3C1465.58 283.33 1462.64 287.67 1459.07 290.47C1455.5 293.26 1450.39 294.34 1446.05 296.05C1441.71 297.75 1437.67 299.46 1433.02 300.7C1428.37 301.94 1423.1 302.09 1418.14 303.49C1413.18 304.88 1408.22 307.21 1403.26 309.07C1398.29 310.93 1393.02 312.79 1388.37 314.65C1383.72 316.51 1379.69 318.68 1375.35 320.23C1371.01 321.78 1366.98 323.02 1362.33 323.95C1357.67 324.88 1352.4 325.97 1347.44 325.81C1342.48 325.66 1337.52 324.42 1332.56 323.02C1327.6 321.63 1322.64 319.15 1317.67 317.44C1312.71 315.74 1307.75 313.88 1302.79 312.79C1297.83 311.71 1292.25 312.48 1287.91 310.93C1283.57 309.38 1280.47 306.59 1276.74 303.49C1273.02 300.39 1269.3 295.43 1265.58 292.33C1261.86 289.22 1257.36 288.29 1254.42 284.88C1251.47 281.47 1249.15 276.51 1247.91 271.86C1246.67 267.21 1246.2 261.63 1246.98 256.98C1247.75 252.33 1251.94 248.29 1252.56 243.95C1253.18 239.61 1252.25 234.96 1250.7 230.93C1249.15 226.9 1245.89 223.49 1243.26 219.77C1240.62 216.05 1236.12 212.64 1234.88 208.6C1233.64 204.57 1234.42 200.23 1235.81 195.58C1237.21 190.93 1241.24 185.35 1243.26 180.7C1245.27 176.05 1245.12 170.78 1247.91 167.67C1250.7 164.57 1257.98 164.26 1260 162.09C1262.02 159.92 1261.24 157.75 1260 154.65C1258.76 151.55 1255.66 147.21 1252.56 143.49C1249.46 139.77 1245.43 135.74 1241.4 132.33C1237.36 128.91 1232.71 126.12 1228.37 123.02C1224.03 119.92 1219.38 116.51 1215.35 113.72C1211.32 110.93 1206.98 109.07 1204.19 106.28C1201.4 103.49 1197.98 100.08 1198.6 96.98Z"/></clipPath>
<path d="M1198.6 96.98C1199.22 93.88 1204.81 91.4 1207.91 87.67C1211.01 83.95 1214.11 78.68 1217.21 74.65C1220.31 70.62 1222.79 65.97 1226.51 63.49C1230.23 61.01 1234.88 60.39 1239.53 59.77C1244.19 59.15 1250.39 59.61 1254.42 59.77C1258.45 59.92 1261.71 59.15 1263.72 60.7C1265.74 62.25 1264.34 67.21 1266.51 69.07C1268.68 70.93 1272.87 72.17 1276.74 71.86C1280.62 71.55 1285.43 68.76 1289.77 67.21C1294.11 65.66 1298.76 62.56 1302.79 62.56C1306.82 62.56 1310.54 65.19 1313.95 67.21C1317.36 69.22 1320.78 71.86 1323.26 74.65C1325.74 77.44 1327.91 80.54 1328.84 83.95C1329.77 87.36 1329.77 91.71 1328.84 95.12C1327.91 98.53 1324.96 101.63 1323.26 104.42C1321.55 107.21 1318.29 109.38 1318.6 111.86C1318.91 114.34 1322.17 117.29 1325.12 119.3C1328.06 121.32 1332.87 123.64 1336.28 123.95C1339.69 124.26 1343.1 123.18 1345.58 121.16C1348.06 119.15 1349.3 115.58 1351.16 111.86C1353.02 108.14 1354.88 103.18 1356.74 98.84C1358.6 94.5 1360.47 89.53 1362.33 85.81C1364.19 82.09 1365.43 78.53 1367.91 76.51C1370.39 74.5 1373.8 73.1 1377.21 73.72C1380.62 74.34 1384.96 77.29 1388.37 80.23C1391.78 83.18 1394.88 87.67 1397.67 91.4C1400.47 95.12 1402.95 98.84 1405.12 102.56C1407.29 106.28 1408.53 110.31 1410.7 113.72C1412.87 117.13 1415.35 119.92 1418.14 123.02C1420.93 126.12 1424.34 129.53 1427.44 132.33C1430.54 135.12 1433.33 138.22 1436.74 139.77C1440.16 141.32 1444.19 141.01 1447.91 141.63C1451.63 142.25 1456.43 141.63 1459.07 143.49C1461.71 145.35 1462.95 148.76 1463.72 152.79C1464.5 156.82 1463.57 162.71 1463.72 167.67C1463.88 172.64 1464.03 178.22 1464.65 182.56C1465.27 186.9 1467.44 189.69 1467.44 193.72C1467.44 197.75 1466.67 202.4 1464.65 206.74C1462.64 211.09 1457.21 215.74 1455.35 219.77C1453.49 223.8 1452.87 227.21 1453.49 230.93C1454.11 234.65 1456.9 238.37 1459.07 242.09C1461.24 245.81 1464.65 249.22 1466.51 253.26C1468.37 257.29 1470.08 261.94 1470.23 266.28C1470.39 270.62 1469.3 275.27 1467.44 279.3C1465.58 283.33 1462.64 287.67 1459.07 290.47C1455.5 293.26 1450.39 294.34 1446.05 296.05C1441.71 297.75 1437.67 299.46 1433.02 300.7C1428.37 301.94 1423.1 302.09 1418.14 303.49C1413.18 304.88 1408.22 307.21 1403.26 309.07C1398.29 310.93 1393.02 312.79 1388.37 314.65C1383.72 316.51 1379.69 318.68 1375.35 320.23C1371.01 321.78 1366.98 323.02 1362.33 323.95C1357.67 324.88 1352.4 325.97 1347.44 325.81C1342.48 325.66 1337.52 324.42 1332.56 323.02C1327.6 321.63 1322.64 319.15 1317.67 317.44C1312.71 315.74 1307.75 313.88 1302.79 312.79C1297.83 311.71 1292.25 312.48 1287.91 310.93C1283.57 309.38 1280.47 306.59 1276.74 303.49C1273.02 300.39 1269.3 295.43 1265.58 292.33C1261.86 289.22 1257.36 288.29 1254.42 284.88C1251.47 281.47 1249.15 276.51 1247.91 271.86C1246.67 267.21 1246.2 261.63 1246.98 256.98C1247.75 252.33 1251.94 248.29 1252.56 243.95C1253.18 239.61 1252.25 234.96 1250.7 230.93C1249.15 226.9 1245.89 223.49 1243.26 219.77C1240.62 216.05 1236.12 212.64 1234.88 208.6C1233.64 204.57 1234.42 200.23 1235.81 195.58C1237.21 190.93 1241.24 185.35 1243.26 180.7C1245.27 176.05 1245.12 170.78 1247.91 167.67C1250.7 164.57 1257.98 164.26 1260 162.09C1262.02 159.92 1261.24 157.75 1260 154.65C1258.76 151.55 1255.66 147.21 1252.56 143.49C1249.46 139.77 1245.43 135.74 1241.4 132.33C1237.36 128.91 1232.71 126.12 1228.37 123.02C1224.03 119.92 1219.38 116.51 1215.35 113.72C1211.32 110.93 1206.98 109.07 1204.19 106.28C1201.4 103.49 1197.98 100.08 1198.6 96.98Z" fill="#303030" filter="url(#b5)"/>
<g clip-path="url(#co3)">
<ellipse cx="1381.78" cy="246.27" rx="79.76" ry="61.88" fill="#585858" filter="url(#b14)"/>
<ellipse cx="1391.41" cy="242.15" rx="55.01" ry="45.38" fill="#c8c8c8" filter="url(#b10)"/>
<ellipse cx="1263.52" cy="117.01" rx="55.01" ry="8.25" fill="#686868" filter="url(#b5)" transform="rotate(35 1263.52 117.01)"/>
<ellipse cx="1387.28" cy="130.76" rx="33" ry="8.25" fill="#4c4c4c" filter="url(#b6)" transform="rotate(60 1387.28 130.76)"/>
<ellipse cx="1277.27" cy="218.77" rx="22" ry="6.88" fill="#686868" filter="url(#b5)" transform="rotate(15 1277.27 218.77)"/>
<path d="M1198.6 96.98C1199.22 93.88 1204.81 91.4 1207.91 87.67C1211.01 83.95 1214.11 78.68 1217.21 74.65C1220.31 70.62 1222.79 65.97 1226.51 63.49C1230.23 61.01 1234.88 60.39 1239.53 59.77C1244.19 59.15 1250.39 59.61 1254.42 59.77C1258.45 59.92 1261.71 59.15 1263.72 60.7C1265.74 62.25 1264.34 67.21 1266.51 69.07C1268.68 70.93 1272.87 72.17 1276.74 71.86C1280.62 71.55 1285.43 68.76 1289.77 67.21C1294.11 65.66 1298.76 62.56 1302.79 62.56C1306.82 62.56 1310.54 65.19 1313.95 67.21C1317.36 69.22 1320.78 71.86 1323.26 74.65C1325.74 77.44 1327.91 80.54 1328.84 83.95C1329.77 87.36 1329.77 91.71 1328.84 95.12C1327.91 98.53 1324.96 101.63 1323.26 104.42C1321.55 107.21 1318.29 109.38 1318.6 111.86C1318.91 114.34 1322.17 117.29 1325.12 119.3C1328.06 121.32 1332.87 123.64 1336.28 123.95C1339.69 124.26 1343.1 123.18 1345.58 121.16C1348.06 119.15 1349.3 115.58 1351.16 111.86C1353.02 108.14 1354.88 103.18 1356.74 98.84C1358.6 94.5 1360.47 89.53 1362.33 85.81C1364.19 82.09 1365.43 78.53 1367.91 76.51C1370.39 74.5 1373.8 73.1 1377.21 73.72C1380.62 74.34 1384.96 77.29 1388.37 80.23C1391.78 83.18 1394.88 87.67 1397.67 91.4C1400.47 95.12 1402.95 98.84 1405.12 102.56C1407.29 106.28 1408.53 110.31 1410.7 113.72C1412.87 117.13 1415.35 119.92 1418.14 123.02C1420.93 126.12 1424.34 129.53 1427.44 132.33C1430.54 135.12 1433.33 138.22 1436.74 139.77C1440.16 141.32 1444.19 141.01 1447.91 141.63C1451.63 142.25 1456.43 141.63 1459.07 143.49C1461.71 145.35 1462.95 148.76 1463.72 152.79C1464.5 156.82 1463.57 162.71 1463.72 167.67C1463.88 172.64 1464.03 178.22 1464.65 182.56C1465.27 186.9 1467.44 189.69 1467.44 193.72C1467.44 197.75 1466.67 202.4 1464.65 206.74C1462.64 211.09 1457.21 215.74 1455.35 219.77C1453.49 223.8 1452.87 227.21 1453.49 230.93C1454.11 234.65 1456.9 238.37 1459.07 242.09C1461.24 245.81 1464.65 249.22 1466.51 253.26C1468.37 257.29 1470.08 261.94 1470.23 266.28C1470.39 270.62 1469.3 275.27 1467.44 279.3C1465.58 283.33 1462.64 287.67 1459.07 290.47C1455.5 293.26 1450.39 294.34 1446.05 296.05C1441.71 297.75 1437.67 299.46 1433.02 300.7C1428.37 301.94 1423.1 302.09 1418.14 303.49C1413.18 304.88 1408.22 307.21 1403.26 309.07C1398.29 310.93 1393.02 312.79 1388.37 314.65C1383.72 316.51 1379.69 318.68 1375.35 320.23C1371.01 321.78 1366.98 323.02 1362.33 323.95C1357.67 324.88 1352.4 325.97 1347.44 325.81C1342.48 325.66 1337.52 324.42 1332.56 323.02C1327.6 321.63 1322.64 319.15 1317.67 317.44C1312.71 315.74 1307.75 313.88 1302.79 312.79C1297.83 311.71 1292.25 312.48 1287.91 310.93C1283.57 309.38 1280.47 306.59 1276.74 303.49C1273.02 300.39 1269.3 295.43 1265.58 292.33C1261.86 289.22 1257.36 288.29 1254.42 284.88C1251.47 281.47 1249.15 276.51 1247.91 271.86C1246.67 267.21 1246.2 261.63 1246.98 256.98C1247.75 252.33 1251.94 248.29 1252.56 243.95C1253.18 239.61 1252.25 234.96 1250.7 230.93C1249.15 226.9 1245.89 223.49 1243.26 219.77C1240.62 216.05 1236.12 212.64 1234.88 208.6C1233.64 204.57 1234.42 200.23 1235.81 195.58C1237.21 190.93 1241.24 185.35 1243.26 180.7C1245.27 176.05 1245.12 170.78 1247.91 167.67C1250.7 164.57 1257.98 164.26 1260 162.09C1262.02 159.92 1261.24 157.75 1260 154.65C1258.76 151.55 1255.66 147.21 1252.56 143.49C1249.46 139.77 1245.43 135.74 1241.4 132.33C1237.36 128.91 1232.71 126.12 1228.37 123.02C1224.03 119.92 1219.38 116.51 1215.35 113.72C1211.32 110.93 1206.98 109.07 1204.19 106.28C1201.4 103.49 1197.98 100.08 1198.6 96.98Z" fill="none" stroke="#080808" stroke-width="12" filter="url(#b3)" opacity="0.9"/>
</g>
</g>
<ellipse cx="1392.5" cy="241" rx="30" ry="24" fill="#ffffff" filter="url(#b6)"/>
<path d="M1198.6 96.98C1199.22 93.88 1204.81 91.4 1207.91 87.67C1211.01 83.95 1214.11 78.68 1217.21 74.65C1220.31 70.62 1222.79 65.97 1226.51 63.49C1230.23 61.01 1234.88 60.39 1239.53 59.77C1244.19 59.15 1250.39 59.61 1254.42 59.77C1258.45 59.92 1261.71 59.15 1263.72 60.7C1265.74 62.25 1264.34 67.21 1266.51 69.07C1268.68 70.93 1272.87 72.17 1276.74 71.86C1280.62 71.55 1285.43 68.76 1289.77 67.21C1294.11 65.66 1298.76 62.56 1302.79 62.56C1306.82 62.56 1310.54 65.19 1313.95 67.21C1317.36 69.22 1320.78 71.86 1323.26 74.65C1325.74 77.44 1327.91 80.54 1328.84 83.95C1329.77 87.36 1329.77 91.71 1328.84 95.12C1327.91 98.53 1324.96 101.63 1323.26 104.42C1321.55 107.21 1318.29 109.38 1318.6 111.86C1318.91 114.34 1322.17 117.29 1325.12 119.3C1328.06 121.32 1332.87 123.64 1336.28 123.95C1339.69 124.26 1343.1 123.18 1345.58 121.16C1348.06 119.15 1349.3 115.58 1351.16 111.86C1353.02 108.14 1354.88 103.18 1356.74 98.84C1358.6 94.5 1360.47 89.53 1362.33 85.81C1364.19 82.09 1365.43 78.53 1367.91 76.51C1370.39 74.5 1373.8 73.1 1377.21 73.72C1380.62 74.34 1384.96 77.29 1388.37 80.23C1391.78 83.18 1394.88 87.67 1397.67 91.4C1400.47 95.12 1402.95 98.84 1405.12 102.56C1407.29 106.28 1408.53 110.31 1410.7 113.72C1412.87 117.13 1415.35 119.92 1418.14 123.02C1420.93 126.12 1424.34 129.53 1427.44 132.33C1430.54 135.12 1433.33 138.22 1436.74 139.77C1440.16 141.32 1444.19 141.01 1447.91 141.63C1451.63 142.25 1456.43 141.63 1459.07 143.49C1461.71 145.35 1462.95 148.76 1463.72 152.79C1464.5 156.82 1463.57 162.71 1463.72 167.67C1463.88 172.64 1464.03 178.22 1464.65 182.56C1465.27 186.9 1467.44 189.69 1467.44 193.72C1467.44 197.75 1466.67 202.4 1464.65 206.74C1462.64 211.09 1457.21 215.74 1455.35 219.77C1453.49 223.8 1452.87 227.21 1453.49 230.93C1454.11 234.65 1456.9 238.37 1459.07 242.09C1461.24 245.81 1464.65 249.22 1466.51 253.26C1468.37 257.29 1470.08 261.94 1470.23 266.28C1470.39 270.62 1469.3 275.27 1467.44 279.3C1465.58 283.33 1462.64 287.67 1459.07 290.47C1455.5 293.26 1450.39 294.34 1446.05 296.05C1441.71 297.75 1437.67 299.46 1433.02 300.7C1428.37 301.94 1423.1 302.09 1418.14 303.49C1413.18 304.88 1408.22 307.21 1403.26 309.07C1398.29 310.93 1393.02 312.79 1388.37 314.65C1383.72 316.51 1379.69 318.68 1375.35 320.23C1371.01 321.78 1366.98 323.02 1362.33 323.95C1357.67 324.88 1352.4 325.97 1347.44 325.81C1342.48 325.66 1337.52 324.42 1332.56 323.02C1327.6 321.63 1322.64 319.15 1317.67 317.44C1312.71 315.74 1307.75 313.88 1302.79 312.79C1297.83 311.71 1292.25 312.48 1287.91 310.93C1283.57 309.38 1280.47 306.59 1276.74 303.49C1273.02 300.39 1269.3 295.43 1265.58 292.33C1261.86 289.22 1257.36 288.29 1254.42 284.88C1251.47 281.47 1249.15 276.51 1247.91 271.86C1246.67 267.21 1246.2 261.63 1246.98 256.98C1247.75 252.33 1251.94 248.29 1252.56 243.95C1253.18 239.61 1252.25 234.96 1250.7 230.93C1249.15 226.9 1245.89 223.49 1243.26 219.77C1240.62 216.05 1236.12 212.64 1234.88 208.6C1233.64 204.57 1234.42 200.23 1235.81 195.58C1237.21 190.93 1241.24 185.35 1243.26 180.7C1245.27 176.05 1245.12 170.78 1247.91 167.67C1250.7 164.57 1257.98 164.26 1260 162.09C1262.02 159.92 1261.24 157.75 1260 154.65C1258.76 151.55 1255.66 147.21 1252.56 143.49C1249.46 139.77 1245.43 135.74 1241.4 132.33C1237.36 128.91 1232.71 126.12 1228.37 123.02C1224.03 119.92 1219.38 116.51 1215.35 113.72C1211.32 110.93 1206.98 109.07 1204.19 106.28C1201.4 103.49 1197.98 100.08 1198.6 96.98Z" fill="none" stroke="#bf06c6" stroke-width="5.9" stroke-dasharray="21 8.4"/>
<path d="M1264.65 101.63L1247.91 83.95" fill="none" stroke="#fff629" stroke-width="4" stroke-linecap="round"/><path d="M1246.1 82.05L1248.37 91.94L1250.91 87.13L1255.85 84.85Z" fill="#fff629"/><path d="M1283.26 102.56L1266.51 84.88" fill="none" stroke="#fff629" stroke-width="4" stroke-linecap="round"/><path d="M1264.71 82.98L1266.98 92.87L1269.52 88.06L1274.46 85.78Z" fill="#fff629"/><path d="M1250.7 109.07C1247.6 108.6 1237.83 107.67 1232.09 106.28C1226.36 104.88 1218.91 101.63 1216.28 100.7" fill="none" stroke="#ffc81e" stroke-width="4" stroke-linecap="round"/><path d="M1213.81 99.83L1220.33 107.59L1220.4 102.15L1223.76 97.88Z" fill="#ffc81e"/><path d="M1242.33 124.88L1226.51 103.49" fill="none" stroke="#fff629" stroke-width="4" stroke-linecap="round"/><path d="M1224.95 101.38L1226 111.47L1229.11 107L1234.29 105.35Z" fill="#fff629"/><path d="M1308.37 114.65C1307.13 109.84 1303.72 93.26 1300.93 85.81C1298.14 78.37 1293.18 72.64 1291.63 70" fill="none" stroke="#ffc81e" stroke-width="4" stroke-linecap="round"/><path d="M1290.3 67.74L1290.29 77.89L1293.84 73.77L1299.17 72.66Z" fill="#ffc81e"/><path d="M1303.55 85.81L1294.81 80.66L1296.56 85.81L1294.81 90.97Z" fill="#ffc81e"/><path d="M1297.21 131.4C1293.8 131.24 1282.02 132.95 1276.74 130.47C1271.47 127.98 1267.44 118.84 1265.58 116.51" fill="none" stroke="#ffc81e" stroke-width="4" stroke-linecap="round"/><path d="M1263.94 114.46L1265.38 124.51L1268.31 119.92L1273.43 118.07Z" fill="#ffc81e"/><path d="M1274.88 132.33L1248.84 124.88" fill="none" stroke="#ffc81e" stroke-width="4" stroke-linecap="round"/><path d="M1246.32 124.16L1253.3 131.52L1253.04 126.08L1256.14 121.61Z" fill="#ffc81e"/><path d="M1306.51 156.51C1302.79 154.03 1291.63 144.88 1284.19 141.63C1276.74 138.37 1265.58 137.75 1261.86 136.98" fill="none" stroke="#ffc81e" stroke-width="4" stroke-linecap="round"/><path d="M1259.29 136.44L1266.8 143.27L1266.14 137.87L1268.9 133.18Z" fill="#ffc81e"/><path d="M1297.21 149.07L1278.6 134.19" fill="none" stroke="#fff629" stroke-width="4" stroke-linecap="round"/><path d="M1276.56 132.55L1280.16 142.03L1282.02 136.92L1286.6 133.98Z" fill="#fff629"/><path d="M1334.42 137.91C1332.87 136.98 1328.53 135.12 1325.12 132.33C1321.71 129.53 1315.81 123.02 1313.95 121.16" fill="none" stroke="#fff629" stroke-width="4" stroke-linecap="round"/><path d="M1312.1 119.31L1314.64 129.13L1317.04 124.25L1321.92 121.85Z" fill="#fff629"/><path d="M1381.86 141.63L1365.12 126.74" fill="none" stroke="#fff629" stroke-width="4" stroke-linecap="round"/><path d="M1363.16 125L1366.27 134.66L1368.38 129.65L1373.11 126.96Z" fill="#fff629"/><path d="M1350.23 169.53C1348.53 167.05 1342.48 159.3 1340 154.65C1337.52 150 1336.12 143.8 1335.35 141.63" fill="none" stroke="#fff629" stroke-width="4" stroke-linecap="round"/><path d="M1334.47 139.16L1332.55 149.12L1336.82 145.74L1342.26 145.66Z" fill="#fff629"/><path d="M1364.19 179.77L1358.6 150.93" fill="none" stroke="#ffc81e" stroke-width="4" stroke-linecap="round"/><path d="M1358.11 148.36L1354.71 157.92L1359.44 155.22L1364.83 155.96Z" fill="#ffc81e"/><path d="M1385.58 178.84L1383.72 158.37" fill="none" stroke="#ffc81e" stroke-width="4" stroke-linecap="round"/><path d="M1383.48 155.76L1379.14 164.93L1384.12 162.72L1389.41 164Z" fill="#ffc81e"/><path d="M1405.12 163.02L1401.4 139.77" fill="none" stroke="#ffc81e" stroke-width="4" stroke-linecap="round"/><path d="M1400.98 137.18L1397.27 146.62L1402.09 144.08L1407.45 144.99Z" fill="#ffc81e"/><path d="M1290.7 184.42L1274.88 164.88" fill="none" stroke="#fff629" stroke-width="4" stroke-linecap="round"/><path d="M1273.23 162.85L1274.73 172.88L1277.63 168.28L1282.74 166.4Z" fill="#fff629"/><path d="M1313.02 210.47C1310.7 210.31 1304.5 211.09 1299.07 209.53C1293.64 207.98 1286.05 203.02 1280.47 201.16C1274.88 199.3 1272.4 197.29 1265.58 198.37C1258.76 199.46 1243.88 206.12 1239.53 207.67" fill="none" stroke="#ff8c19" stroke-width="4" stroke-linecap="round"/><path d="M1237.07 208.56L1247.03 210.47L1243.65 206.2L1243.56 200.76Z" fill="#ff8c19"/><path d="M1286.98 233.72C1284.03 232.02 1273.95 226.9 1269.3 223.49C1264.65 220.08 1260.78 214.96 1259.07 213.26" fill="none" stroke="#fff629" stroke-width="4" stroke-linecap="round"/><path d="M1257.22 211.4L1259.75 221.22L1262.16 216.35L1267.04 213.94Z" fill="#fff629"/><path d="M1314.88 232.79C1312.56 231.55 1305.89 226.59 1300.93 225.35C1295.97 224.11 1287.75 225.35 1285.12 225.35" fill="none" stroke="#ffc81e" stroke-width="4" stroke-linecap="round"/><path d="M1282.49 225.35L1291.23 230.5L1289.49 225.35L1291.23 220.2Z" fill="#ffc81e"/><path d="M1354.88 238.37L1373.49 224.42" fill="none" stroke="#ff1612" stroke-width="4" stroke-linecap="round"/><path d="M1375.59 222.85L1365.5 223.97L1369.99 227.04L1371.69 232.21Z" fill="#ff1612"/><path d="M1406.98 222.56L1417.21 191.86" fill="none" stroke="#ff8c19" stroke-width="4" stroke-linecap="round"/><path d="M1418.04 189.37L1410.39 196.04L1415.83 196.01L1420.16 199.29Z" fill="#ff8c19"/><path d="M1429.3 213.26L1450.7 197.44" fill="none" stroke="#ff1612" stroke-width="4" stroke-linecap="round"/><path d="M1452.81 195.88L1442.72 196.94L1447.18 200.04L1448.84 205.22Z" fill="#ff1612"/><path d="M1456.28 215.12L1454.42 192.79" fill="none" stroke="#ffc81e" stroke-width="4" stroke-linecap="round"/><path d="M1454.2 190.18L1449.79 199.32L1454.78 197.15L1460.06 198.46Z" fill="#ffc81e"/><path d="M1390.23 273.72C1390.39 272.17 1392.09 267.83 1391.16 264.42C1390.23 261.01 1385.74 255.12 1384.65 253.26" fill="none" stroke="#ffc81e" stroke-width="4" stroke-linecap="round"/><path d="M1383.33 250.99L1383.28 261.14L1386.85 257.03L1392.18 255.94Z" fill="#ffc81e"/>
<rect x="1475.2" y="427.1" width="45.3" height="4.7" fill="#fff"/>
<text x="1432.8" y="50.3" font-size="29" fill="#1a7fc4">In vivo</text>
</g>
<rect x="1573.8" y="11.4" width="37" height="466" fill="url(#cb)" stroke="#000" stroke-width="1.2"/>
<line x1="1611.5" y1="11.5" x2="1614.5" y2="11.5" stroke="#777" stroke-width="1"/>
<line x1="1611.5" y1="104.7" x2="1614.5" y2="104.7" stroke="#777" stroke-width="1"/>
<line x1="1611.5" y1="197.8" x2="1614.5" y2="197.8" stroke="#777" stroke-width="1"/>
<line x1="1611.5" y1="290.6" x2="1614.5" y2="290.6" stroke="#777" stroke-width="1"/>
<line x1="1611.5" y1="384.1" x2="1614.5" y2="384.1" stroke="#777" stroke-width="1"/>
<line x1="1611.5" y1="477.3" x2="1614.5" y2="477.3" stroke="#777" stroke-width="1"/>
<text x="1626.5" y="35" font-size="29">1.0</text>
<text x="1625.3" y="470.3" font-size="29">0.0</text>
<text transform="translate(1581.5 25.5) rotate(90)" font-size="29" fill="#c29a00">Parallel</text>
<text transform="translate(1581.5 279.5) rotate(90)" font-size="29" fill="#c42200">Perpendicular</text>
<text transform="translate(1684.5 242) rotate(90)" font-size="29" text-anchor="middle">Track orientation</text>
<text transform="translate(1649.2 243.4) rotate(90)" font-size="29" text-anchor="middle">(relative to major axis)</text>
</g>
<g id="panel-b">
<text x="0" y="557.5" font-size="41.4" font-weight="bold">b</text>
<rect x="121.25" y="546.5" width="681.25" height="589.75" fill="none" stroke="#000" stroke-width="2.6"/>
<line x1="117.3" y1="654.25" x2="120" y2="654.25" stroke="#9a9a9a" stroke-width="1.2"/>
<line x1="117.3" y1="761.25" x2="120" y2="761.25" stroke="#9a9a9a" stroke-width="1.2"/>
<line x1="117.3" y1="868.25" x2="120" y2="868.25" stroke="#9a9a9a" stroke-width="1.2"/>
<line x1="117.3" y1="975.5" x2="120" y2="975.5" stroke="#9a9a9a" stroke-width="1.2"/>
<line x1="117.3" y1="1082.5" x2="120" y2="1082.5" stroke="#9a9a9a" stroke-width="1.2"/>
<line x1="121.75" y1="1137.5" x2="121.75" y2="1140.3" stroke="#9a9a9a" stroke-width="1.2"/>
<line x1="198.75" y1="1137.5" x2="198.75" y2="1140.3" stroke="#9a9a9a" stroke-width="1.2"/>
<line x1="276.25" y1="1137.5" x2="276.25" y2="1140.3" stroke="#9a9a9a" stroke-width="1.2"/>
<line x1="353.75" y1="1137.5" x2="353.75" y2="1140.3" stroke="#9a9a9a" stroke-width="1.2"/>
<line x1="431.25" y1="1137.5" x2="431.25" y2="1140.3" stroke="#9a9a9a" stroke-width="1.2"/>
<line x1="508.25" y1="1137.5" x2="508.25" y2="1140.3" stroke="#9a9a9a" stroke-width="1.2"/>
<line x1="585.5" y1="1137.5" x2="585.5" y2="1140.3" stroke="#9a9a9a" stroke-width="1.2"/>
<line x1="663" y1="1137.5" x2="663" y2="1140.3" stroke="#9a9a9a" stroke-width="1.2"/>
<line x1="740" y1="1137.5" x2="740" y2="1140.3" stroke="#9a9a9a" stroke-width="1.2"/>
<text x="104.5" y="663.2" font-size="29" text-anchor="end">0.4</text>
<text x="104.5" y="1092.2" font-size="29" text-anchor="end">–0.4</text>
<text x="134.5" y="1174" font-size="29" text-anchor="end"><tspan dx="2.5">–</tspan><tspan dx="-2.5">1</tspan></text>
<text x="740" y="1174" font-size="29" text-anchor="middle">1</text>
<text x="460.3" y="1214" font-size="29" text-anchor="middle">PC 1 (26% variance explained)</text>
<text transform="translate(21.8 840) rotate(-90)" font-size="29" text-anchor="middle">PC 2 (15% variance explained)</text>
<rect x="421.2" y="601.2" width="12.6" height="12.6" fill="#000" rx="1.2"/>
<rect x="433.7" y="686.7" width="12.6" height="12.6" fill="#000" rx="1.2"/>
<rect x="418.7" y="706.7" width="12.6" height="12.6" fill="#000" rx="1.2"/>
<rect x="431.2" y="712.45" width="12.6" height="12.6" fill="#000" rx="1.2"/>
<rect x="559.95" y="758.2" width="12.6" height="12.6" fill="#000" rx="1.2"/>
<rect x="473.2" y="769.2" width="12.6" height="12.6" fill="#000" rx="1.2"/>
<rect x="558.7" y="802.45" width="12.6" height="12.6" fill="#000" rx="1.2"/>
<rect x="413.7" y="798.2" width="12.6" height="12.6" fill="#000" rx="1.2"/>
<rect x="562.45" y="883.7" width="12.6" height="12.6" fill="#000" rx="1.2"/>
<rect x="571.95" y="948.7" width="12.6" height="12.6" fill="#000" rx="1.2"/>
<rect x="436.7" y="981.2" width="12.6" height="12.6" fill="#000" rx="1.2"/>
<rect x="543.7" y="1001.7" width="12.6" height="12.6" fill="#000" rx="1.2"/>
<rect x="435.45" y="1034.2" width="12.6" height="12.6" fill="#000" rx="1.2"/>
<rect x="382.45" y="1073.7" width="12.6" height="12.6" fill="#000" rx="1.2"/>
<line x1="131.2" y1="868.7" x2="801" y2="868.7" stroke="#d2d2d2" stroke-width="5" stroke-dasharray="4.7 4.7"/>
<line x1="433.2" y1="550" x2="433.2" y2="1127" stroke="#d2d2d2" stroke-width="5" stroke-dasharray="4.7 4.7"/>
<rect x="121.25" y="546.5" width="681.25" height="589.75" fill="none" stroke="#000" stroke-width="2.6"/>
<text x="443.5" y="609" font-size="21">Local coherence</text>
<text x="454" y="689.7" font-size="21">Cellular coherence</text>
<text x="310.5" y="715.7" font-size="21">Orientation</text>
<text x="369.3" y="744" font-size="21">Minor axis dist.</text>
<text x="552.8" y="749" font-size="21">Displacement</text>
<text x="369.3" y="781.5" font-size="21">Min speed</text>
<text x="506" y="794" font-size="21">Path length</text>
<text x="350.3" y="829.5" font-size="21">Major axis dist.</text>
<text x="501.2" y="918.2" font-size="21">Average speed</text>
<text x="556.8" y="982.7" font-size="21">Max speed</text>
<text x="266.8" y="1002.7" font-size="21">Distance to edge</text>
<text x="539.8" y="1037.7" font-size="21">Speed S.D.</text>
<text x="441.6" y="1067" font-size="21">Persistence</text>
<text x="314.8" y="1106.5" font-size="21">Curvature</text>
<line x1="221.75" y1="853.25" x2="255" y2="853.25" stroke="#0b8313" stroke-width="3"/><line x1="239.5" y1="826.25" x2="239.5" y2="878.75" stroke="#0b8313" stroke-width="3"/><circle cx="239.5" cy="853.25" r="4.6" fill="#0b8313"/>
<text x="146.5" y="812.7" font-size="29" fill="#0b8313">In vitro 3D</text>
<line x1="399.5" y1="883.75" x2="418" y2="883.75" stroke="#fb0d1b" stroke-width="3"/><line x1="408.75" y1="872.5" x2="408.75" y2="895" stroke="#fb0d1b" stroke-width="3"/><circle cx="408.75" cy="883.75" r="4.3" fill="#fb0d1b"/>
<text x="289" y="929.7" font-size="29" fill="#f5210f">In vitro 2D</text>
<line x1="604.25" y1="833" x2="639.5" y2="833" stroke="#0d0dff" stroke-width="3"/><line x1="622.5" y1="807" x2="622.5" y2="858.75" stroke="#0d0dff" stroke-width="3"/><circle cx="622.5" cy="833" r="4.6" fill="#0d0dff"/>
<text x="631.5" y="821.5" font-size="29" fill="#1379c0">In vivo</text>
</g>
<g id="panel-c">
<text x="857" y="557" font-size="41.4" font-weight="bold">c</text>
<path d="M990.5 633.4C990.08 636.17 988.58 643.9 988 650C987.42 656.1 986.75 661.67 987 670C987.25 678.33 988.04 687.5 989.5 700C990.96 712.5 993.67 725 995.75 745C997.83 765 1000.25 797.5 1002 820C1003.75 842.5 1005.04 852.5 1006.25 880C1007.46 907.5 1008.52 955 1009.25 985C1009.98 1015 1010.27 1039.12 1010.6 1060C1010.93 1080.88 1011.14 1101.92 1011.25 1110.3L1022.5 1110.3C1022.65 1101.92 1022.98 1080.88 1023.4 1060C1023.82 1039.12 1024.23 1015 1025 985C1025.77 955 1026.75 907.5 1028 880C1029.25 852.5 1030.62 842.5 1032.5 820C1034.38 797.5 1037.08 765 1039.25 745C1041.42 725 1044.04 712.5 1045.5 700C1046.96 687.5 1047.75 678.33 1048 670C1048.25 661.67 1047.71 656.1 1047 650C1046.29 643.9 1044.29 636.17 1043.75 633.4Z" fill="#ffc1c1" stroke="#ee2a1a" stroke-width="1.3" stroke-linejoin="round"/>
<path d="M1082.5 633.4C1082 634.83 1080.12 638.4 1079.5 642C1078.88 645.6 1078.53 650 1078.75 655C1078.97 660 1079.63 665.33 1080.8 672C1081.97 678.67 1083.88 687 1085.75 695C1087.62 703 1090.04 711.67 1092 720C1093.96 728.33 1095.75 732.5 1097.5 745C1099.25 757.5 1101.25 778.33 1102.5 795C1103.75 811.67 1104.5 830.83 1105 845C1105.5 859.17 1105.23 856.67 1105.5 880C1105.77 903.33 1106.27 946.62 1106.6 985C1106.93 1023.38 1107.35 1089.42 1107.5 1110.3L1111.25 1110.3C1111.41 1089.42 1111.91 1023.38 1112.2 985C1112.49 946.62 1112.74 903.33 1113 880C1113.26 856.67 1113.21 859.17 1113.75 845C1114.29 830.83 1115 811.67 1116.25 795C1117.5 778.33 1119.46 757.5 1121.25 745C1123.04 732.5 1124.92 728.33 1127 720C1129.08 711.67 1131.92 703 1133.75 695C1135.58 687 1136.96 678.67 1138 672C1139.04 665.33 1139.75 660 1140 655C1140.25 650 1139.92 645.6 1139.5 642C1139.08 638.4 1137.83 634.83 1137.5 633.4Z" fill="#c0e2c0" stroke="#0f7d12" stroke-width="1.3" stroke-linejoin="round"/>
<path d="M1174.5 633.4C1174.05 634.83 1172.34 638.82 1171.8 642C1171.26 645.18 1170.8 647.83 1171.25 652.5C1171.7 657.17 1172.83 662.92 1174.5 670C1176.17 677.08 1179.33 686.67 1181.25 695C1183.17 703.33 1184.54 711.67 1186 720C1187.46 728.33 1188.58 732.5 1190 745C1191.42 757.5 1193.25 778.33 1194.5 795C1195.75 811.67 1196.79 830.83 1197.5 845C1198.21 859.17 1198.33 856.67 1198.75 880C1199.17 903.33 1199.62 946.62 1200 985C1200.38 1023.38 1200.83 1089.42 1201 1110.3L1203 1110.3C1203.12 1089.42 1203.42 1023.38 1203.75 985C1204.08 946.62 1204.5 903.33 1205 880C1205.5 856.67 1206 859.17 1206.75 845C1207.5 830.83 1208.33 811.67 1209.5 795C1210.67 778.33 1212.33 757.5 1213.75 745C1215.17 732.5 1216.54 728.33 1218 720C1219.46 711.67 1220.67 703.33 1222.5 695C1224.33 686.67 1227.42 677.08 1229 670C1230.58 662.92 1231.58 657.17 1232 652.5C1232.42 647.83 1231.92 645.18 1231.5 642C1231.08 638.82 1229.83 634.83 1229.5 633.4Z" fill="#c1c1fd" stroke="#1a3cf0" stroke-width="1.3" stroke-linejoin="round"/>
<line x1="955.5" y1="628.6" x2="955.5" y2="1108.2" stroke="#000" stroke-width="1.4"/>
<line x1="950" y1="1107.5" x2="1263.75" y2="1107.5" stroke="#000" stroke-width="1.4"/>
<line x1="950" y1="629.25" x2="955.5" y2="629.25" stroke="#000" stroke-width="1.4"/>
<line x1="950" y1="748.75" x2="955.5" y2="748.75" stroke="#000" stroke-width="1.4"/>
<line x1="950" y1="868.25" x2="955.5" y2="868.25" stroke="#000" stroke-width="1.4"/>
<line x1="950" y1="988.25" x2="955.5" y2="988.25" stroke="#000" stroke-width="1.4"/>
<line x1="950" y1="1107.5" x2="955.5" y2="1107.5" stroke="#000" stroke-width="1.4"/>
<line x1="1017" y1="1107.5" x2="1017" y2="1118.75" stroke="#000" stroke-width="1.4"/>
<line x1="1109.25" y1="1107.5" x2="1109.25" y2="1118.75" stroke="#000" stroke-width="1.4"/>
<line x1="1201.75" y1="1107.5" x2="1201.75" y2="1118.75" stroke="#000" stroke-width="1.4"/>
<text x="939.5" y="637.7" font-size="29" text-anchor="end">1.0</text>
<text x="939.5" y="757.2" font-size="29" text-anchor="end">0.9</text>
<text x="939.5" y="876.7" font-size="29" text-anchor="end">0.8</text>
<text x="939.5" y="996.7" font-size="29" text-anchor="end">0.7</text>
<text x="939.5" y="1116" font-size="29" text-anchor="end">0.6</text>
<text transform="translate(879.5 868.4) rotate(-90)" font-size="29" text-anchor="middle">MT orientation</text>
<g fill="#ee220c"><circle cx="1017" cy="752" r="3.8"/><circle cx="1017" cy="773.75" r="3.8"/><circle cx="1017" cy="811.75" r="3.8"/><circle cx="1017" cy="818.75" r="3.8"/><circle cx="1017" cy="823.75" r="3.8"/><circle cx="1017" cy="830" r="3.8"/><circle cx="1017" cy="845" r="3.8"/><circle cx="1017" cy="852" r="3.8"/><circle cx="1017" cy="877" r="3.8"/><circle cx="1017" cy="885" r="3.8"/><circle cx="1017" cy="891.25" r="3.8"/><circle cx="1017" cy="902" r="3.8"/><circle cx="1017" cy="908.75" r="3.8"/><circle cx="1017" cy="918.75" r="3.8"/><circle cx="1017" cy="923.75" r="3.8"/><circle cx="1017" cy="927.5" r="3.8"/><circle cx="1017" cy="933.75" r="3.8"/><circle cx="1017" cy="940" r="3.8"/><circle cx="1017" cy="945" r="3.8"/><circle cx="1017" cy="954.5" r="3.8"/><circle cx="1017" cy="962" r="3.8"/><circle cx="1017" cy="974.25" r="3.8"/><circle cx="1017" cy="987.5" r="3.8"/><circle cx="1017" cy="991.25" r="3.8"/><circle cx="1017" cy="995.75" r="3.8"/><circle cx="1017" cy="1030" r="3.8"/><circle cx="1017" cy="1037" r="3.8"/><circle cx="1017" cy="1053.25" r="3.8"/><circle cx="1017" cy="1058.25" r="3.8"/><circle cx="1017" cy="1101.75" r="3.8"/></g>
<g fill="#0a7a0e"><circle cx="1109.25" cy="699" r="3.8"/><circle cx="1109.25" cy="713" r="3.8"/><circle cx="1109.25" cy="739.25" r="3.8"/><circle cx="1109.25" cy="747" r="3.8"/><circle cx="1109.25" cy="768" r="3.8"/><circle cx="1109.25" cy="789" r="3.8"/><circle cx="1109.25" cy="823" r="3.8"/><circle cx="1109.25" cy="828.75" r="3.8"/><circle cx="1109.25" cy="857.5" r="3.8"/><circle cx="1109.25" cy="882.5" r="3.8"/><circle cx="1109.25" cy="923.75" r="3.8"/><circle cx="1109.25" cy="1023" r="3.8"/></g>
<g fill="#0a32ee"><circle cx="1201.75" cy="637" r="3.8"/><circle cx="1201.75" cy="667.5" r="3.8"/><circle cx="1201.75" cy="671.25" r="3.8"/><circle cx="1201.75" cy="678.75" r="3.8"/><circle cx="1201.75" cy="686.25" r="3.8"/><circle cx="1201.75" cy="705" r="3.8"/><circle cx="1201.75" cy="708.75" r="3.8"/><circle cx="1201.75" cy="717.5" r="3.8"/><circle cx="1201.75" cy="726.25" r="3.8"/><circle cx="1201.75" cy="731.25" r="3.8"/><circle cx="1201.75" cy="735" r="3.8"/><circle cx="1201.75" cy="741.25" r="3.8"/><circle cx="1201.75" cy="757.5" r="3.8"/><circle cx="1201.75" cy="770" r="3.8"/><circle cx="1201.75" cy="773.75" r="3.8"/><circle cx="1201.75" cy="778.75" r="3.8"/><circle cx="1201.75" cy="783.75" r="3.8"/><circle cx="1201.75" cy="797.5" r="3.8"/><circle cx="1201.75" cy="807.5" r="3.8"/><circle cx="1201.75" cy="811.25" r="3.8"/><circle cx="1201.75" cy="821.25" r="3.8"/><circle cx="1201.75" cy="826.25" r="3.8"/><circle cx="1201.75" cy="837" r="3.8"/><circle cx="1201.75" cy="852.5" r="3.8"/><circle cx="1201.75" cy="870.8" r="3.8"/><circle cx="1201.75" cy="900" r="3.8"/><circle cx="1201.75" cy="911.25" r="3.8"/><circle cx="1201.75" cy="926.25" r="3.8"/><circle cx="1201.75" cy="966.25" r="3.8"/><circle cx="1201.75" cy="973.25" r="3.8"/><circle cx="1201.75" cy="1031.75" r="3.8"/></g>
<line x1="1001.75" y1="915.5" x2="1032" y2="915.5" stroke="#000" stroke-width="1.6"/>
<line x1="1094.25" y1="816.25" x2="1124.5" y2="816.25" stroke="#000" stroke-width="1.6"/>
<line x1="1186.25" y1="790.5" x2="1216.75" y2="790.5" stroke="#000" stroke-width="1.6"/>
<line x1="1040.75" y1="571.3" x2="1211.75" y2="571.3" stroke="#000" stroke-width="3.4"/>
<line x1="1040.5" y1="616.8" x2="1103.25" y2="616.8" stroke="#000" stroke-width="3.4"/>
<line x1="1148.25" y1="616.8" x2="1211.75" y2="616.8" stroke="#000" stroke-width="3.4"/>
<text x="1080.3" y="564" font-size="24"><tspan font-style="italic">P</tspan> = 0.001</text>
<text x="1017.3" y="609" font-size="24"><tspan font-style="italic">P</tspan> = 0.001</text>
<text x="1161.5" y="609" font-size="24.9">n.s.</text>
<path d="M1471.1 765.5C1470.85 766.58 1470.45 769.58 1469.6 772C1468.75 774.42 1466.89 777.21 1466 780C1465.11 782.79 1464.33 785.75 1464.25 788.75C1464.17 791.75 1464.96 794.88 1465.5 798C1466.04 801.12 1467.83 804.17 1467.5 807.5C1467.17 810.83 1465.38 813.83 1463.5 818C1461.62 822.17 1458.5 828 1456.25 832.5C1454 837 1451.96 841.25 1450 845C1448.04 848.75 1445.88 851.88 1444.5 855C1443.12 858.12 1441.88 860.83 1441.75 863.75C1441.62 866.67 1442.46 869.96 1443.75 872.5C1445.04 875.04 1447.62 876.92 1449.5 879C1451.38 881.08 1453.25 881.92 1455 885C1456.75 888.08 1458.33 893.33 1460 897.5C1461.67 901.67 1463.67 905.83 1465 910C1466.33 914.17 1467.25 916.25 1468 922.5C1468.75 928.75 1468.98 938.67 1469.5 947.5C1470.02 956.33 1470.83 970.83 1471.1 975.5L1471.4 975.5C1471.67 970.83 1472.53 956.33 1473 947.5C1473.47 938.67 1473.58 928.75 1474.25 922.5C1474.92 916.25 1475.62 914.17 1477 910C1478.38 905.83 1480.75 901.67 1482.5 897.5C1484.25 893.33 1485.67 888.08 1487.5 885C1489.33 881.92 1491.42 881.08 1493.5 879C1495.58 876.92 1498.79 875.04 1500 872.5C1501.21 869.96 1501.17 866.67 1500.75 863.75C1500.33 860.83 1498.96 858.12 1497.5 855C1496.04 851.88 1493.88 848.75 1492 845C1490.12 841.25 1488.33 837 1486.25 832.5C1484.17 828 1481.29 822.17 1479.5 818C1477.71 813.83 1475.83 810.83 1475.5 807.5C1475.17 804.17 1476.96 801.12 1477.5 798C1478.04 794.88 1478.83 791.75 1478.75 788.75C1478.67 785.75 1477.97 782.79 1477 780C1476.03 777.21 1473.83 774.42 1472.9 772C1471.97 769.58 1471.65 766.58 1471.4 765.5Z" fill="#ffc1c1" stroke="#ee2a1a" stroke-width="1.3" stroke-linejoin="round"/>
<path d="M1558 789.5C1558 790.75 1558.5 794.75 1558 797C1557.5 799.25 1557.5 800.67 1555 803C1552.5 805.33 1546.75 808.17 1543 811C1539.25 813.83 1534.33 817.5 1532.5 820C1530.67 822.5 1531.79 823.92 1532 826C1532.21 828.08 1533.04 829.33 1533.75 832.5C1534.46 835.67 1536.29 841.75 1536.25 845C1536.21 848.25 1534.12 849.92 1533.5 852C1532.88 854.08 1532.5 855.33 1532.5 857.5C1532.5 859.67 1533.08 862.5 1533.5 865C1533.92 867.5 1534.72 870.17 1535 872.5C1535.28 874.83 1534.99 876.92 1535.2 879C1535.41 881.08 1535.53 883 1536.25 885C1536.97 887 1538.46 888.92 1539.5 891C1540.54 893.08 1541.88 895.33 1542.5 897.5C1543.12 899.67 1542.87 901.92 1543.2 904C1543.53 906.08 1543.95 908 1544.5 910C1545.05 912 1545.58 913.92 1546.5 916C1547.42 918.08 1548.58 920.33 1550 922.5C1551.42 924.67 1553.54 926.92 1555 929C1556.46 931.08 1558 932.67 1558.75 935C1559.5 937.33 1559.38 940.17 1559.5 943C1559.62 945.83 1559.5 950.5 1559.5 952L1563.25 952C1563.26 950.5 1563.13 945.83 1563.3 943C1563.47 940.17 1563.55 937.33 1564.25 935C1564.95 932.67 1566.12 931.08 1567.5 929C1568.88 926.92 1571 924.67 1572.5 922.5C1574 920.33 1575.46 918.08 1576.5 916C1577.54 913.92 1578.23 912 1578.75 910C1579.27 908 1579.39 906.08 1579.6 904C1579.81 901.92 1579.27 899.67 1580 897.5C1580.73 895.33 1582.75 893.08 1584 891C1585.25 888.92 1586.83 887 1587.5 885C1588.17 883 1588 881.08 1588 879C1588 876.92 1587.33 874.83 1587.5 872.5C1587.67 870.17 1588.58 867.5 1589 865C1589.42 862.5 1589.92 859.67 1590 857.5C1590.08 855.33 1589.92 854.08 1589.5 852C1589.08 849.92 1587.62 848.25 1587.5 845C1587.38 841.75 1588.25 835.67 1588.75 832.5C1589.25 829.33 1590.29 828.08 1590.5 826C1590.71 823.92 1591.75 822.5 1590 820C1588.25 817.5 1583.67 813.83 1580 811C1576.33 808.17 1570.5 805.33 1568 803C1565.5 800.67 1565.5 799.25 1565 797C1564.5 794.75 1565 790.75 1565 789.5Z" fill="#c0e2c0" stroke="#0f7d12" stroke-width="1.3" stroke-linejoin="round"/>
<path d="M1646.25 679.25C1646.34 681.04 1646.46 686.54 1646.8 690C1647.14 693.46 1647.85 696.67 1648.3 700C1648.75 703.33 1649.38 706.67 1649.5 710C1649.62 713.33 1649.33 716.25 1649 720C1648.67 723.75 1648.58 726.25 1647.5 732.5C1646.42 738.75 1644.38 749.17 1642.5 757.5C1640.62 765.83 1638.96 774.17 1636.25 782.5C1633.54 790.83 1628.49 801.75 1626.25 807.5C1624.01 813.25 1623.55 814.29 1622.8 817C1622.05 819.71 1621.67 821.25 1621.75 823.75C1621.83 826.25 1622.34 828.46 1623.3 832C1624.26 835.54 1626.05 838.67 1627.5 845C1628.95 851.33 1630.96 863.33 1632 870C1633.04 876.67 1633.65 880.5 1633.75 885C1633.85 889.5 1632.72 892.83 1632.6 897C1632.47 901.17 1632.52 905.83 1633 910C1633.48 914.17 1634.54 917.83 1635.5 922C1636.46 926.17 1637.17 928.67 1638.75 935C1640.33 941.33 1643.33 951.67 1645 960C1646.67 968.33 1647.88 976.67 1648.75 985C1649.62 993.33 1649.89 1000.83 1650.25 1010C1650.61 1019.17 1650.74 1030.42 1650.9 1040C1651.06 1049.58 1651.15 1062.92 1651.2 1067.5L1651.5 1067.5C1651.55 1062.92 1651.63 1049.58 1651.8 1040C1651.97 1030.42 1652.17 1019.17 1652.5 1010C1652.83 1000.83 1652.92 993.33 1653.75 985C1654.58 976.67 1655.83 968.33 1657.5 960C1659.17 951.67 1662.17 941.33 1663.75 935C1665.33 928.67 1665.96 926.17 1667 922C1668.04 917.83 1669.4 914.17 1670 910C1670.6 905.83 1670.6 901.17 1670.6 897C1670.6 892.83 1669.89 889.5 1670 885C1670.11 880.5 1670.21 876.67 1671.25 870C1672.29 863.33 1674.74 851.33 1676.25 845C1677.76 838.67 1679.38 835.54 1680.3 832C1681.22 828.46 1681.7 826.25 1681.75 823.75C1681.8 821.25 1681.39 819.71 1680.6 817C1679.81 814.29 1679.39 813.25 1677 807.5C1674.61 801.75 1669.08 790.83 1666.25 782.5C1663.42 774.17 1661.88 765.83 1660 757.5C1658.12 749.17 1656.03 738.75 1655 732.5C1653.97 726.25 1654.09 723.75 1653.8 720C1653.51 716.25 1653.13 713.33 1653.25 710C1653.37 706.67 1654.01 703.33 1654.5 700C1654.99 696.67 1655.83 693.46 1656.2 690C1656.58 686.54 1656.66 681.04 1656.75 679.25Z" fill="#c1c1fd" stroke="#1a3cf0" stroke-width="1.3" stroke-linejoin="round"/>
<line x1="1411.25" y1="628" x2="1411.25" y2="1105.5" stroke="#000" stroke-width="2.6"/>
<line x1="1403" y1="1104.25" x2="1711.25" y2="1104.25" stroke="#000" stroke-width="2.6"/>
<line x1="1403" y1="629.25" x2="1411.25" y2="629.25" stroke="#000" stroke-width="2.6"/>
<line x1="1403" y1="748.25" x2="1411.25" y2="748.25" stroke="#000" stroke-width="2.6"/>
<line x1="1403" y1="867.5" x2="1411.25" y2="867.5" stroke="#000" stroke-width="2.6"/>
<line x1="1403" y1="985.75" x2="1411.25" y2="985.75" stroke="#000" stroke-width="2.6"/>
<line x1="1470.5" y1="1104.25" x2="1470.5" y2="1115.5" stroke="#000" stroke-width="2.6"/>
<line x1="1560.75" y1="1104.25" x2="1560.75" y2="1115.5" stroke="#000" stroke-width="2.6"/>
<line x1="1650.75" y1="1104.25" x2="1650.75" y2="1115.5" stroke="#000" stroke-width="2.6"/>
<text x="1391" y="637.7" font-size="29" text-anchor="end">1.0</text>
<text x="1391" y="757" font-size="29" text-anchor="end">0.5</text>
<text x="1391" y="875.7" font-size="29" text-anchor="end">0.0</text>
<text x="1391" y="995.2" font-size="29" text-anchor="end">–0.5</text>
<text transform="translate(1313.75 866.6) rotate(-90)" font-size="29" text-anchor="middle">Cellular MT coherence</text>
<g fill="#ee220c"><circle cx="1471" cy="824.25" r="3.8"/><circle cx="1471" cy="837.5" r="3.8"/><circle cx="1471" cy="842.5" r="3.8"/><circle cx="1471" cy="847.5" r="3.8"/><circle cx="1471" cy="852" r="3.8"/><circle cx="1471" cy="856.25" r="3.8"/><circle cx="1471" cy="861.25" r="3.8"/><circle cx="1471" cy="866.25" r="3.8"/><circle cx="1471" cy="870" r="3.8"/></g>
<g fill="#0a7a0e"><circle cx="1561" cy="843" r="3.8"/><circle cx="1561" cy="857.5" r="3.8"/><circle cx="1561" cy="862" r="3.8"/><circle cx="1561" cy="866" r="3.8"/><circle cx="1561" cy="870" r="3.8"/></g>
<g fill="#0a32ee"><circle cx="1651" cy="718.25" r="3.8"/><circle cx="1651" cy="754.25" r="3.8"/><circle cx="1651" cy="808.75" r="3.8"/><circle cx="1651" cy="812.5" r="3.8"/><circle cx="1651" cy="818.75" r="3.8"/><circle cx="1651" cy="826.25" r="3.8"/><circle cx="1651" cy="837.5" r="3.8"/><circle cx="1651" cy="842" r="3.8"/><circle cx="1651" cy="846" r="3.8"/><circle cx="1651" cy="850" r="3.8"/><circle cx="1651" cy="854" r="3.8"/><circle cx="1651" cy="858" r="3.8"/><circle cx="1651" cy="862" r="3.8"/><circle cx="1651" cy="866" r="3.8"/><circle cx="1651" cy="870" r="3.8"/><circle cx="1651" cy="875" r="3.8"/><circle cx="1651" cy="883.75" r="3.8"/></g>
<line x1="1455.5" y1="859.5" x2="1485.5" y2="859.5" stroke="#000" stroke-width="2.3"/>
<line x1="1545.75" y1="861.75" x2="1575.75" y2="861.75" stroke="#000" stroke-width="2.3"/>
<line x1="1636.25" y1="841" x2="1666.25" y2="841" stroke="#000" stroke-width="2.3"/>
<line x1="1498.75" y1="585.8" x2="1669.25" y2="585.8" stroke="#000" stroke-width="3.4"/>
<line x1="1475.5" y1="633" x2="1538.75" y2="633" stroke="#000" stroke-width="3.4"/>
<line x1="1576.25" y1="633" x2="1640" y2="633" stroke="#000" stroke-width="3.4"/>
<text x="1531.5" y="577.2" font-size="24"><tspan font-style="italic">P</tspan> = 0.007</text>
<text x="1487" y="623.5" font-size="24.9">n.s.</text>
<text x="1555.3" y="623.5" font-size="24"><tspan font-style="italic">P</tspan> = 0.015</text>
<rect x="916.25" y="1142" width="801.25" height="68.75" fill="#fff" stroke="#000" stroke-width="2.6"/>
<rect x="930.5" y="1154.6" width="53.3" height="43" fill="#ffc1c1" stroke="#ee2a1a" stroke-width="4.8"/>
<text x="997.8" y="1187.2" font-size="29">In vitro 2D</text>
<rect x="1223.5" y="1154" width="53.3" height="43" fill="#c0e2c0" stroke="#0b700d" stroke-width="4.8"/>
<text x="1290.3" y="1187.2" font-size="29">In vitro 3D</text>
<rect x="1517.4" y="1152.6" width="53.3" height="47" fill="#c1c1fd" stroke="#1a3cf0" stroke-width="4.8"/>
<text x="1583.5" y="1187.2" font-size="29">In vivo</text>
</g>
<g id="panel-d">
<text x="0" y="1300" font-size="41.4" font-weight="bold">d</text>
<line x1="136.2" y1="1503" x2="794" y2="1503" stroke="#d2d2d2" stroke-width="5" stroke-dasharray="4.7 4.7"/>
<line x1="429.2" y1="1288.8" x2="429.2" y2="1792" stroke="#d2d2d2" stroke-width="5" stroke-dasharray="4.7 4.7"/>
<rect x="132.5" y="1286.4" width="661.75" height="507" fill="none" stroke="#000" stroke-width="1.3"/>
<line x1="127.5" y1="1301.25" x2="132" y2="1301.25" stroke="#555" stroke-width="1.2"/>
<line x1="127.5" y1="1403.75" x2="132" y2="1403.75" stroke="#555" stroke-width="1.2"/>
<line x1="127.5" y1="1505" x2="132" y2="1505" stroke="#555" stroke-width="1.2"/>
<line x1="127.5" y1="1606.5" x2="132" y2="1606.5" stroke="#555" stroke-width="1.2"/>
<line x1="127.5" y1="1706" x2="132" y2="1706" stroke="#555" stroke-width="1.2"/>
<line x1="169.25" y1="1793.5" x2="169.25" y2="1798.5" stroke="#555" stroke-width="1.2"/>
<line x1="255.5" y1="1793.5" x2="255.5" y2="1798.5" stroke="#555" stroke-width="1.2"/>
<line x1="342" y1="1793.5" x2="342" y2="1798.5" stroke="#555" stroke-width="1.2"/>
<line x1="428" y1="1793.5" x2="428" y2="1798.5" stroke="#555" stroke-width="1.2"/>
<line x1="512.5" y1="1793.5" x2="512.5" y2="1798.5" stroke="#555" stroke-width="1.2"/>
<line x1="598.75" y1="1793.5" x2="598.75" y2="1798.5" stroke="#555" stroke-width="1.2"/>
<line x1="685" y1="1793.5" x2="685" y2="1798.5" stroke="#555" stroke-width="1.2"/>
<line x1="771.75" y1="1793.5" x2="771.75" y2="1798.5" stroke="#555" stroke-width="1.2"/>
<text x="116" y="1310.9" font-size="29" text-anchor="end">1</text>
<text x="116" y="1715.4" font-size="29" text-anchor="end">–1</text>
<text x="169.5" y="1831.2" font-size="29" text-anchor="middle">–1.5</text>
<text x="771.5" y="1831.2" font-size="29" text-anchor="middle">2</text>
<text x="464" y="1873" font-size="29" text-anchor="middle">PC 1 (45% variance explained)</text>
<text transform="translate(61.3 1539) rotate(-90)" font-size="29" text-anchor="middle">PC 2 (27% variance explained)</text>
<rect x="400.7" y="1356.95" width="12.6" height="12.6" fill="#000" rx="1.2"/>
<rect x="441.7" y="1358.7" width="12.6" height="12.6" fill="#000" rx="1.2"/>
<rect x="327.95" y="1482.45" width="12.6" height="12.6" fill="#000" rx="1.2"/>
<rect x="340.7" y="1504.95" width="12.6" height="12.6" fill="#000" rx="1.2"/>
<rect x="336.2" y="1509.95" width="12.6" height="12.6" fill="#000" rx="1.2"/>
<rect x="377.45" y="1528.2" width="12.6" height="12.6" fill="#000" rx="1.2"/>
<rect x="488.7" y="1524.95" width="12.6" height="12.6" fill="#000" rx="1.2"/>
<text x="368" y="1389.5" font-size="21">Area</text>
<text x="454" y="1349.7" font-size="21">Perimeter</text>
<text x="284.8" y="1472.7" font-size="21">Circularity</text>
<text x="355.3" y="1500.2" font-size="21">Extent</text>
<text x="267.3" y="1538.5" font-size="21">Solidity</text>
<text x="333.5" y="1564.5" font-size="21">Convexity</text>
<text x="491" y="1556.5" font-size="21">Eccentricity</text>
<line x1="162" y1="1340" x2="234.5" y2="1340" stroke="#fb0d1b" stroke-width="3.2"/><line x1="199.25" y1="1307.5" x2="199.25" y2="1371.75" stroke="#fb0d1b" stroke-width="3.2"/><circle cx="199.25" cy="1340" r="5.6" fill="#fb0d1b"/>
<text x="215.3" y="1328.2" font-size="29" fill="#f5210f">In vitro 2D</text>
<line x1="665" y1="1408" x2="763" y2="1408" stroke="#0b8313" stroke-width="3.2"/><line x1="713.75" y1="1368.75" x2="713.75" y2="1447.5" stroke="#0b8313" stroke-width="3.2"/><circle cx="713.75" cy="1408" r="5.6" fill="#0b8313"/>
<text x="567.3" y="1393.2" font-size="29" fill="#0b8313">in vitro 3D</text>
<line x1="431.25" y1="1730.25" x2="505" y2="1730.25" stroke="#0d0dff" stroke-width="3.2"/><line x1="468.75" y1="1690.25" x2="468.75" y2="1768.5" stroke="#0d0dff" stroke-width="3.2"/><circle cx="468.75" cy="1730.25" r="5.6" fill="#0d0dff"/>
<text x="478.5" y="1707.2" font-size="29" fill="#1379c0">In vivo</text>
</g>
<g id="panel-e">
<text x="857" y="1299.5" font-size="41.4" font-weight="bold">e</text>
<path d="M906.28 1449.81C906.12 1447.17 906.12 1443.02 907.24 1440.23C908.36 1437.44 910.27 1435.44 912.99 1433.05C915.7 1430.65 919.69 1427.94 923.52 1425.86C927.36 1423.79 932.62 1421.63 935.98 1420.59C939.33 1419.56 940.77 1419.56 943.64 1419.64C946.51 1419.72 950.66 1420.11 953.22 1421.07C955.77 1422.03 957.61 1423.79 958.97 1425.38C960.32 1426.98 960.56 1428.98 961.36 1430.65C962.16 1432.33 962.72 1433.84 963.75 1435.44C964.79 1437.04 966.47 1438.63 967.59 1440.23C968.7 1441.83 969.9 1443.58 970.46 1445.02C971.02 1446.46 971.58 1447.25 970.94 1448.85C970.3 1450.45 968.46 1452.68 966.63 1454.6C964.79 1456.51 962.48 1458.75 959.92 1460.34C957.37 1461.94 954.02 1462.74 951.3 1464.18C948.59 1465.61 946.03 1467.85 943.64 1468.97C941.25 1470.08 939.17 1470.96 936.93 1470.88C934.7 1470.8 932.78 1469.68 930.23 1468.49C927.68 1467.29 924.48 1465.05 921.61 1463.7C918.74 1462.34 915.22 1461.62 912.99 1460.34C910.75 1459.07 909.32 1457.79 908.2 1456.03C907.08 1454.28 906.44 1452.44 906.28 1449.81Z" fill="#000"/>
<path d="M914.9 1480.94C915.94 1479.82 918.9 1479.74 921.61 1479.5C924.32 1479.26 928.15 1479.18 931.19 1479.5C934.22 1479.82 937.25 1480.3 939.81 1481.42C942.36 1482.54 944.28 1484.29 946.51 1486.21C948.75 1488.12 951.14 1490.36 953.22 1492.91C955.29 1495.47 957.21 1498.82 958.97 1501.53C960.72 1504.25 962.32 1506.64 963.75 1509.2C965.19 1511.75 966.71 1514.46 967.59 1516.86C968.46 1519.25 969.02 1521.17 969.02 1523.56C969.02 1525.96 968.46 1528.83 967.59 1531.23C966.71 1533.62 965.35 1535.7 963.75 1537.93C962.16 1540.17 960.08 1542.96 958.01 1544.64C955.93 1546.31 953.38 1547.67 951.3 1547.99C949.23 1548.31 947.63 1547.59 945.56 1546.55C943.48 1545.51 941.09 1543.68 938.85 1541.76C936.62 1539.85 934.22 1537.13 932.15 1535.06C930.07 1532.98 927.6 1531.23 926.4 1529.31C925.2 1527.39 925.04 1525.48 924.96 1523.56C924.88 1521.65 926.16 1520.21 925.92 1517.82C925.68 1515.42 924.16 1512.23 923.52 1509.2C922.89 1506.16 922.89 1502.33 922.09 1499.62C921.29 1496.9 919.85 1495.15 918.74 1492.91C917.62 1490.68 916.02 1488.2 915.38 1486.21C914.74 1484.21 913.87 1482.06 914.9 1480.94Z" fill="#000"/>
<path d="M919.32 1625.61C919.49 1623.25 920.5 1620.22 921.34 1617.52C922.19 1614.83 923.37 1612.3 924.38 1609.43C925.39 1606.57 926.65 1603.03 927.41 1600.33C928.17 1597.64 927.92 1595.11 928.93 1593.26C929.94 1591.4 931.54 1589.8 933.48 1589.21C935.42 1588.62 938.2 1589.3 940.56 1589.72C942.92 1590.14 945.27 1591.65 947.63 1591.74C949.99 1591.82 952.52 1591.15 954.71 1590.22C956.9 1589.3 958.76 1588.03 960.78 1586.18C962.8 1584.32 964.82 1580.95 966.85 1579.1C968.87 1577.25 971.23 1575.22 972.91 1575.06C974.6 1574.89 976.45 1576.91 976.96 1578.09C977.46 1579.27 976.96 1580.45 975.95 1582.13C974.93 1583.82 972.74 1586.35 970.89 1588.2C969.04 1590.05 966.34 1591.74 964.82 1593.26C963.31 1594.77 962.55 1595.62 961.79 1597.3C961.03 1598.99 960.78 1601.34 960.27 1603.37C959.77 1605.39 959.68 1607.24 958.76 1609.43C957.83 1611.62 956.23 1613.98 954.71 1616.51C953.2 1619.04 951.26 1622.24 949.66 1624.6C948.06 1626.96 946.29 1628.65 945.11 1630.67C943.93 1632.69 943.84 1634.37 942.58 1636.73C941.31 1639.09 938.7 1642.46 937.52 1644.82C936.34 1647.18 936.68 1649.71 935.5 1650.89C934.32 1652.07 932.13 1651.65 930.44 1651.9C928.76 1652.15 926.65 1653.08 925.39 1652.41C924.13 1651.73 923.28 1650.3 922.86 1647.86C922.44 1645.41 923.28 1640.44 922.86 1637.75C922.44 1635.05 920.92 1633.7 920.33 1631.68C919.74 1629.66 919.15 1627.97 919.32 1625.61Z" fill="#000"/>
<path d="M920.33 1676.17C920.5 1674.82 920.84 1672.97 922.36 1672.12C923.87 1671.28 927.07 1671.79 929.43 1671.11C931.79 1670.44 934.32 1669.6 936.51 1668.08C938.7 1666.56 940.89 1663.7 942.58 1662.01C944.26 1660.33 945.11 1658.98 946.62 1657.97C948.14 1656.96 950.08 1655.78 951.68 1655.95C953.28 1656.11 955.72 1657.46 956.23 1658.98C956.73 1660.5 955.13 1662.85 954.71 1665.05C954.29 1667.24 954.37 1669.43 953.7 1672.12C953.03 1674.82 951.85 1678.02 950.67 1681.22C949.49 1684.43 947.8 1687.96 946.62 1691.33C945.44 1694.71 944.18 1698.08 943.59 1701.45C943 1704.82 942.83 1708.19 943.08 1711.56C943.34 1714.93 944.01 1718.3 945.11 1721.67C946.2 1725.04 948.22 1728.58 949.66 1731.78C951.09 1734.98 952.77 1738.18 953.7 1740.88C954.63 1743.58 955.22 1745.94 955.22 1747.96C955.22 1749.98 954.46 1752.17 953.7 1753.01C952.94 1753.86 952.18 1753.69 950.67 1753.01C949.15 1752.34 946.45 1750.82 944.6 1748.97C942.75 1747.11 941.06 1744.76 939.54 1741.89C938.03 1739.03 936.85 1735.49 935.5 1731.78C934.15 1728.07 932.38 1723.69 931.46 1719.65C930.53 1715.6 930.28 1711.39 929.94 1707.51C929.6 1703.64 930.19 1699.76 929.43 1696.39C928.68 1693.02 926.74 1689.99 925.39 1687.29C924.04 1684.59 922.19 1682.07 921.34 1680.21C920.5 1678.36 920.17 1677.52 920.33 1676.17Z" fill="#000"/>
<line x1="943.2" y1="1443.3" x2="1005" y2="1443.3" stroke="#9b1a62" stroke-width="4.7"/>
<circle cx="943.2" cy="1443.3" r="9.2" fill="#9b1a62"/>
<line x1="943.4" y1="1503.3" x2="1005" y2="1503.3" stroke="#9b1a62" stroke-width="4.7"/>
<circle cx="943.4" cy="1503.3" r="9.2" fill="#9b1a62"/>
<line x1="942.1" y1="1612.5" x2="1005" y2="1612.5" stroke="#9b1a62" stroke-width="4.7"/>
<circle cx="942.1" cy="1612.5" r="9.2" fill="#9b1a62"/>
<line x1="943.1" y1="1676" x2="1005" y2="1676" stroke="#9b1a62" stroke-width="4.7"/>
<circle cx="943.1" cy="1676" r="9.2" fill="#9b1a62"/>
<line x1="1005" y1="1399.8" x2="1005" y2="1823.2" stroke="#000" stroke-width="1.5"/>
<line x1="1005" y1="1822.5" x2="1240.5" y2="1822.5" stroke="#000" stroke-width="1.5"/>
<line x1="991.25" y1="1400.5" x2="1005" y2="1400.5" stroke="#000" stroke-width="1.5"/>
<line x1="991.25" y1="1505.75" x2="1005" y2="1505.75" stroke="#000" stroke-width="1.5"/>
<line x1="991.25" y1="1612.5" x2="1005" y2="1612.5" stroke="#000" stroke-width="1.5"/>
<line x1="991.25" y1="1717" x2="1005" y2="1717" stroke="#000" stroke-width="1.5"/>
<line x1="991.25" y1="1822.5" x2="1005" y2="1822.5" stroke="#000" stroke-width="1.5"/>
<line x1="1051.75" y1="1822.5" x2="1051.75" y2="1835" stroke="#000" stroke-width="1.5"/>
<line x1="1122.5" y1="1822.5" x2="1122.5" y2="1835" stroke="#000" stroke-width="1.5"/>
<line x1="1193.75" y1="1822.5" x2="1193.75" y2="1835" stroke="#000" stroke-width="1.5"/>
<text x="988.3" y="1409" font-size="24.9" text-anchor="end">2</text>
<text x="988.3" y="1514" font-size="24.9" text-anchor="end">0</text>
<text x="988.3" y="1620.3" font-size="24.9" text-anchor="end">–2</text>
<text x="988.3" y="1725.2" font-size="24.9" text-anchor="end">–4</text>
<text x="988.3" y="1830.7" font-size="24.9" text-anchor="end">–6</text>
<text transform="translate(881.25 1611) rotate(-90)" font-size="29" text-anchor="middle">Cell circularity (<tspan font-style="italic">z</tspan>-score)</text>
<line x1="1008.5" y1="1505.75" x2="1243" y2="1505.75" stroke="#000" stroke-width="3" stroke-dasharray="0.01 7.45" stroke-linecap="round"/>
<line x1="1051.75" y1="1425.5" x2="1051.75" y2="1457.5" stroke="#000" stroke-width="4.6"/><line x1="1051.75" y1="1537.5" x2="1051.75" y2="1618" stroke="#000" stroke-width="4.6"/><line x1="1040" y1="1425.5" x2="1063.5" y2="1425.5" stroke="#000" stroke-width="4.6" stroke-linecap="round"/><line x1="1040" y1="1618" x2="1063.5" y2="1618" stroke="#000" stroke-width="4.6" stroke-linecap="round"/><rect x="1028.55" y="1459.8" width="46.15" height="75.4" fill="none" stroke="#000" stroke-width="4.6"/><line x1="1028.55" y1="1507.5" x2="1074.7" y2="1507.5" stroke="#000" stroke-width="4.6"/>
<line x1="1122.5" y1="1492" x2="1122.5" y2="1582" stroke="#000" stroke-width="4.6"/><line x1="1122.5" y1="1649.5" x2="1122.5" y2="1691.75" stroke="#000" stroke-width="4.6"/><line x1="1110.75" y1="1492" x2="1135" y2="1492" stroke="#000" stroke-width="4.6" stroke-linecap="round"/><line x1="1110.75" y1="1691.75" x2="1135" y2="1691.75" stroke="#000" stroke-width="4.6" stroke-linecap="round"/><rect x="1099.3" y="1584.3" width="46.65" height="62.9" fill="none" stroke="#000" stroke-width="4.6"/><line x1="1099.3" y1="1635.75" x2="1145.95" y2="1635.75" stroke="#000" stroke-width="4.6"/>
<line x1="1193.75" y1="1461.25" x2="1193.75" y2="1534.25" stroke="#000" stroke-width="4.6"/><line x1="1193.75" y1="1627.5" x2="1193.75" y2="1717" stroke="#000" stroke-width="4.6"/><line x1="1181.5" y1="1461.25" x2="1206" y2="1461.25" stroke="#000" stroke-width="4.6" stroke-linecap="round"/><line x1="1181.5" y1="1717" x2="1206" y2="1717" stroke="#000" stroke-width="4.6" stroke-linecap="round"/><rect x="1169.8" y="1536.55" width="47.4" height="88.65" fill="none" stroke="#000" stroke-width="4.6"/><line x1="1169.8" y1="1590" x2="1217.2" y2="1590" stroke="#000" stroke-width="4.6"/>
<g fill="#ff5a3c" fill-opacity="0.58"><circle cx="1070" cy="1426.25" r="7"/><circle cx="1051.25" cy="1430" r="7"/><circle cx="1061.25" cy="1433.75" r="7"/><circle cx="1041.25" cy="1442.5" r="7"/><circle cx="1070" cy="1443.75" r="7"/><circle cx="1051.25" cy="1448.75" r="7"/><circle cx="1032.5" cy="1453.75" r="7"/><circle cx="1061.25" cy="1453.75" r="7"/><circle cx="1042.5" cy="1457.5" r="7"/><circle cx="1051.25" cy="1463.75" r="7"/><circle cx="1060" cy="1473.75" r="7"/><circle cx="1070" cy="1483.75" r="7"/><circle cx="1032.5" cy="1485" r="7"/><circle cx="1051.25" cy="1483.75" r="7"/><circle cx="1060" cy="1492.5" r="7"/><circle cx="1042.5" cy="1493.75" r="7"/><circle cx="1051.25" cy="1498.75" r="7"/><circle cx="1070" cy="1511.25" r="7"/><circle cx="1032.5" cy="1521.25" r="7"/><circle cx="1042.5" cy="1521.25" r="7"/><circle cx="1061.25" cy="1521.25" r="7"/><circle cx="1051.25" cy="1525" r="7"/><circle cx="1070" cy="1522.5" r="7"/><circle cx="1032.5" cy="1531.25" r="7"/><circle cx="1042.5" cy="1532.5" r="7"/><circle cx="1061.25" cy="1531.25" r="7"/><circle cx="1070" cy="1536.25" r="7"/><circle cx="1051.25" cy="1537.5" r="7"/><circle cx="1042.5" cy="1545" r="7"/><circle cx="1061.25" cy="1548.75" r="7"/><circle cx="1051.25" cy="1568.75" r="7"/><circle cx="1042.5" cy="1576.25" r="7"/></g>
<g fill="#ff5a3c" fill-opacity="0.58"><circle cx="1051.25" cy="1567.5" r="7"/><circle cx="1042" cy="1577" r="7"/><circle cx="1051.25" cy="1585" r="7"/><circle cx="1052" cy="1610" r="7"/><circle cx="1061.25" cy="1611.25" r="7"/><circle cx="1042" cy="1618.75" r="7"/></g>
<g fill="#2ba56b" fill-opacity="0.58"><circle cx="1118.75" cy="1492.5" r="7"/><circle cx="1127.5" cy="1492.5" r="7"/><circle cx="1118.75" cy="1543.75" r="7"/><circle cx="1127.5" cy="1543.75" r="7"/><circle cx="1122.5" cy="1573.75" r="7"/><circle cx="1117.5" cy="1576.25" r="7"/></g>
<g fill="#2ba56b" fill-opacity="0.58"><circle cx="1125.75" cy="1572" r="7"/><circle cx="1118.75" cy="1576.25" r="7"/><circle cx="1125.75" cy="1582.5" r="7"/><circle cx="1133.75" cy="1606.25" r="7"/><circle cx="1125.75" cy="1610" r="7"/><circle cx="1112.5" cy="1620" r="7"/><circle cx="1118.75" cy="1618.75" r="7"/><circle cx="1133.75" cy="1618.75" r="7"/><circle cx="1105" cy="1633.75" r="7"/><circle cx="1112.5" cy="1635" r="7"/><circle cx="1125.75" cy="1640" r="7"/><circle cx="1140" cy="1640" r="7"/><circle cx="1105" cy="1645" r="7"/><circle cx="1118.75" cy="1645" r="7"/><circle cx="1132.5" cy="1645" r="7"/><circle cx="1112.5" cy="1655" r="7"/><circle cx="1125.75" cy="1655" r="7"/><circle cx="1112.5" cy="1658.75" r="7"/><circle cx="1125.75" cy="1667.5" r="7"/><circle cx="1118.75" cy="1670" r="7"/><circle cx="1125.75" cy="1685" r="7"/><circle cx="1118.75" cy="1691.25" r="7"/></g>
<g fill="#3240b4" fill-opacity="0.58"><circle cx="1190" cy="1461.25" r="7"/><circle cx="1198.75" cy="1470" r="7"/><circle cx="1190" cy="1476.25" r="7"/><circle cx="1198.75" cy="1482.5" r="7"/><circle cx="1190" cy="1497.5" r="7"/><circle cx="1197.5" cy="1505" r="7"/><circle cx="1190" cy="1511.25" r="7"/><circle cx="1197.5" cy="1517.5" r="7"/><circle cx="1190" cy="1522.5" r="7"/><circle cx="1195" cy="1530" r="7"/><circle cx="1205" cy="1532.5" r="7"/><circle cx="1182.5" cy="1561.25" r="7"/><circle cx="1190" cy="1566.25" r="7"/><circle cx="1205" cy="1565" r="7"/><circle cx="1196.25" cy="1568.75" r="7"/><circle cx="1182.5" cy="1576.25" r="7"/><circle cx="1205" cy="1576.25" r="7"/></g>
<g fill="#3240b4" fill-opacity="0.58"><circle cx="1182.5" cy="1562.5" r="7"/><circle cx="1193.75" cy="1565" r="7"/><circle cx="1205" cy="1565" r="7"/><circle cx="1188.75" cy="1570" r="7"/><circle cx="1200" cy="1570" r="7"/><circle cx="1182.5" cy="1577.5" r="7"/><circle cx="1205" cy="1577.5" r="7"/><circle cx="1188.75" cy="1585" r="7"/><circle cx="1198.75" cy="1585" r="7"/><circle cx="1182.5" cy="1592.5" r="7"/><circle cx="1193.75" cy="1592.5" r="7"/><circle cx="1205" cy="1592.5" r="7"/><circle cx="1188.75" cy="1598.75" r="7"/><circle cx="1200" cy="1598.75" r="7"/><circle cx="1182.5" cy="1605" r="7"/><circle cx="1205" cy="1600" r="7"/><circle cx="1175" cy="1618.75" r="7"/><circle cx="1188.75" cy="1621.25" r="7"/><circle cx="1205" cy="1620" r="7"/><circle cx="1212.5" cy="1620" r="7"/><circle cx="1175" cy="1632.5" r="7"/><circle cx="1182.5" cy="1632.5" r="7"/><circle cx="1200" cy="1632.5" r="7"/><circle cx="1212.5" cy="1633.75" r="7"/><circle cx="1188.75" cy="1641.25" r="7"/><circle cx="1198.75" cy="1641.25" r="7"/><circle cx="1182.5" cy="1653.75" r="7"/><circle cx="1197.5" cy="1653.75" r="7"/><circle cx="1189.5" cy="1705" r="7"/><circle cx="1189.5" cy="1716.25" r="7"/></g>
<line x1="1052" y1="1343" x2="1195.5" y2="1343" stroke="#000" stroke-width="3.4"/>
<line x1="1051.25" y1="1383.75" x2="1114.5" y2="1383.75" stroke="#000" stroke-width="3.4"/>
<line x1="1125" y1="1422.5" x2="1188.25" y2="1422.5" stroke="#000" stroke-width="3.4"/>
<text x="1065.3" y="1332" font-size="24.7"><tspan font-style="italic">P</tspan> = 0.0003</text>
<text x="1024" y="1373.2" font-size="24.6"><tspan font-style="italic">P</tspan> = 0.0005</text>
<text x="1137.3" y="1414.5" font-size="24.9">n.s.</text>
<path d="M1368.82 1416.34C1368.99 1415.17 1369.74 1413.23 1371.34 1412.3C1372.95 1411.37 1376.06 1411.54 1378.42 1410.78C1380.78 1410.03 1383.31 1409.27 1385.5 1407.75C1387.69 1406.23 1389.88 1403.45 1391.57 1401.68C1393.25 1399.91 1394.1 1398.23 1395.61 1397.13C1397.13 1396.04 1399.07 1394.94 1400.67 1395.11C1402.27 1395.28 1404.71 1396.63 1405.22 1398.14C1405.72 1399.66 1404.04 1401.85 1403.7 1404.21C1403.36 1406.57 1403.7 1409.6 1403.2 1412.3C1402.69 1415 1401.68 1417.69 1400.67 1420.39C1399.66 1423.09 1398.31 1425.44 1397.13 1428.48C1395.95 1431.51 1394.35 1435.22 1393.59 1438.59C1392.83 1441.96 1392.41 1445.16 1392.58 1448.7C1392.75 1452.24 1393.51 1456.12 1394.6 1459.82C1395.7 1463.53 1397.72 1467.57 1399.15 1470.95C1400.58 1474.32 1402.27 1477.35 1403.2 1480.05C1404.12 1482.74 1404.71 1485.27 1404.71 1487.12C1404.71 1488.98 1403.95 1490.41 1403.2 1491.17C1402.44 1491.93 1401.59 1492.18 1400.16 1491.67C1398.73 1491.17 1396.37 1489.9 1394.6 1488.13C1392.83 1486.37 1391.06 1483.92 1389.54 1481.06C1388.03 1478.19 1386.85 1474.48 1385.5 1470.95C1384.15 1467.41 1382.55 1463.7 1381.46 1459.82C1380.36 1455.95 1379.43 1451.73 1378.93 1447.69C1378.42 1443.65 1379.18 1439.1 1378.42 1435.56C1377.66 1432.02 1375.73 1429.15 1374.38 1426.46C1373.03 1423.76 1371.26 1421.06 1370.33 1419.38C1369.41 1417.69 1368.65 1417.52 1368.82 1416.34Z" fill="#000"/>
<path d="M1366.79 1546.78C1366.96 1544.42 1367.89 1541.39 1368.82 1538.69C1369.74 1535.99 1371.34 1533.47 1372.36 1530.6C1373.37 1527.74 1374.21 1523.86 1374.88 1521.5C1375.56 1519.14 1375.31 1517.63 1376.4 1516.45C1377.5 1515.27 1379.43 1514.42 1381.46 1514.42C1383.48 1514.42 1386.17 1516.11 1388.53 1516.45C1390.89 1516.78 1393.42 1516.95 1395.61 1516.45C1397.8 1515.94 1399.66 1514.93 1401.68 1513.41C1403.7 1511.9 1405.89 1509.03 1407.75 1507.35C1409.6 1505.66 1411.37 1504.14 1412.8 1503.3C1414.23 1502.46 1415.41 1502.04 1416.34 1502.29C1417.27 1502.54 1418.45 1503.47 1418.36 1504.82C1418.28 1506.17 1417.1 1508.44 1415.83 1510.38C1414.57 1512.32 1412.38 1514.76 1410.78 1516.45C1409.18 1518.13 1407.41 1518.81 1406.23 1520.49C1405.05 1522.18 1404.37 1524.37 1403.7 1526.56C1403.03 1528.75 1403.03 1531.28 1402.18 1533.63C1401.34 1535.99 1400.08 1538.19 1398.65 1540.71C1397.21 1543.24 1395.11 1546.44 1393.59 1548.8C1392.07 1551.16 1390.72 1552.85 1389.54 1554.87C1388.37 1556.89 1387.69 1558.74 1386.51 1560.94C1385.33 1563.13 1383.48 1566.5 1382.47 1568.01C1381.46 1569.53 1381.96 1569.53 1380.44 1570.04C1378.93 1570.54 1375.05 1571.55 1373.37 1571.05C1371.68 1570.54 1370.84 1569.02 1370.33 1567C1369.83 1564.98 1370.75 1561.27 1370.33 1558.91C1369.91 1556.55 1368.4 1554.87 1367.81 1552.85C1367.22 1550.82 1366.63 1549.14 1366.79 1546.78Z" fill="#000"/>
<path d="M1359.21 1584.72C1360.22 1583.62 1362.58 1583.03 1365.28 1582.69C1367.97 1582.36 1372.19 1582.36 1375.39 1582.69C1378.59 1583.03 1381.79 1583.54 1384.49 1584.72C1387.19 1585.9 1389.21 1587.67 1391.57 1589.77C1393.93 1591.88 1396.62 1594.74 1398.65 1597.36C1400.67 1599.97 1402.02 1602.41 1403.7 1605.44C1405.39 1608.48 1407.41 1612.52 1408.76 1615.56C1410.1 1618.59 1411.28 1621.12 1411.79 1623.65C1412.3 1626.17 1412.3 1628.36 1411.79 1630.72C1411.28 1633.08 1410.1 1635.44 1408.76 1637.8C1407.41 1640.16 1405.55 1642.69 1403.7 1644.88C1401.85 1647.07 1399.66 1649.77 1397.63 1650.95C1395.61 1652.13 1393.76 1652.46 1391.57 1651.96C1389.38 1651.45 1387.02 1649.93 1384.49 1647.91C1381.96 1645.89 1378.76 1642.18 1376.4 1639.82C1374.04 1637.46 1371.6 1635.78 1370.33 1633.76C1369.07 1631.73 1368.9 1629.71 1368.82 1627.69C1368.73 1625.67 1370.08 1624.15 1369.83 1621.62C1369.58 1619.1 1368.06 1615.72 1367.3 1612.52C1366.54 1609.32 1366.2 1605.44 1365.28 1602.41C1364.35 1599.38 1362.75 1596.51 1361.74 1594.32C1360.73 1592.13 1359.63 1590.87 1359.21 1589.27C1358.79 1587.67 1358.2 1585.81 1359.21 1584.72Z" fill="#000"/>
<path d="M1353.14 1706.56C1353.06 1704.03 1352.98 1699.31 1354.16 1696.45C1355.34 1693.58 1357.53 1691.73 1360.22 1689.37C1362.92 1687.01 1366.63 1684.31 1370.33 1682.29C1374.04 1680.27 1379.1 1678.25 1382.47 1677.23C1385.84 1676.22 1387.69 1676.22 1390.56 1676.22C1393.42 1676.22 1397.21 1676.39 1399.66 1677.23C1402.1 1678.08 1403.87 1679.59 1405.22 1681.28C1406.57 1682.96 1406.82 1685.49 1407.75 1687.35C1408.67 1689.2 1409.6 1690.72 1410.78 1692.4C1411.96 1694.09 1413.73 1695.6 1414.82 1697.46C1415.92 1699.31 1417.18 1701.67 1417.35 1703.52C1417.52 1705.38 1416.93 1706.89 1415.83 1708.58C1414.74 1710.26 1412.97 1711.95 1410.78 1713.63C1408.59 1715.32 1405.39 1717.01 1402.69 1718.69C1399.99 1720.38 1397.13 1722.23 1394.6 1723.75C1392.07 1725.26 1389.71 1727.12 1387.52 1727.79C1385.33 1728.46 1383.65 1728.3 1381.46 1727.79C1379.27 1727.29 1376.91 1726.11 1374.38 1724.76C1371.85 1723.41 1368.99 1721.05 1366.29 1719.7C1363.59 1718.35 1360.14 1718.02 1358.2 1716.67C1356.26 1715.32 1355.5 1713.3 1354.66 1711.61C1353.82 1709.93 1353.23 1709.08 1353.14 1706.56Z" fill="#000"/>
<line x1="1387.5" y1="1432" x2="1451" y2="1432" stroke="#9b1a62" stroke-width="4.6"/>
<path d="M1387.5 1533.6H1411.6V1472.6H1451" fill="none" stroke="#9b1a62" stroke-width="4.6"/>
<line x1="1387.5" y1="1618.1" x2="1451" y2="1618.1" stroke="#9b1a62" stroke-width="4.6"/>
<line x1="1387.5" y1="1700.5" x2="1451" y2="1700.5" stroke="#9b1a62" stroke-width="4.6"/>
<circle cx="1387.5" cy="1432" r="9.2" fill="#9b1a62"/>
<circle cx="1387.5" cy="1533.6" r="9.2" fill="#9b1a62"/>
<circle cx="1387.5" cy="1618.1" r="9.2" fill="#9b1a62"/>
<circle cx="1387.5" cy="1700.5" r="9.2" fill="#9b1a62"/>
<line x1="1451.25" y1="1400.5" x2="1451.25" y2="1822.5" stroke="#000" stroke-width="1.5"/>
<line x1="1451.25" y1="1821.75" x2="1686.25" y2="1821.75" stroke="#000" stroke-width="1.5"/>
<line x1="1438" y1="1401.25" x2="1451.25" y2="1401.25" stroke="#000" stroke-width="1.5"/>
<line x1="1438" y1="1485" x2="1451.25" y2="1485" stroke="#000" stroke-width="1.5"/>
<line x1="1438" y1="1569.4" x2="1451.25" y2="1569.4" stroke="#000" stroke-width="1.5"/>
<line x1="1438" y1="1653.75" x2="1451.25" y2="1653.75" stroke="#000" stroke-width="1.5"/>
<line x1="1438" y1="1738" x2="1451.25" y2="1738" stroke="#000" stroke-width="1.5"/>
<line x1="1438" y1="1821.75" x2="1451.25" y2="1821.75" stroke="#000" stroke-width="1.5"/>
<line x1="1497.5" y1="1821.75" x2="1497.5" y2="1835" stroke="#000" stroke-width="1.5"/>
<line x1="1568.25" y1="1821.75" x2="1568.25" y2="1835" stroke="#000" stroke-width="1.5"/>
<line x1="1639.25" y1="1821.75" x2="1639.25" y2="1835" stroke="#000" stroke-width="1.5"/>
<text x="1435.3" y="1409" font-size="24.9" text-anchor="end">2</text>
<text x="1435.3" y="1493.2" font-size="24.9" text-anchor="end">1</text>
<text x="1435.3" y="1577.2" font-size="24.9" text-anchor="end">0</text>
<text x="1435.3" y="1662" font-size="24.9" text-anchor="end">–1</text>
<text x="1435.3" y="1746" font-size="24.9" text-anchor="end">–2</text>
<text x="1435.3" y="1830.2" font-size="24.9" text-anchor="end">–3</text>
<text transform="translate(1335 1613) rotate(-90)" font-size="29" text-anchor="middle">Cell eccentricity (<tspan font-style="italic">z</tspan>-score)</text>
<line x1="1454.5" y1="1569.4" x2="1688" y2="1569.4" stroke="#000" stroke-width="3" stroke-dasharray="0.01 7.45" stroke-linecap="round"/>
<line x1="1498.25" y1="1452.5" x2="1498.25" y2="1507.5" stroke="#000" stroke-width="4.6"/><line x1="1498.25" y1="1603" x2="1498.25" y2="1806.25" stroke="#000" stroke-width="4.6"/><line x1="1486.5" y1="1452.5" x2="1510" y2="1452.5" stroke="#000" stroke-width="4.6" stroke-linecap="round"/><line x1="1486.5" y1="1806.25" x2="1510" y2="1806.25" stroke="#000" stroke-width="4.6" stroke-linecap="round"/><rect x="1474.8" y="1509.8" width="46.65" height="90.9" fill="none" stroke="#000" stroke-width="4.6"/><line x1="1474.8" y1="1561.25" x2="1521.45" y2="1561.25" stroke="#000" stroke-width="4.6"/>
<line x1="1568.25" y1="1438" x2="1568.25" y2="1447" stroke="#000" stroke-width="4.6"/><line x1="1568.25" y1="1498.75" x2="1568.25" y2="1660.5" stroke="#000" stroke-width="4.6"/><line x1="1557" y1="1438" x2="1580.5" y2="1438" stroke="#000" stroke-width="4.6" stroke-linecap="round"/><line x1="1557" y1="1660.5" x2="1580.5" y2="1660.5" stroke="#000" stroke-width="4.6" stroke-linecap="round"/><rect x="1544.8" y="1449.3" width="47.4" height="47.15" fill="none" stroke="#000" stroke-width="4.6"/><line x1="1544.8" y1="1464.5" x2="1592.2" y2="1464.5" stroke="#000" stroke-width="4.6"/>
<line x1="1639.5" y1="1426.25" x2="1639.5" y2="1443" stroke="#000" stroke-width="4.6"/><line x1="1639.5" y1="1494.5" x2="1639.5" y2="1685" stroke="#000" stroke-width="4.6"/><line x1="1627.5" y1="1426.25" x2="1651.25" y2="1426.25" stroke="#000" stroke-width="4.6" stroke-linecap="round"/><line x1="1627.5" y1="1685" x2="1651.25" y2="1685" stroke="#000" stroke-width="4.6" stroke-linecap="round"/><rect x="1615.55" y="1445.3" width="47.15" height="46.9" fill="none" stroke="#000" stroke-width="4.6"/><line x1="1615.55" y1="1464.5" x2="1662.7" y2="1464.5" stroke="#000" stroke-width="4.6"/>
<g fill="#ff5a3c" fill-opacity="0.58"><circle cx="1491.25" cy="1452.5" r="7"/><circle cx="1478.75" cy="1455" r="7"/><circle cx="1478.75" cy="1465" r="7"/><circle cx="1491.25" cy="1467.5" r="7"/><circle cx="1505" cy="1467.5" r="7"/><circle cx="1516.25" cy="1468.75" r="7"/><circle cx="1478.75" cy="1477.5" r="7"/><circle cx="1491.25" cy="1485" r="7"/><circle cx="1503.75" cy="1485" r="7"/><circle cx="1491.25" cy="1506.25" r="7"/><circle cx="1503.75" cy="1520" r="7"/><circle cx="1510" cy="1528.75" r="7"/><circle cx="1478.75" cy="1533.75" r="7"/><circle cx="1516.25" cy="1536.25" r="7"/><circle cx="1510" cy="1545" r="7"/><circle cx="1491.25" cy="1548.75" r="7"/><circle cx="1503.75" cy="1551.25" r="7"/><circle cx="1516.25" cy="1547.5" r="7"/><circle cx="1478.75" cy="1556.25" r="7"/><circle cx="1503.75" cy="1567.5" r="7"/><circle cx="1516.25" cy="1568.75" r="7"/><circle cx="1491.25" cy="1571.25" r="7"/><circle cx="1480" cy="1576.25" r="7"/></g>
<g fill="#ff5a3c" fill-opacity="0.58"><circle cx="1478.75" cy="1577.5" r="7"/><circle cx="1491.25" cy="1583.75" r="7"/><circle cx="1516.25" cy="1581.25" r="7"/><circle cx="1516.25" cy="1592.5" r="7"/><circle cx="1478.75" cy="1598.75" r="7"/><circle cx="1491.25" cy="1600" r="7"/><circle cx="1503.75" cy="1602.5" r="7"/><circle cx="1516.25" cy="1605" r="7"/><circle cx="1503.75" cy="1615" r="7"/><circle cx="1491.25" cy="1618.75" r="7"/><circle cx="1503.75" cy="1651.25" r="7"/><circle cx="1516.25" cy="1689.5" r="7"/><circle cx="1503.75" cy="1692.5" r="7"/><circle cx="1491.25" cy="1696.25" r="7"/><circle cx="1491.25" cy="1720" r="7"/><circle cx="1491.25" cy="1755.75" r="7"/><circle cx="1491.25" cy="1806.25" r="7"/></g>
<g fill="#2ba56b" fill-opacity="0.58"><circle cx="1563.75" cy="1437.5" r="7"/><circle cx="1572.5" cy="1440" r="7"/><circle cx="1555" cy="1442.5" r="7"/><circle cx="1582.5" cy="1442.5" r="7"/><circle cx="1550" cy="1446.25" r="7"/><circle cx="1587.5" cy="1445" r="7"/><circle cx="1567.5" cy="1447.5" r="7"/><circle cx="1577.5" cy="1450" r="7"/><circle cx="1558.75" cy="1455" r="7"/><circle cx="1572.5" cy="1460" r="7"/><circle cx="1555" cy="1467.5" r="7"/><circle cx="1582.5" cy="1467.5" r="7"/><circle cx="1565" cy="1468.75" r="7"/><circle cx="1565" cy="1475" r="7"/><circle cx="1577.5" cy="1478.75" r="7"/><circle cx="1558.75" cy="1477.5" r="7"/><circle cx="1567.5" cy="1491.25" r="7"/><circle cx="1568.25" cy="1517.5" r="7"/><circle cx="1572.5" cy="1531.25" r="7"/><circle cx="1563.75" cy="1538.75" r="7"/></g>
<g fill="#2ba56b" fill-opacity="0.58"><circle cx="1568.25" cy="1607" r="7"/><circle cx="1568.25" cy="1660.75" r="7"/></g>
<g fill="#3240b4" fill-opacity="0.58"><circle cx="1625" cy="1426.25" r="7"/><circle cx="1638.75" cy="1430" r="7"/><circle cx="1657.5" cy="1432.5" r="7"/><circle cx="1620" cy="1436.25" r="7"/><circle cx="1630" cy="1436.25" r="7"/><circle cx="1647.5" cy="1437.5" r="7"/><circle cx="1653.75" cy="1435" r="7"/><circle cx="1625" cy="1442.5" r="7"/><circle cx="1636.25" cy="1443.75" r="7"/><circle cx="1645" cy="1442.5" r="7"/><circle cx="1657.5" cy="1445" r="7"/><circle cx="1620" cy="1447.5" r="7"/><circle cx="1630" cy="1450" r="7"/><circle cx="1640" cy="1451.25" r="7"/><circle cx="1650" cy="1450" r="7"/><circle cx="1625" cy="1456.25" r="7"/><circle cx="1635" cy="1457.5" r="7"/><circle cx="1645" cy="1458.75" r="7"/><circle cx="1655" cy="1456.25" r="7"/><circle cx="1622.5" cy="1465" r="7"/><circle cx="1632.5" cy="1466.25" r="7"/><circle cx="1642.5" cy="1467.5" r="7"/><circle cx="1652.5" cy="1466.25" r="7"/><circle cx="1627.5" cy="1473.75" r="7"/><circle cx="1637.5" cy="1475" r="7"/><circle cx="1647.5" cy="1473.75" r="7"/><circle cx="1632.5" cy="1482.5" r="7"/><circle cx="1642.5" cy="1483.75" r="7"/><circle cx="1650" cy="1481.25" r="7"/><circle cx="1638.75" cy="1490" r="7"/><circle cx="1645" cy="1491.25" r="7"/><circle cx="1630" cy="1486.25" r="7"/></g>
<g fill="#3240b4" fill-opacity="0.58"><circle cx="1635" cy="1502.5" r="7"/><circle cx="1642.5" cy="1520" r="7"/><circle cx="1637.5" cy="1525" r="7"/><circle cx="1638.75" cy="1536.25" r="7"/><circle cx="1638.75" cy="1553.75" r="7"/></g>
<g fill="#3240b4" fill-opacity="0.58"><circle cx="1634.5" cy="1585.75" r="7"/><circle cx="1643.75" cy="1591.25" r="7"/><circle cx="1638.75" cy="1598.75" r="7"/><circle cx="1639.25" cy="1685" r="7"/></g>
<line x1="1486.75" y1="1341.75" x2="1630" y2="1341.75" stroke="#000" stroke-width="3.4"/>
<line x1="1568.75" y1="1383.25" x2="1632" y2="1383.25" stroke="#000" stroke-width="3.4"/>
<line x1="1489.25" y1="1420.75" x2="1552.5" y2="1420.75" stroke="#000" stroke-width="3.4"/>
<text x="1501.5" y="1331.5" font-size="24.3"><tspan font-style="italic">P</tspan> = 0.001</text>
<text x="1581" y="1374.7" font-size="24.9">n.s.</text>
<text x="1475.3" y="1412.7" font-size="24.3"><tspan font-style="italic">P</tspan> = 0.01</text>
</g>
</svg>
</body>
</html>
